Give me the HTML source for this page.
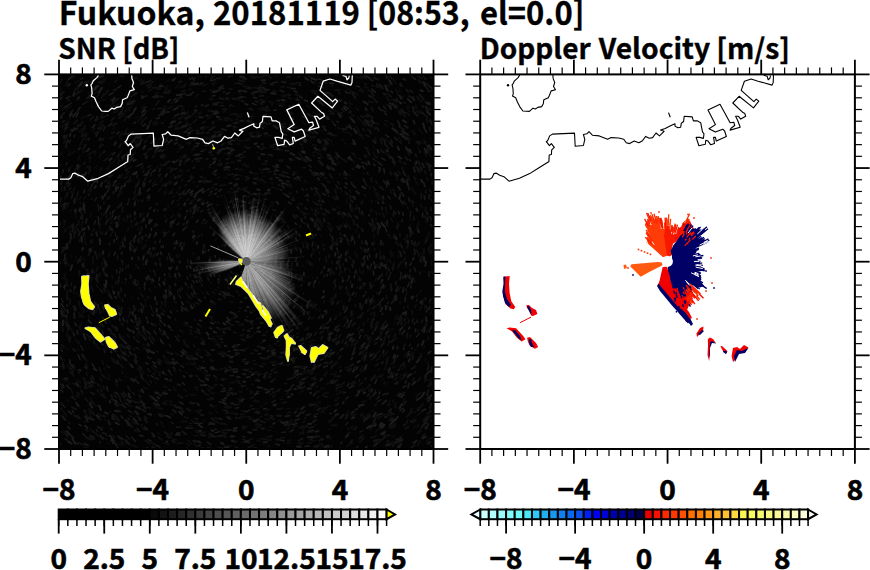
<!DOCTYPE html><html><head><meta charset="utf-8"><style>html,body{margin:0;padding:0;background:#fff;overflow:hidden}svg{display:block}.t{font-family:'Noto Sans CJK JP','Liberation Sans',sans-serif;font-weight:bold;font-size:28.5px;fill:#000;stroke:#000;stroke-width:0.35px}.d{font-family:'Noto Sans CJK JP','Liberation Sans',sans-serif;font-weight:bold;font-size:28px;fill:#000;stroke:#000;stroke-width:0.6px}.ti{font-family:'Noto Sans CJK JP','Liberation Sans',sans-serif;font-weight:bold;font-size:32.5px;fill:#000;stroke:#000;stroke-width:0.3px}</style></head><body>
<svg width="870" height="570" viewBox="0 0 870 570">
<rect width="870" height="570" fill="#fff"/>
<clipPath id="cl"><rect x="59.0" y="74.4" width="374.5" height="374.6"/></clipPath>
<clipPath id="cr"><rect x="480.2" y="74.4" width="374.7" height="374.6"/></clipPath>
<rect x="59.0" y="74.4" width="374.5" height="374.6" fill="#030303"/>
<g clip-path="url(#cl)">
<g fill="none" stroke-linecap="round">
<path stroke="#1c1c1c" stroke-width="1.5" d="M228.8 284.8l-0.9 -1.5M293.4 385.0l-2.2 2.0M63.0 249.8l0.1 -2.4M84.9 229.4l-0.0 -1.7M92.3 127.8l2.5 -3.1M224.9 388.3l-1.9 0.4M257.5 88.3l3.5 -0.6M67.7 313.3l0.1 -3.5M229.7 351.4l-1.3 -0.1M147.3 429.4l-2.8 -2.3M406.4 133.2l1.8 2.2M361.9 211.2l0.8 2.8M191.5 263.2l-0.9 -2.6M315.3 209.9l0.6 1.4M163.9 315.0l-2.4 -1.8M256.8 91.2l1.9 0.3M307.0 366.9l-3.0 1.6M202.6 367.2l-1.6 -0.2M116.2 298.3l-1.4 -1.8M255.1 421.9l-2.2 -0.9M118.7 449.0l-1.5 -2.0M210.7 338.8l-2.1 -0.5M98.2 128.5l0.8 -1.2M288.9 202.8l2.0 1.3M202.4 381.4l-3.5 -2.2M312.6 243.7l-0.3 2.2M434.5 318.5l-2.1 3.3M151.5 230.4l-0.1 -1.9M232.2 392.8l-2.3 0.6M117.2 382.0l-1.2 -2.0M205.6 106.7l2.8 -1.8M404.5 374.2l-0.7 1.7M414.5 322.5l-0.1 1.8M215.5 257.3l-0.4 -1.8M108.8 188.9l1.5 -4.1M385.4 431.1l-1.9 3.7M426.4 422.7l-4.1 3.3M221.0 294.8l-2.2 -1.1M279.3 175.0l2.8 0.1M177.2 407.8l-2.8 -2.3M213.0 221.1l1.5 -1.2M328.2 354.2l-3.1 2.9M426.5 212.1l1.2 2.7M144.5 142.4l1.2 -1.1M86.0 385.3l-1.0 -2.5M374.0 319.4l-1.5 1.3M160.2 286.2l-1.5 -2.7M402.8 212.8l0.4 2.5M315.4 393.5l-1.9 2.1M243.2 79.0l3.4 -0.3M160.0 363.3l-1.9 -1.9M217.9 90.8l2.7 -1.7M254.2 124.4l2.6 -0.3M310.8 80.8l3.2 2.6M191.3 202.3l0.8 -1.6M83.2 207.4l0.6 -4.3M383.8 350.4l-0.6 3.1M122.7 246.5l0.3 -4.2M392.6 418.6l-1.3 1.9M239.9 266.9l-0.5 -1.1M318.1 157.8l2.0 0.7M108.6 125.9l3.4 -2.9M181.3 248.3l0.9 -1.6M66.2 264.1l0.4 -1.5M390.9 442.9l-4.4 1.7M297.8 366.4l-3.5 0.5M367.1 256.1l0.9 3.4M202.5 357.6l-1.9 -0.8M73.4 332.2l-3.2 -4.1M226.5 94.2l3.0 -1.8M200.4 445.4l-2.4 -0.0M237.4 316.6l-2.4 0.6M94.3 367.2l-2.2 -3.3M283.2 293.1l-1.2 1.6M125.8 280.0l-0.0 -1.5M102.9 344.8l-2.6 -2.9M430.1 87.0l3.1 2.0M406.1 289.2l-0.3 1.0M81.3 425.6l-2.3 -1.3M109.4 95.0l3.4 -2.1M301.2 218.5l0.7 3.0M319.5 86.2l3.7 1.7M301.5 374.2l-2.3 0.1M248.1 116.6l2.0 0.5M63.6 306.9l-2.4 -3.2M109.4 338.8l-0.2 -0.9M184.1 132.7l3.0 -1.9M247.9 362.9l-1.9 0.0M221.0 86.5l2.1 -0.9M281.8 421.7l-1.3 0.7M352.4 184.7l3.1 2.9M71.8 414.1l-3.6 -3.0M360.1 360.9l-0.9 0.8M172.9 223.3l1.0 -1.9M221.0 448.8l-2.1 -1.1M310.4 282.5l-0.8 2.0M110.4 402.3l-0.4 -1.2M161.9 322.3l-2.0 -2.2M210.7 80.4l4.6 -0.7M389.3 340.3l-0.2 2.7M298.2 371.4l-2.3 0.2M414.3 249.3l1.1 4.8M198.4 423.6l-4.7 -0.9M117.2 406.1l-2.6 -2.7M179.0 123.2l1.9 -1.4M120.6 76.0l3.4 -1.0M326.2 327.1l-3.0 1.4M430.2 216.7l1.7 4.1M125.1 296.1l-0.1 -1.6M314.9 306.4l-1.5 0.9M114.2 242.2l0.1 -2.4M160.6 416.1l-2.1 -2.1M212.4 267.9l-0.8 -1.4M343.1 173.8l2.1 1.3M147.1 261.5l-0.3 -2.1M150.7 358.4l-3.2 -1.3M171.2 268.4l0.1 -1.5M138.3 138.0l2.5 -2.1M362.1 329.3l-2.2 1.5M66.4 379.9l-2.3 -1.7M148.0 364.0l-2.4 -1.2M330.3 337.4l-1.0 2.8M94.2 343.5l-0.2 -2.6M149.5 209.0l1.6 -1.5M299.4 85.1l1.2 0.1M224.9 246.5l0.5 -1.9M324.3 266.6l-0.3 2.1M374.0 77.7l1.7 1.1M382.4 413.5l-3.9 1.2M250.0 376.7l-3.6 0.9M156.1 264.8l-0.7 -1.9M397.5 373.5l-1.6 2.0M88.4 140.0l0.8 -1.7M133.9 123.1l2.0 -0.8M396.8 288.6l-1.0 2.8M130.6 102.2l4.2 -1.6M385.1 393.5l-2.0 1.3M240.0 219.8l1.8 -0.8M174.8 115.9l4.3 -2.0M135.4 441.5l-1.8 -2.7M156.4 367.2l-2.9 -1.8M281.8 310.5l-1.4 0.6M76.3 325.8l-1.4 -3.1M270.2 178.3l1.7 0.9M425.7 409.0l-4.0 2.2M409.3 159.5l1.3 1.3M172.5 162.0l1.5 -0.8M360.6 335.2l-1.2 3.0M253.8 97.5l2.9 0.5M411.2 262.9l-1.3 2.5M295.8 230.8l0.9 1.8M62.7 391.9l-1.8 -1.6M95.2 383.4l-2.9 -2.0M273.3 144.2l3.1 0.2M180.1 433.0l-3.5 -0.1M246.3 87.8l4.7 0.2M132.2 114.4l1.7 -3.0M334.2 424.5l-1.0 1.3M87.8 421.6l-2.2 -4.5M331.8 74.3l4.8 1.3M408.6 187.2l0.1 2.4M92.0 235.1l-0.3 -1.2M79.9 261.5l0.8 -4.4M171.4 312.7l-1.2 -1.6M312.9 368.4l-2.4 3.3M280.9 125.7l2.6 1.5M66.5 318.1l-1.9 -2.7M405.9 385.8l-3.0 1.6M397.1 441.4l-0.6 1.1M136.8 362.8l-2.4 -1.8M356.4 86.3l3.0 0.5M199.8 158.5l2.1 -0.2M307.1 194.3l1.2 1.6M74.5 314.8l-0.2 -2.6M98.4 219.8l-0.2 -2.8M376.0 392.6l-3.1 3.1M149.1 345.6l-1.4 -1.9M112.3 154.7l2.5 -2.1M83.9 192.8l0.7 -2.8M87.5 116.1l3.4 -1.6M246.7 320.4l-1.7 -0.7M359.0 207.9l0.5 1.8M156.1 334.1l-2.1 -3.3M326.0 310.4l-1.8 1.2M385.7 135.1l2.9 1.9M129.6 394.4l-1.3 -1.2M331.6 349.7l-1.3 1.7M431.2 403.6l-1.3 5.2M288.7 259.9l-0.9 2.5M69.9 429.0l-2.2 -2.5M161.2 395.5l-1.3 -0.4M382.7 195.7l1.1 2.8M95.2 337.5l-1.7 -1.4M144.1 175.3l1.8 -1.3M320.2 351.5l-0.9 1.9M345.1 106.2l3.3 2.7M117.0 134.0l2.0 -2.0M279.3 105.7l2.7 0.2M376.5 379.7l-1.5 3.9M183.0 404.0l-3.4 -1.9M365.9 353.2l-1.0 4.1M286.6 176.5l2.6 0.9M238.3 228.7l2.0 -0.8M147.0 319.0l-0.8 -2.0M187.3 200.4l1.3 -1.3M258.3 147.5l1.4 0.2M369.4 223.1l1.1 1.6M377.8 202.3l0.9 1.2M241.1 96.4l4.0 0.8M327.3 274.5l-0.5 1.4M184.5 384.7l-2.0 -1.9M246.3 310.8l-1.1 -0.3M317.6 177.9l1.9 1.9M297.0 423.5l-4.5 1.1M145.5 411.8l-3.1 -1.8M213.7 113.2l3.4 -1.9M227.9 370.7l-2.6 -0.8M371.4 124.5l1.0 1.6M405.4 297.5l-0.5 3.8M88.2 303.7l-1.8 -3.4M68.1 183.9l0.5 -4.2M348.0 320.4l-1.0 2.3M270.9 223.0l1.5 1.4M365.9 291.4l0.0 1.4M401.0 394.2l-0.7 1.1M92.6 127.8l1.8 -1.6M343.9 401.6l-1.2 1.9M88.8 97.7l1.5 -0.9M346.7 342.1l-1.8 1.6M327.7 189.7l1.2 2.9M116.6 239.5l0.8 -2.8M228.5 76.9l3.9 -1.6M165.2 325.9l-0.9 -2.2M113.1 106.6l3.5 -1.1M262.6 270.3l-1.6 1.0M410.8 286.0l0.3 1.9M276.5 242.0l0.9 0.7M310.3 218.4l2.0 2.5M115.0 419.4l-3.1 -1.1M353.8 339.3l-2.0 2.5M261.8 102.3l2.6 -0.2M69.2 326.4l-2.4 -3.1M145.8 278.7l0.5 -1.6M323.1 359.1l-2.6 1.0M416.2 166.9l1.0 1.3M423.7 182.4l1.2 4.2M383.1 298.6l-1.4 1.8M77.4 405.9l-1.5 -3.6M299.3 418.9l-4.1 1.3M410.1 232.3l0.8 3.1M422.6 212.9l0.2 4.0M354.4 349.7l-1.3 3.1M244.5 190.3l1.3 0.4M126.6 160.1l1.6 -1.7M384.0 341.2l-0.3 2.5M228.1 207.8l1.4 -1.1M322.5 126.5l2.4 0.5M345.4 91.1l1.6 2.3M357.7 367.0l-1.6 2.5M284.9 299.1l-0.7 1.7M170.1 317.9l-2.3 -1.9M152.5 324.8l-1.2 -1.6M409.3 351.6l-1.7 1.4M214.6 174.8l1.6 -0.3M150.9 441.2l-2.5 -1.6M84.1 357.4l-1.6 -3.1M385.7 229.0l1.3 3.0M158.4 446.6l-3.2 -1.7M412.1 347.8l-0.3 1.2M351.6 334.2l-1.3 0.8M200.0 333.6l-1.3 -0.5M74.4 335.8l-1.8 -4.4M336.8 248.1l0.6 1.9M187.5 129.5l3.3 -2.2M114.3 443.5l-1.5 -0.3M105.5 234.3l1.0 -2.1M84.9 291.4l-0.5 -2.9M73.6 412.5l-1.4 -2.0M362.0 162.2l1.5 0.8M137.9 424.2l-3.6 -1.8M230.0 355.8l-2.4 -0.4M142.2 239.5l-0.4 -2.9M351.4 320.3l-1.2 2.3M239.5 344.5l-2.8 0.8M212.4 96.1l2.5 -0.5M287.1 77.2l2.8 -0.4M290.7 117.7l2.5 1.6M230.5 140.3l3.6 0.3M381.7 158.1l3.4 2.0M412.2 77.0l3.2 2.3M428.1 102.0l2.1 1.4M229.2 293.6l-1.6 -0.8M349.0 275.8l-0.1 2.5M187.7 181.4l2.7 -1.0M247.9 411.5l-3.9 0.1M115.8 400.9l-4.1 -1.9M94.1 393.9l-2.8 -1.2M201.2 151.3l2.3 -0.3M160.3 331.1l-0.8 -2.5M322.8 193.3l2.4 1.9M97.2 182.7l0.2 -3.0M209.8 165.0l1.0 -0.1M409.6 282.3l-1.9 4.4M260.8 353.6l-2.7 0.3M184.9 117.9l3.1 -0.4M372.8 74.7l1.9 0.6M248.8 215.2l1.3 -0.0M337.5 212.6l1.4 1.9M296.6 300.1l-1.6 1.2M291.7 276.1l0.1 2.7M173.8 364.3l-1.9 -2.3M237.9 178.8l0.9 0.2M164.6 142.4l2.8 -2.1M386.5 182.7l0.5 4.3M279.1 160.6l2.5 0.6M302.6 116.7l2.9 0.8M249.6 331.3l-2.0 -0.6M321.3 173.6l2.1 1.7M303.5 160.0l3.5 1.7M100.6 208.9l-0.1 -2.5M274.7 349.5l-2.9 2.2M170.1 258.9l-0.5 -2.1M107.8 192.0l0.1 -2.0M246.3 280.0l-1.7 -0.1M378.6 107.2l2.7 3.4M91.3 186.5l1.5 -2.6M243.5 251.9l1.5 -0.3M75.3 129.8l1.9 -1.5M122.9 418.3l-1.7 -2.5M345.3 392.3l-2.0 0.6M193.1 79.3l1.6 -1.0M378.3 227.8l1.0 1.3M377.5 149.6l1.4 2.8M111.6 218.0l0.9 -2.5M266.3 408.4l-2.7 0.6M296.4 258.1l-0.6 2.8M394.4 235.9l1.2 3.0M389.1 415.0l-4.6 2.4M64.7 258.7l0.1 -4.3M326.3 210.7l2.5 2.1M319.8 316.3l-1.3 1.9M400.5 244.3l2.1 3.6M182.4 397.9l-2.6 -1.8M391.6 412.4l-1.0 0.7M383.8 168.6l0.7 4.4M403.2 408.4l-3.2 2.2M336.7 121.4l1.6 0.7M295.6 157.3l2.5 0.7M249.1 337.3l-2.1 -0.0M181.8 250.0l0.7 -1.7M276.1 148.5l2.8 0.1M309.0 311.8l-1.4 2.0M318.1 345.6l-1.4 1.8M230.8 430.1l-4.0 0.5M69.6 388.4l-2.9 -3.1M127.5 204.5l0.5 -1.5M104.5 95.0l2.7 -4.1M159.3 405.4l-1.9 -2.2M184.9 219.1l0.6 -2.9M404.4 410.0l-1.5 2.4M213.0 406.7l-2.7 -1.8M316.4 416.6l-2.4 0.3M192.4 357.1l-1.8 -1.5M345.4 183.0l1.9 1.1M278.2 121.5l1.7 0.0M125.5 407.3l-3.8 -2.4M427.1 145.6l1.6 3.5M252.8 327.8l-2.3 1.2M267.9 256.1l0.3 1.0M118.4 394.3l-3.0 -1.9M247.8 363.5l-2.4 0.5M318.2 79.0l3.3 0.9M107.9 390.7l-1.3 -4.1M258.5 413.4l-3.2 -1.1M318.3 200.7l1.5 0.8M264.9 90.6l3.8 -1.2M402.9 78.6l2.5 1.5M163.3 247.4l-0.3 -1.7M258.2 158.3l1.6 0.8M263.4 169.3l2.9 0.0M189.5 297.8l-0.7 -1.8M225.1 332.8l-2.3 -0.3M379.5 266.3l0.8 2.0M291.4 88.5l4.0 0.1M221.7 435.8l-3.4 0.1M238.1 275.5l-0.7 -0.9M261.1 124.3l2.0 -0.7M418.8 80.0l1.1 2.4M146.6 82.6l4.0 -2.2M63.9 137.6l0.4 -2.1M217.9 249.2l0.5 -1.7M248.0 230.4l1.1 -0.3M342.9 348.1l-2.6 2.3M201.6 320.8l-2.2 -0.5M312.6 115.6l3.7 2.5M362.3 121.8l3.7 2.1M112.5 213.2l1.7 -3.0M199.2 405.4l-2.2 -2.1M153.1 377.0l-2.0 -1.4M62.5 351.3l-2.2 -2.8M250.7 280.2l-2.0 1.4M293.8 335.7l-1.2 1.0M301.3 151.6l3.5 1.9M424.2 128.4l2.6 4.2M315.6 234.6l0.5 0.8M335.3 382.2l-4.2 1.0M163.8 232.9l0.3 -0.8M166.7 296.2l-1.0 -1.6M335.8 317.8l-1.0 1.3M284.2 440.9l-4.4 -1.1M224.1 225.2l2.1 -0.4M167.4 416.3l-2.6 -0.9M208.3 251.0l1.1 -1.5M118.8 114.4l2.7 -3.0M278.7 341.1l-1.2 0.3M286.6 185.0l3.3 0.2M80.1 359.8l-1.8 -5.0M354.8 275.2l-0.6 2.6M368.8 214.6l0.8 1.3M279.7 326.6l-1.4 1.6M373.3 270.9l0.5 4.1M331.4 413.4l-1.4 0.2M196.1 143.3l3.3 0.1M398.2 211.5l1.4 2.5M341.2 370.2l-1.2 1.7M284.8 331.6l-1.1 0.4M336.4 154.8l3.2 1.4M403.8 276.2l-1.3 2.3M158.9 280.6l0.7 -3.1M309.1 446.0l-3.9 0.5M67.1 142.4l1.1 -2.2M356.1 270.0l-1.2 2.5M397.8 355.4l-0.9 1.8M395.7 236.5l1.3 3.3M348.8 383.5l-1.3 2.6M76.2 117.2l2.1 -4.6M379.8 392.1l-0.6 1.7M377.4 150.6l1.3 2.5M365.5 163.0l1.6 1.6M179.0 165.4l1.7 -0.7M75.2 233.2l-0.6 -2.4M188.9 428.3l-3.2 -0.6M327.4 366.0l-3.9 1.0M398.8 197.3l1.6 3.2M186.5 211.5l1.0 -1.0M294.0 360.8l-1.3 0.4M301.7 349.2l-1.8 1.9M173.7 162.8l2.8 -1.5M165.8 334.8l-3.0 -1.4M120.0 321.0l-0.4 -2.8M99.4 140.5l1.3 -2.4M323.4 185.4l2.2 1.6M252.6 103.3l3.4 1.6M338.0 325.6l-0.3 1.2M123.0 340.2l-2.5 -2.7M346.0 310.6l-1.7 1.6M140.1 142.5l2.0 -3.2M107.4 276.1l-0.8 -2.0M140.5 334.7l-2.2 -2.6M371.8 89.0l3.6 3.4M175.5 363.8l-3.1 -1.1M97.9 308.4l0.5 -4.0M334.1 124.4l1.6 1.2M365.9 301.0l-0.8 1.7M189.7 95.0l3.8 -2.9M246.2 311.0l-1.5 -0.4M257.1 146.0l2.6 1.2M295.2 222.9l1.3 1.4M390.9 91.1l1.5 1.3M265.4 375.6l-1.7 1.2M247.3 191.7l1.7 0.5M433.0 240.9l1.0 2.1M323.3 149.6l2.1 0.7M196.4 146.7l1.6 -1.7M274.8 276.4l-0.6 1.6M221.2 402.4l-1.9 -0.6M399.7 447.4l-1.6 1.4M383.6 139.1l1.3 3.2M346.4 259.1l0.2 2.2M400.1 194.2l0.2 3.0M359.6 278.7l0.4 1.9M369.4 254.6l0.4 2.4M103.5 309.2l-0.7 -3.0M211.1 78.4l3.3 -2.4M335.4 415.6l-1.1 1.5M117.9 87.9l2.9 -2.1M309.7 262.1l0.6 2.7M245.4 385.8l-3.6 0.5M196.8 133.3l2.3 -0.1M380.6 291.3l-2.0 2.8M182.2 356.3l-1.5 -0.8M153.7 211.3l1.2 -1.9M147.3 191.1l2.6 -2.2M362.8 166.0l1.6 2.6M191.8 287.7l-0.2 -2.0M412.8 420.3l-2.1 1.3M133.1 315.4l-0.9 -3.6M67.2 316.4l-0.7 -0.9M264.6 312.6l-1.4 0.4M371.5 263.9l-0.7 2.3M208.3 268.4l-0.0 -1.6M72.4 227.5l0.8 -3.6M243.7 196.3l1.9 -0.3M428.4 423.8l-2.3 5.3M166.5 298.2l-1.0 -1.4M114.0 255.3l1.3 -3.2M275.4 365.0l-2.9 0.3M238.4 91.7l2.3 -0.9M274.9 423.0l-2.1 1.0M403.3 171.4l2.0 4.3M372.5 390.0l-2.0 2.0M219.6 431.6l-4.2 1.2M266.2 212.1l1.2 0.8M275.8 177.5l2.7 0.4M164.7 275.5l-0.1 -1.7M189.9 203.8l2.0 -1.3"/>
<path stroke="#131313" stroke-width="1.5" d="M128.1 267.2l0.2 -2.1M258.6 393.3l-2.6 -0.0M135.8 144.0l1.3 -0.7M162.2 303.9l-0.5 -2.0M62.5 172.5l0.0 -1.7M262.8 387.6l-2.8 0.2M243.3 414.3l-2.4 0.3M65.1 255.5l0.6 -1.8M357.9 341.1l-0.9 1.1M158.1 401.3l-3.9 -2.6M355.6 382.6l-2.7 1.9M252.3 122.6l2.5 1.1M185.2 433.4l-1.6 -1.1M114.6 82.0l2.6 -1.9M103.9 260.5l0.0 -2.8M79.4 261.2l0.2 -2.4M293.7 283.6l-1.7 1.8M190.9 179.2l1.4 -0.3M213.0 339.0l-2.2 -0.3M348.2 279.2l-1.1 1.9M250.9 230.9l1.0 0.2M190.7 276.0l-0.4 -1.7M83.6 164.5l1.6 -2.0M257.2 279.2l-0.9 0.7M227.8 411.3l-4.3 -1.5M340.1 112.3l1.9 0.8M264.0 199.2l3.0 -0.0M149.5 133.3l4.0 -0.8M100.6 371.5l-1.5 -4.1M151.3 82.5l2.0 -1.0M315.1 203.3l1.7 1.2M87.3 282.5l-0.2 -4.2M355.6 366.3l-1.7 2.4M333.0 418.6l-3.6 3.8M235.2 285.6l-1.5 -1.7M427.4 416.4l-3.8 3.1M100.5 443.2l-1.1 -1.7M129.5 439.3l-3.4 -3.9M323.2 244.7l0.4 1.6M192.4 358.9l-2.6 -0.4M124.6 120.4l2.1 -3.9M320.6 199.8l0.6 1.8M370.0 416.7l-2.0 1.1M318.7 194.4l1.5 1.6M302.8 443.1l-4.6 0.1M402.6 326.2l-0.0 1.8M204.5 253.0l-0.4 -1.8M281.7 327.3l-3.0 1.3M130.1 243.2l1.3 -2.4M79.0 125.6l4.0 -3.9M138.7 242.7l0.7 -2.6M222.3 246.2l0.8 -1.3M177.9 363.2l-1.5 -1.6M281.5 124.4l3.8 -0.7M417.4 299.1l-0.9 2.1M168.8 90.3l1.6 -0.1M97.7 105.2l1.7 -3.7M234.0 127.3l2.8 -0.2M252.5 201.4l1.5 -0.3M391.1 139.6l1.3 2.5M145.2 334.2l-2.1 -3.5M140.8 124.4l2.4 -4.5M410.5 343.9l-1.3 2.3M64.3 347.4l-3.2 -2.9M293.0 214.9l1.9 1.2M110.9 120.6l3.5 -3.0M164.4 106.7l1.4 -0.5M293.6 216.8l2.3 1.2M114.6 437.1l-1.7 -1.6M260.2 426.7l-2.5 0.6M280.5 409.3l-3.5 -0.6M373.5 187.4l2.3 2.7M143.6 154.1l2.1 -0.7M304.7 421.2l-1.7 0.9M64.6 289.4l-0.6 -2.8M330.1 233.4l0.1 2.5M225.5 400.6l-3.4 -1.2M355.7 343.4l-1.4 1.6M397.0 94.4l2.8 1.5M220.0 185.4l1.7 -0.2M288.4 105.9l2.6 0.5M417.1 96.6l2.3 2.9M337.1 242.2l0.8 2.6M410.1 235.3l-0.3 1.7M337.6 379.8l-3.3 2.4M425.8 426.7l-1.6 1.1M156.1 184.8l1.3 -0.7M253.3 397.2l-2.6 0.8M235.4 179.1l2.1 0.4M75.7 213.0l0.7 -3.6M122.6 352.3l-1.8 -1.9M129.8 314.2l-0.5 -2.9M170.3 223.4l0.1 -2.1M74.9 384.5l-1.9 -1.1M121.4 206.2l0.2 -3.7M202.1 285.9l-0.6 -1.9M295.8 83.3l4.8 -0.5M303.0 167.5l2.1 0.3M185.3 119.4l3.4 -1.3M110.9 100.5l0.6 -0.8M304.6 77.1l3.8 3.3M350.5 281.2l-0.1 1.5M109.6 220.3l0.3 -1.7M298.3 297.4l-1.2 1.7M316.5 99.1l1.8 0.4M246.4 310.0l-2.1 0.8M260.0 99.6l4.1 1.4M176.3 302.8l-1.7 -1.3M317.3 276.6l-0.5 2.1M192.9 296.7l-1.0 -2.0M173.5 363.4l-0.9 -0.5M60.5 264.1l-0.4 -3.1M109.5 425.2l-1.7 -3.5M176.8 338.3l-1.4 -2.0M194.5 346.5l-0.9 -1.2M386.8 223.2l0.4 3.3M370.3 384.5l-2.6 2.8M211.5 74.9l2.6 -0.3M234.8 114.8l1.9 -1.0M422.7 319.8l-1.5 2.6M403.5 201.3l2.7 3.2M57.6 99.5l5.0 -2.7M114.4 293.5l-1.3 -1.9M88.5 173.1l1.9 -2.9M340.3 233.3l0.4 1.4M193.4 147.5l1.7 -1.4M294.6 361.8l-1.5 1.5M284.4 229.2l0.5 1.4M362.9 123.6l3.4 2.7M138.7 349.2l-2.8 -1.8M91.6 407.3l-1.4 -2.8M204.7 361.7l-1.7 -0.2M90.7 191.1l0.6 -2.4M336.4 326.8l-1.3 2.2M246.0 166.4l2.8 0.1M324.6 342.8l-0.8 1.2M262.6 317.1l-1.8 1.4M333.9 352.8l-1.0 1.7M283.5 183.1l1.9 0.7M245.0 235.2l1.0 -0.5M186.1 434.8l-3.0 -2.6M253.9 193.1l2.3 1.1M141.5 229.9l-0.2 -1.8M383.7 255.6l0.0 2.6M227.8 279.6l-1.1 -1.6M127.5 218.0l-0.2 -2.3M88.0 401.5l-3.2 -3.5M285.3 172.5l2.5 0.8M395.9 138.8l2.2 1.2M270.2 147.3l3.9 -0.4M201.7 410.3l-2.7 0.2M70.3 241.2l1.6 -3.2M120.1 364.3l-4.1 -2.5M149.7 371.5l-2.1 -2.8M197.4 211.3l1.0 -2.1M411.8 408.6l-1.7 2.8M146.8 418.3l-2.5 -1.2M270.4 312.1l-1.8 0.1M71.7 198.6l-0.1 -2.3M219.2 131.6l1.6 -0.5M326.6 138.6l3.7 1.8M68.8 155.6l0.4 -2.3M279.7 229.2l1.4 1.7M112.0 429.9l-1.9 -1.6M66.2 207.3l0.2 -2.4M60.8 444.2l-1.4 -1.5M139.7 370.7l-1.9 -2.4M79.4 394.4l-1.9 -2.2M152.6 397.3l-2.5 -1.5M302.2 352.2l-2.7 2.2M316.4 304.2l-0.9 1.2M267.7 190.3l1.5 1.4M316.3 332.1l-1.5 3.1M302.4 306.0l-1.0 2.6M174.7 244.4l-0.3 -2.1M416.7 226.7l2.4 4.3M367.6 120.5l3.1 1.9M257.6 157.1l2.3 -0.0M110.6 424.1l-2.3 -4.3M257.8 307.0l-1.2 0.6M328.5 268.8l-0.7 2.6M433.4 387.2l-0.8 3.7M273.7 275.3l-0.7 1.7M371.7 313.0l-0.6 1.3M126.5 348.2l-4.1 -2.3M226.0 164.0l2.4 -1.1M77.0 195.8l1.0 -3.8M362.9 414.9l-2.0 1.0M182.3 331.4l-2.6 -0.9M336.6 186.9l1.8 2.0M434.2 399.0l-1.6 1.5M303.5 245.9l0.2 1.5M366.1 377.8l-1.1 1.4M233.6 215.2l1.7 -0.2M77.6 263.1l1.3 -3.2M144.9 155.8l1.9 -3.6M368.6 298.4l-1.8 3.0M145.0 247.0l0.7 -2.4M340.4 225.1l1.1 1.4M81.3 214.1l-0.0 -2.1M391.6 417.5l-2.8 3.2M282.6 255.4l0.8 1.5M420.6 356.1l-1.8 1.7M434.5 300.3l-2.2 3.3M366.4 368.3l-1.9 1.9M415.6 371.5l-1.5 1.6M144.8 180.7l0.7 -3.1M291.5 344.1l-2.2 1.4M327.8 396.4l-3.1 0.8M337.1 226.4l1.3 2.4M335.8 294.0l0.1 2.8M262.1 289.1l-1.9 0.8M414.7 177.4l0.2 2.0M124.1 178.4l2.8 -1.6M260.4 247.5l0.6 1.3M134.6 338.5l-0.7 -2.0M201.4 235.6l0.6 -1.3M249.5 362.0l-2.4 -0.2M112.2 103.0l3.4 -3.1M104.9 182.1l1.5 -2.5M404.9 392.1l-4.2 2.2M281.1 87.0l3.0 -0.5M317.6 413.6l-3.5 1.7M144.0 331.5l-1.0 -3.5M290.1 83.8l4.8 0.3M252.2 216.1l0.9 0.3M380.7 255.9l0.9 2.2M377.7 229.8l0.9 2.1M427.1 177.8l0.4 2.1M79.3 373.2l-1.5 -3.0M312.7 241.9l0.7 1.8M209.8 391.1l-2.2 -1.7M347.6 318.6l-1.0 1.1M169.2 353.0l-2.1 -1.0M202.7 85.7l1.4 0.1M327.6 133.7l3.9 0.8M142.9 296.9l-0.2 -1.6M59.3 128.6l0.9 -2.7M431.1 381.9l-3.5 4.7M202.8 380.8l-2.6 0.1M89.7 171.3l0.5 -1.3M151.4 382.7l-1.4 -1.9M408.2 240.7l0.5 2.8M345.2 324.0l-1.2 2.8M289.5 125.3l2.5 -0.2M359.6 379.6l-0.7 1.7M102.5 334.6l-0.3 -2.3M200.7 370.2l-2.2 -1.5M426.4 118.1l1.1 4.1M142.9 172.4l1.0 -2.0M218.3 119.9l3.1 -0.8M121.0 271.0l-0.9 -3.0M413.5 411.7l-4.4 2.2M312.4 303.8l-0.8 2.0M271.2 374.3l-2.2 0.6M62.3 389.0l-0.7 -1.6M359.4 234.6l-0.3 3.2M380.9 440.1l-2.2 2.6M326.2 191.5l1.1 2.6M422.1 427.0l-1.8 2.0M331.5 101.6l3.2 2.7M212.5 173.9l2.0 -1.7M316.6 114.1l3.6 0.6M61.8 310.6l0.2 -2.7M172.6 330.5l-2.0 -1.5M357.9 165.3l1.0 3.2M64.1 138.5l3.3 -3.2M151.9 309.3l-1.1 -3.5M273.4 369.3l-2.1 1.5M118.1 284.2l-0.8 -3.3M104.8 377.8l-3.2 -3.3M124.1 247.5l0.9 -2.0M419.3 242.1l-0.6 2.1M368.0 90.0l4.3 1.5M268.1 110.1l1.8 0.2M221.6 384.7l-1.6 0.2M344.4 382.3l-2.7 2.8M76.5 226.3l1.0 -2.1M430.8 199.2l1.4 2.5M340.9 114.5l1.1 1.2M303.2 222.5l2.2 1.4M322.3 438.1l-3.1 2.8M130.1 217.6l0.1 -3.2M261.1 424.8l-3.2 -0.4M229.7 417.1l-1.3 -0.8M252.8 322.3l-2.0 0.8M245.6 211.1l2.1 -0.8M406.7 234.7l0.6 2.6M135.4 402.3l-2.3 -1.6M87.5 367.3l-1.6 -3.7M359.1 276.5l-0.4 1.8M212.0 188.0l1.6 -0.7M422.1 105.3l1.8 2.4M170.6 227.4l1.8 -1.6M115.7 236.2l-0.4 -3.4M332.8 303.0l-1.0 1.8M275.7 330.8l-1.5 0.3M239.3 381.4l-2.9 -1.3M415.1 365.8l-4.0 3.5M231.6 368.5l-2.3 -1.5M122.6 271.0l0.2 -2.9M145.4 263.4l0.3 -2.2M138.7 402.8l-3.3 -1.2M317.2 435.7l-2.9 1.1M372.2 229.6l1.3 2.1M232.6 240.4l1.0 -1.2M176.7 440.1l-3.7 -1.0M98.3 211.0l0.5 -3.7M93.7 394.4l-3.0 -2.1M240.0 158.4l3.0 -1.3M102.1 234.2l0.1 -2.2M315.0 420.8l-2.0 1.8M90.9 387.3l-2.5 -1.6M122.7 134.6l3.5 -1.6M299.0 248.0l-0.0 1.5M341.5 108.2l2.5 3.0M332.9 208.2l0.3 2.6M171.7 405.2l-1.5 -1.2M363.3 388.7l-1.0 2.4M100.7 197.6l1.6 -2.1M364.1 179.4l1.5 3.8M136.0 166.5l2.5 -1.2M267.0 260.4l-0.7 1.5M158.0 425.4l-1.4 -1.9M351.9 153.0l2.8 1.7M122.7 77.6l1.9 -2.7M310.1 262.7l-0.2 1.5M103.9 160.7l4.2 -2.6M98.2 436.1l-2.3 -2.8M160.3 189.6l0.6 -0.9M331.4 176.7l1.1 1.3M180.8 371.1l-1.3 -1.4M230.6 188.7l1.5 -0.2M250.6 417.1l-3.1 -0.0M394.6 361.9l-3.4 2.3M323.6 439.5l-2.6 0.4M121.8 345.5l-1.7 -1.3M264.5 439.2l-2.7 -0.4M316.0 203.1l2.8 2.0M378.1 363.7l-2.5 2.2M160.2 373.4l-0.7 -0.8M299.9 385.9l-3.4 0.6M260.2 412.1l-3.6 -1.0M169.3 275.1l0.1 -1.5M377.7 398.4l-1.5 1.0M300.8 248.8l0.6 1.7M165.2 333.6l-0.6 -1.6M99.2 147.7l4.0 -3.1M229.6 143.3l1.1 -0.2M165.6 140.1l1.8 -2.1M319.6 258.6l-0.2 1.8M292.2 319.8l-1.2 2.2M247.8 271.7l-1.8 0.1M193.5 122.3l3.1 -2.8M202.7 221.2l0.9 -1.5M256.2 420.5l-3.2 -0.7M343.8 83.2l1.8 2.2M335.8 185.0l1.8 1.7M214.1 132.1l4.1 0.3M201.5 203.4l2.1 -2.1M380.3 139.9l2.0 4.0M349.8 367.8l-2.9 2.6M286.7 247.1l0.8 1.6M417.6 76.0l4.5 2.7M378.3 321.6l-2.8 3.3M216.8 385.1l-2.1 -0.0M148.4 332.5l-3.0 -2.0M408.8 320.0l-0.6 2.9M389.7 435.1l-4.2 1.0M86.5 383.7l-0.7 -1.3M103.1 334.0l-1.2 -4.0M330.2 271.6l0.1 3.3M233.6 296.7l-2.2 -1.1M211.3 128.2l2.4 -0.9M223.7 449.0l-4.1 -1.5M106.0 222.1l2.1 -2.5M73.5 397.2l-0.4 -1.4M177.8 292.7l-0.2 -2.8M404.6 238.4l1.6 2.8M125.4 155.4l0.7 -2.1M394.4 373.0l-3.6 3.1M384.5 256.7l-0.2 2.8M90.6 413.8l-1.6 -4.4M363.6 330.1l-0.9 2.0M117.2 208.1l0.7 -2.0M281.7 95.0l2.5 1.8M298.9 323.4l-1.0 1.0M101.0 170.6l0.7 -2.7M258.6 391.4l-1.9 0.1M150.5 335.2l-1.7 -3.5M286.7 166.3l2.9 1.0M362.9 430.8l-3.0 1.2M73.4 190.1l1.1 -2.1M399.8 160.2l0.7 2.1M202.3 91.3l2.9 0.3M136.6 177.7l1.0 -2.7M326.4 260.1l0.1 1.9M276.8 328.5l-1.1 0.5M267.3 439.8l-3.9 -1.0M230.6 284.2l-1.0 -0.2M66.2 311.2l-2.2 -3.2M326.1 362.2l-2.2 1.0M358.9 374.5l-3.2 2.2M352.7 238.1l1.4 2.0M371.1 223.8l-0.5 2.9M100.3 386.5l-3.1 -2.7M140.8 83.6l3.1 -2.6M389.6 75.0l2.8 4.5M407.7 332.9l-0.9 5.0M376.2 415.9l-2.2 4.1M210.7 204.6l2.1 -1.3M362.9 313.0l-2.0 3.1M382.5 242.9l0.8 2.0M214.1 136.8l3.6 -0.3M278.3 184.3l1.7 1.6M376.9 342.5l-2.4 2.0M181.6 91.6l3.3 -1.2M340.6 334.8l-2.0 3.0M279.6 218.1l0.7 0.8M365.5 183.7l1.4 1.9M112.7 232.5l0.4 -1.4M66.4 260.4l-1.2 -2.7M183.2 86.1l2.1 -1.6M394.2 297.0l-0.1 2.3M79.9 443.3l-1.2 -0.6M231.8 262.3l-0.1 -1.5M286.5 329.3l-1.8 1.2M172.1 374.8l-1.3 -0.3M173.4 423.3l-2.4 -0.8M264.0 109.6l3.0 1.7M272.4 362.0l-1.3 0.3M247.6 196.7l1.7 0.2M352.3 168.2l1.3 1.6M149.4 443.5l-3.9 -3.1M240.8 402.0l-1.8 -0.6M414.9 426.3l-0.6 1.4M269.2 77.0l2.4 0.9M75.7 399.7l-4.8 -2.8M281.4 241.1l1.1 0.9M344.9 177.9l1.6 0.7M404.7 375.1l-1.8 3.6M431.1 410.6l-3.7 3.5M376.4 404.0l-1.3 1.5M212.4 83.6l1.1 -0.4M399.4 141.8l1.5 1.5M273.2 349.5l-1.5 0.8M292.8 285.5l-1.2 1.0M81.0 316.7l-2.1 -3.8M217.6 418.8l-2.8 -1.3M364.5 115.3l3.1 1.7M72.3 197.2l0.3 -3.6M216.1 322.8l-1.3 -0.9M223.7 432.4l-1.8 0.0M242.8 164.8l2.0 0.3M311.9 132.4l1.6 1.0M305.1 158.3l2.9 1.2M112.5 100.0l2.8 -2.7M184.9 342.7l-1.3 -2.5M371.3 107.6l1.8 3.6M251.8 372.2l-2.8 -0.6M185.2 124.9l2.2 -2.4M290.4 299.9l-1.9 1.2M299.7 278.9l-0.8 1.7M179.8 263.5l0.6 -2.0M373.7 127.8l1.6 1.3M202.5 123.2l2.6 -1.6M280.6 211.6l2.3 1.4M360.4 246.9l0.9 2.0M232.9 207.7l2.1 -0.5M69.3 189.7l1.7 -2.2M387.9 234.8l0.7 1.0M231.8 174.0l2.4 0.6M102.0 391.7l-1.0 -2.6M187.4 262.1l0.5 -2.4M245.5 180.1l2.3 -0.7M242.2 401.5l-2.4 -0.6M423.8 114.1l3.8 3.1M275.1 395.2l-2.5 1.8M396.4 337.9l-1.5 1.6M78.6 168.7l1.4 -3.1M245.0 140.7l3.1 -0.8M421.2 193.6l0.1 5.1M79.9 329.3l-0.0 -3.2M107.5 340.0l-3.3 -2.4M187.4 325.1l-0.8 -1.9M386.5 333.8l-0.5 2.5M426.0 190.1l-0.1 3.2M337.6 181.5l1.9 2.6M417.2 295.4l-0.8 1.0M161.5 123.6l1.7 -1.1M393.7 355.1l-0.4 2.2M127.4 322.6l-0.4 -2.5M224.2 353.8l-2.1 -0.8M67.8 101.0l1.6 -1.3M239.4 403.9l-2.8 1.0M228.9 288.8l-0.9 -1.2M192.8 375.9l-2.1 -1.1M322.1 326.1l-1.8 2.6M101.2 419.8l-3.9 -2.0M256.1 447.3l-4.3 1.5M217.3 196.7l1.1 -0.6M353.3 412.3l-2.5 1.4M187.6 125.2l3.0 -0.9M121.2 380.6l-2.6 -1.7M148.2 200.6l0.4 -2.0M381.3 287.6l0.2 1.2M178.8 262.0l0.4 -0.9M429.1 189.4l2.6 3.4M193.1 81.5l1.5 -1.4M245.8 87.2l3.9 1.8M342.4 276.9l0.4 3.1M253.2 353.3l-2.2 0.1M71.1 285.8l0.5 -2.8M371.3 96.6l3.8 2.9M98.3 222.1l0.8 -1.9M108.9 219.4l2.3 -2.5M372.6 158.4l3.3 2.1M252.8 209.9l2.2 0.7M220.5 105.7l3.4 -0.0M152.4 88.0l4.0 -1.1M194.0 360.0l-2.0 -2.0"/>
<path stroke="#171717" stroke-width="1.5" d="M93.9 379.6l-1.9 -3.8M176.2 161.4l1.8 -1.8M207.5 372.0l-2.2 -1.9M390.6 123.4l2.6 1.2M237.3 83.1l4.5 0.9M177.8 106.4l4.8 -0.5M257.8 219.6l1.7 1.5M62.6 172.8l0.8 -3.2M328.0 168.0l0.6 0.9M426.6 379.0l-2.1 2.6M141.4 96.5l0.8 -1.0M65.4 147.0l1.4 -4.6M98.1 224.2l1.0 -4.3M108.6 311.0l-0.7 -0.9M101.5 117.9l2.9 -1.2M340.3 188.1l0.6 1.0M380.9 332.0l-0.4 3.6M301.7 188.0l1.5 2.1M150.2 408.1l-2.2 -0.6M272.8 416.3l-2.5 -0.5M237.7 224.5l2.2 -0.3M199.0 304.1l-2.5 -1.5M135.3 308.7l-2.1 -3.2M224.7 400.7l-2.8 -0.9M105.0 352.4l-1.0 -2.7M98.8 240.4l0.8 -2.1M419.2 333.4l-2.6 3.4M70.8 131.4l0.8 -2.2M351.7 238.3l-0.0 2.2M255.2 199.8l1.6 0.5M260.4 103.5l1.7 0.6M170.6 347.0l-1.3 -2.8M121.6 309.9l-0.0 -2.4M283.2 193.1l2.5 1.9M347.1 192.9l0.4 1.5M180.6 297.8l-0.6 -2.1M426.8 323.6l-1.7 3.4M133.5 79.5l3.8 -1.6M367.6 129.5l0.9 0.4M216.5 102.8l3.1 -0.4M370.0 414.7l-1.5 2.1M362.4 352.5l-3.3 2.0M271.9 275.4l-1.1 1.9M238.7 321.9l-2.7 -0.3M116.7 273.1l-0.1 -3.4M258.1 135.2l3.3 0.1M395.3 357.0l-1.0 4.2M83.2 350.4l-2.6 -4.7M60.4 224.3l-0.1 -1.9M400.8 110.8l4.7 2.2M317.1 386.2l-1.5 0.5M367.0 172.9l1.1 1.6M229.7 240.6l1.1 -1.9M117.5 157.4l1.8 -3.0M382.9 343.3l-0.6 1.8M66.2 137.4l0.4 -2.1M281.3 415.4l-2.2 0.1M145.1 96.6l1.8 -0.9M345.1 259.0l0.7 2.3M226.4 242.2l1.3 -1.0M267.7 268.6l-0.2 0.9M285.4 432.2l-3.8 0.2M314.8 356.8l-3.6 0.8M178.9 165.2l1.8 -1.8M276.9 372.2l-2.8 0.4M164.6 92.8l4.3 -0.4M348.1 396.9l-2.3 2.1M373.3 425.0l-4.6 1.0M275.7 354.9l-2.7 0.6M222.9 260.9l0.8 -1.8M314.4 283.5l-0.8 2.3M140.5 397.2l-1.3 -1.8M85.5 436.4l-2.8 -3.0M287.4 166.2l2.2 2.3M330.8 338.1l-2.3 2.6M379.4 439.4l-2.0 0.9M396.2 281.7l-0.4 2.8M180.3 291.1l-0.8 -2.7M69.2 176.3l1.3 -2.2M144.9 289.6l-0.6 -2.4M253.2 234.2l1.5 0.6M246.7 148.3l3.1 -0.5M237.9 354.4l-3.1 1.0M150.5 176.1l1.0 -3.2M375.7 390.4l-1.7 3.1M388.0 392.8l-1.5 1.9M116.1 337.5l-2.2 -3.7M164.2 324.1l-0.9 -0.6M245.7 359.3l-1.7 -0.1M433.3 444.5l-2.4 1.9M159.4 171.4l0.7 -1.7M190.7 131.6l2.3 -1.3M129.5 389.0l-1.8 -2.4M414.3 419.7l-2.0 2.7M379.8 186.8l3.7 2.7M153.1 443.8l-2.9 -3.2M376.6 84.0l2.3 0.9M311.1 254.4l0.2 2.3M261.5 170.4l2.2 -0.6M288.0 94.2l2.0 1.4M263.9 241.2l2.0 1.4M93.3 314.6l-1.4 -1.5M94.1 224.2l1.5 -3.5M338.1 387.4l-1.9 1.4M80.1 418.7l-2.5 -2.8M370.2 337.0l-2.0 2.9M177.4 243.8l0.3 -1.1M258.9 90.6l4.4 0.9M178.9 340.9l-2.0 -1.7M106.1 434.0l-3.6 -1.3M154.9 151.6l1.8 -2.8M61.0 184.8l0.4 -3.0M388.6 441.0l-1.6 0.5M388.0 196.1l2.5 2.9M356.5 224.4l2.0 2.8M265.0 422.6l-4.4 -1.5M426.2 211.6l1.4 1.9M318.4 160.9l1.8 1.0M143.1 109.2l3.2 -2.4M224.3 169.5l2.6 -0.6M231.8 388.8l-2.2 -0.8M63.9 386.0l-1.3 -1.8M272.9 209.7l2.1 0.6M229.7 148.7l2.0 -1.0M275.4 406.1l-1.7 -0.3M291.5 422.3l-3.9 0.1M222.9 91.9l2.1 0.1M427.9 90.3l1.7 1.4M149.3 123.1l1.9 -2.7M178.4 118.7l2.3 -0.2M78.1 444.4l-2.1 -1.7M432.9 314.4l0.6 3.8M138.0 183.0l1.0 -0.6M96.1 136.3l2.2 -4.5M397.8 286.0l-0.9 2.8M315.7 445.6l-1.8 1.3M174.1 249.1l1.2 -2.0M287.0 180.6l2.3 1.3M130.7 96.6l2.0 -1.1M140.4 216.6l0.1 -3.4M298.1 296.1l-1.2 1.4M177.6 363.3l-1.8 -1.4M338.5 256.2l-0.4 2.1M346.4 286.4l-0.5 2.5M392.8 421.7l-3.5 3.9M233.7 375.5l-3.7 0.2M382.9 313.1l-1.0 1.4M315.1 377.4l-1.0 1.5M424.6 434.3l-3.0 3.7M336.4 267.0l-0.2 2.1M182.1 289.2l-0.5 -1.9M137.0 186.2l1.0 -2.2M425.6 297.7l-0.1 1.8M199.2 330.9l-2.0 -2.0M320.4 102.8l1.5 1.1M389.1 335.6l-0.4 2.1M69.7 114.2l3.1 -4.1M390.8 284.0l0.4 4.2M375.0 440.0l-1.7 1.3M134.8 138.3l2.7 -1.0M184.4 114.6l3.2 -1.7M426.6 110.2l1.1 1.7M82.8 104.4l4.2 -2.9M124.0 143.4l2.0 -1.5M141.8 83.9l2.1 -0.7M97.1 431.3l-0.8 -1.7M194.5 282.8l-1.6 -2.1M409.3 149.2l2.0 1.3M138.2 268.5l0.2 -1.2M99.7 329.7l-2.2 -2.1M254.1 91.5l2.3 0.8M154.8 272.6l-1.3 -2.3M209.3 213.1l2.4 -1.0M142.7 185.0l0.9 -3.1M64.2 224.7l0.5 -4.0M187.0 352.4l-2.6 -0.6M171.6 203.8l1.5 -3.0M382.6 110.3l3.1 1.1M105.7 224.5l1.5 -3.2M429.6 306.1l-0.1 3.3M352.1 385.0l-1.3 2.5M208.4 210.1l1.1 -1.4M215.1 189.5l2.3 -0.2M348.1 422.2l-2.4 2.6M328.3 226.5l1.1 2.5M98.2 206.7l-0.1 -2.2M235.6 169.4l2.2 -0.9M301.3 411.9l-3.0 2.6M339.6 384.2l-3.5 1.7M395.4 441.8l-2.8 4.3M295.2 376.4l-2.6 1.5M418.0 170.8l1.8 1.7M132.2 426.8l-4.2 -1.9M401.8 321.9l-0.5 2.5M200.8 211.6l1.9 -1.3M288.2 390.5l-3.1 0.6M359.2 134.5l3.0 1.3M156.8 225.7l0.5 -1.5M361.5 240.9l0.9 2.9M153.5 397.5l-3.6 -1.2M193.7 140.1l2.3 -0.8M339.9 237.7l1.9 2.4M59.3 180.1l1.6 -3.7M179.3 336.6l-1.1 -0.7M154.3 226.6l1.3 -2.7M357.7 130.3l1.2 1.8M322.4 80.5l3.9 2.6M139.4 431.5l-2.2 -3.0M404.1 319.2l-0.0 1.5M194.1 364.7l-3.1 -1.3M204.4 382.6l-2.0 -1.4M161.7 151.5l2.2 -1.8M390.9 272.5l-1.0 2.5M313.7 426.7l-4.5 1.3M427.8 217.0l0.1 4.3M258.5 379.3l-2.9 1.2M297.9 336.6l-1.2 1.2M333.4 301.4l-1.4 2.2M352.3 440.2l-2.7 3.5M319.1 219.4l0.3 1.9M173.5 169.6l3.3 -1.3M134.4 394.8l-1.3 -2.1M274.0 171.5l1.6 -0.2M60.6 366.7l-0.7 -1.1M233.3 126.4l0.9 0.1M305.0 386.4l-2.2 1.5M351.9 264.5l1.2 3.0M286.6 416.2l-1.4 0.3M186.5 222.2l1.6 -1.6M209.2 130.2l3.2 -1.5M101.6 82.1l1.3 -1.5M267.0 124.4l3.6 -1.0M322.2 336.2l-1.0 2.9M288.3 141.8l2.0 0.3M419.0 149.9l1.5 2.7M393.1 339.7l-2.3 2.5M393.8 413.7l-3.5 1.2M188.0 116.6l1.6 -1.1M319.0 219.7l0.9 1.6M303.2 338.0l-2.4 1.5M67.8 186.4l2.6 -3.2M233.4 402.9l-2.8 0.7M287.5 423.5l-3.0 2.3M384.0 323.5l-1.5 2.1M131.2 222.3l0.4 -1.6M381.2 282.0l-0.1 1.0M428.6 365.6l-1.2 4.4M427.9 308.3l-2.3 3.5M172.4 81.0l3.2 -3.1M237.9 233.3l1.1 -0.5M120.9 401.3l-1.2 -2.7M151.0 255.1l-0.0 -2.3M264.4 271.3l-0.4 1.5M194.0 289.7l-1.7 -1.6M379.2 396.2l-1.2 1.7M268.5 192.7l1.6 1.3M272.4 83.0l4.8 -0.9M194.4 403.5l-1.4 -0.9M396.2 98.3l2.0 3.1M286.9 281.7l-0.4 2.1M409.2 73.8l1.4 1.3M360.6 315.5l-2.6 2.5M202.3 423.1l-2.7 0.5M297.8 76.8l1.3 -0.1M124.1 134.4l2.2 -2.6M104.8 319.6l-2.5 -2.4M414.8 445.2l-3.4 2.4M369.7 130.8l1.3 2.5M186.3 223.5l1.6 -1.1M315.6 404.0l-1.3 0.5M266.6 308.4l-1.2 1.3M205.2 298.2l-0.5 -1.1M324.1 248.4l-0.0 1.6M103.4 130.7l2.0 -4.4M331.6 160.2l2.0 3.4M372.5 321.4l-1.0 1.8M314.3 223.1l1.7 2.5M408.7 141.7l0.5 1.7M152.7 186.3l2.4 -2.1M126.2 395.6l-2.6 -3.4M369.2 116.3l3.7 1.2M263.9 264.9l0.2 1.9M387.9 359.8l-1.5 2.5M331.5 157.3l2.3 4.0M131.4 134.3l1.4 -2.6M354.6 241.1l0.2 2.9M161.3 158.0l2.0 -2.7M129.0 419.8l-1.0 -1.8M406.2 89.3l2.3 2.6M304.7 207.7l2.4 1.7M232.6 249.7l1.4 -1.5M88.2 277.8l-0.2 -3.7M303.9 433.5l-3.5 -0.4M192.0 327.6l-2.1 -1.3M313.5 404.9l-3.3 0.8M300.8 203.5l0.8 1.0M205.7 435.6l-4.6 0.0M349.6 214.3l1.9 2.6M155.2 152.6l1.3 -1.6M169.7 192.8l1.6 -1.6M424.4 85.6l3.4 3.5M213.2 399.0l-2.3 -1.3M122.6 301.4l-0.2 -1.5M358.1 446.2l-3.0 2.9M422.4 256.1l-0.5 1.7M158.4 378.9l-3.4 -0.8M217.7 142.7l2.5 -1.0M187.8 323.3l-2.7 -1.0M296.2 215.3l1.3 1.3M100.5 313.6l-0.4 -1.5M218.3 328.1l-1.9 -0.3M168.6 92.9l1.3 -1.3M417.3 320.2l-0.4 2.1M87.2 98.8l2.3 -3.8M210.7 448.2l-3.1 -0.5M393.4 213.0l0.3 2.9M197.8 418.8l-2.8 -0.3M94.8 200.8l1.8 -3.1M275.3 400.3l-3.2 1.9M400.6 272.5l0.6 2.2M324.5 275.4l-0.6 1.3M205.5 76.7l1.0 -0.5M280.2 189.6l1.8 0.9M103.6 334.0l-1.0 -1.2M317.4 149.2l3.0 1.2M110.3 214.2l0.1 -1.5M337.6 251.2l1.2 2.0M288.7 185.6l2.4 1.5M69.2 142.9l1.1 -2.5M414.1 133.0l0.6 1.6M388.4 94.3l2.7 2.3M315.0 364.6l-1.4 0.6M425.6 106.4l1.5 2.3M212.0 111.6l4.5 0.4M419.5 407.6l-1.2 3.1M329.2 321.3l-2.2 2.0M292.5 105.6l3.9 0.5M112.9 442.3l-2.0 -1.8M119.6 273.4l-0.2 -2.0M268.1 154.6l2.1 0.1M358.0 374.8l-2.1 2.8M244.8 437.1l-1.9 -0.9M340.2 376.0l-2.9 0.7M420.6 259.0l-0.3 2.5M129.8 104.4l2.9 -1.8M192.8 428.2l-2.4 -0.3M235.1 175.5l2.4 -0.8M304.7 411.0l-2.7 2.8M226.4 371.8l-1.7 0.1M102.0 140.6l1.8 -2.1M122.0 109.8l1.2 -2.4M194.7 277.2l-0.7 -2.0M241.6 349.4l-2.0 0.5M159.9 96.8l2.9 -0.4M198.2 354.9l-2.1 -2.2M228.9 143.9l3.1 0.3M64.2 321.9l-1.1 -2.0M205.2 145.2l1.7 0.2M291.5 378.4l-3.9 0.9M327.5 165.5l3.2 2.7M149.3 333.4l-2.4 -2.0M97.6 305.6l-3.0 -3.6M382.7 343.8l-1.8 3.1M101.1 416.2l-1.6 -1.1M383.5 180.2l1.9 3.8M410.3 214.3l-0.3 2.2M397.3 225.2l-0.1 3.6M320.7 207.8l1.2 1.7M84.0 82.9l4.7 -1.7M163.1 165.5l2.9 -1.5M399.8 369.1l-2.0 1.4M406.2 424.3l-2.6 1.0M257.1 202.5l1.8 0.7M151.0 149.2l0.8 -1.2M236.5 404.4l-3.0 0.0M62.2 360.2l-3.0 -4.6M246.5 370.5l-3.5 -1.1M182.2 410.3l-2.7 -1.4M148.0 167.3l2.2 -1.4M401.1 275.4l-1.1 4.4M430.9 327.9l-1.9 4.4M79.6 406.6l-3.1 -3.8M377.7 231.9l0.3 2.2M237.8 369.1l-1.8 0.2M216.4 78.4l3.6 -0.2M263.0 83.0l2.7 0.3M109.5 244.5l-0.1 -1.4M67.5 306.4l-0.7 -1.9M376.1 86.3l2.3 0.8M335.6 89.7l4.4 0.4M310.2 414.5l-3.9 0.8M210.0 140.2l2.2 0.2M331.0 355.2l-1.1 1.7M287.0 425.0l-2.3 -0.2M246.4 271.2l-0.9 0.3M187.6 278.9l-0.5 -2.0M342.4 128.5l4.6 0.9M68.4 104.8l3.0 -1.7M316.3 419.6l-3.4 1.7M325.5 187.9l1.4 2.4M138.8 299.1l-0.9 -1.4M388.4 268.1l0.8 2.6M408.4 227.1l1.8 3.5M63.2 302.4l-1.7 -3.6M331.0 229.4l-0.0 1.8M209.6 386.6l-0.8 -0.6M394.8 137.1l1.7 2.9M310.0 317.1l-1.1 1.9M216.7 436.5l-3.5 0.2M263.2 123.1l3.1 -0.2M127.8 216.9l-0.0 -1.5M113.6 327.1l-1.5 -1.6M335.0 295.9l-0.4 1.7M160.9 247.5l1.0 -1.9M267.4 372.7l-3.3 1.7M379.0 265.7l-0.9 1.8M409.9 90.0l2.7 2.5M79.1 304.4l-0.3 -3.0M335.7 279.7l-1.9 3.1M149.0 449.4l-2.2 -2.0M86.0 411.6l-2.1 -1.3M260.2 374.0l-2.5 0.1M182.4 311.3l-1.3 -1.6M105.1 340.5l-1.5 -3.9M315.8 221.1l0.5 1.6M204.0 220.5l0.6 -1.2M309.4 169.3l1.7 1.5M306.8 246.4l1.0 2.1M83.4 236.5l0.8 -3.8M96.1 278.1l0.8 -3.2M404.0 162.8l1.5 1.2M235.7 226.3l2.0 -0.9M102.6 292.6l-2.2 -3.3M277.4 271.2l-0.5 1.6M313.9 92.5l3.0 2.2M430.9 299.2l-1.7 3.5M90.9 403.9l-0.9 -2.1M324.8 115.6l3.8 1.1M296.6 191.1l0.9 1.4M208.3 380.2l-2.8 -2.8M261.7 121.8l2.7 0.3M376.9 442.4l-1.7 1.7M71.0 369.3l-1.7 -2.0M325.1 209.2l1.6 2.0M307.2 337.1l-1.5 2.1M413.2 318.4l-0.8 3.5M153.4 315.7l-1.6 -1.2M268.2 279.8l-0.9 0.8M139.5 321.5l-0.6 -3.5M237.0 418.2l-1.8 -0.6M243.5 152.4l1.7 -0.8M248.3 369.4l-2.7 0.6M249.7 220.1l1.9 1.1M62.1 122.2l2.4 -1.5M142.5 305.6l-1.9 -2.2M426.4 305.7l-0.3 1.6M307.5 243.7l0.3 1.6M302.7 438.5l-4.0 2.1M291.8 199.8l2.4 0.5M230.2 329.6l-2.1 -1.3M192.4 213.8l1.9 -1.0M263.8 335.4l-1.4 -0.1M137.0 381.6l-2.2 -2.9M420.0 430.7l-1.8 1.7M354.4 381.3l-2.9 2.4M260.9 149.4l2.4 -0.7M248.4 335.0l-1.7 0.8M84.3 266.9l-1.1 -3.7M87.8 272.0l-1.3 -2.8M189.0 143.9l1.2 -0.6M360.7 389.9l-3.0 1.4M390.2 205.7l1.2 3.0M207.4 190.0l2.1 -1.2M149.4 181.9l1.4 -1.4M386.2 264.1l-0.5 2.3M311.3 171.6l1.9 2.2M140.1 139.0l0.8 -1.4M231.5 273.3l-0.7 -1.9M67.8 436.9l-3.6 -5.2M381.1 399.7l-3.3 2.0"/>
<path stroke="#131313" stroke-width="2.0" d="M350.0 195.9l0.7 1.4M236.5 441.6l-2.9 0.1M393.8 211.0l1.9 2.5M180.6 385.3l-3.2 -1.0M149.7 222.1l0.1 -3.1M370.1 283.0l0.4 3.6M134.3 310.7l-0.3 -2.2M362.6 307.2l-1.2 1.7M140.0 323.3l-2.2 -1.8M388.2 154.5l2.0 3.7M273.8 418.9l-3.2 -0.8M177.0 224.8l1.9 -1.5M68.6 330.1l-1.2 -4.3M280.0 298.5l-1.4 1.3M352.5 94.0l3.0 4.2M72.5 231.7l0.9 -5.1M395.3 129.4l2.7 4.0M266.3 107.1l1.6 -0.2M94.4 87.1l4.4 -1.2M307.2 426.6l-4.5 -0.0M112.7 334.6l-1.7 -1.8M323.8 147.6l2.6 0.9M61.8 409.4l-3.7 -2.0M78.5 235.7l1.4 -4.0M424.0 327.3l-2.3 3.6M104.1 395.4l-1.3 -1.2M381.0 150.0l2.2 2.2M66.1 197.0l1.0 -3.8M203.2 415.0l-2.4 0.3M119.2 308.4l-0.9 -2.3M178.7 82.1l3.0 -0.9M143.7 221.5l0.9 -3.2M164.4 92.8l2.0 -2.3M252.6 445.8l-4.0 1.8M334.2 208.8l1.1 1.3M225.7 98.7l2.5 -0.5M213.2 104.5l3.3 -1.5M213.6 435.8l-4.6 1.1M208.5 181.8l2.4 -0.7M119.4 147.1l1.4 -3.0M399.2 126.6l4.6 3.1M320.8 161.7l2.0 2.9M64.7 190.1l-0.1 -3.3M208.9 261.6l0.5 -1.5M218.8 283.2l-0.4 -1.7M180.8 96.0l2.4 -2.4M336.2 399.8l-0.7 0.8M302.4 157.8l2.6 2.5M372.2 219.2l0.8 3.5M200.7 177.4l1.3 -0.9M193.4 168.0l0.9 -0.8M253.6 211.5l1.7 1.0M290.5 423.9l-2.2 1.7M325.6 143.0l2.3 1.6M109.4 367.5l-2.2 -1.3M212.1 317.7l-1.6 -0.8M234.2 284.8l-1.8 -0.6M222.7 262.3l0.3 -1.3M323.1 147.3l1.8 2.7M350.4 298.4l-1.2 2.4M367.2 114.2l2.2 1.6M237.1 414.2l-2.3 -0.6M389.6 142.7l2.9 3.6M134.3 242.0l0.2 -1.7M348.4 435.0l-2.9 2.5M273.2 166.1l3.1 1.3M280.3 439.4l-4.1 0.3M186.8 268.4l-0.0 -2.3M243.3 240.6l1.2 -0.5M89.5 158.3l0.8 -0.9M252.9 212.2l1.9 0.7M218.2 164.8l3.1 -1.5M137.0 361.4l-2.0 -2.8M258.6 401.6l-3.6 -0.4M122.6 325.0l-0.9 -1.6M147.1 422.3l-2.6 -3.3M203.7 248.2l0.1 -2.0M171.1 193.1l1.0 -0.7M213.3 435.1l-3.9 -1.3M193.1 295.0l-1.6 -1.5M427.0 110.3l1.2 3.6M342.0 442.5l-1.4 0.9M220.0 329.7l-1.3 -0.9M335.6 243.1l1.0 2.1M147.3 198.1l1.5 -2.7M239.3 80.3l4.3 1.4M312.9 372.5l-1.9 1.4M330.8 354.6l-1.8 1.8M267.8 358.6l-3.1 -0.2M398.6 111.1l1.8 3.0M391.1 141.4l0.8 1.4M67.7 379.0l-1.3 -1.3M338.0 403.8l-2.5 1.5M349.8 117.1l2.1 2.1M383.2 362.0l-1.9 1.5M113.8 90.5l2.7 -1.4M217.6 249.5l0.5 -0.7M429.3 247.3l-0.3 2.2M420.9 430.7l-2.5 2.0M85.4 388.4l-0.8 -1.7M418.4 161.4l1.3 2.9M394.4 161.5l0.7 1.4M397.7 346.9l-0.9 1.4M365.2 147.5l2.3 1.4M402.0 219.9l0.2 1.5M342.2 238.3l-0.2 2.1M181.8 94.4l3.1 -1.1M275.6 262.9l-0.4 2.4M94.0 152.2l1.1 -1.0M242.7 417.1l-3.6 0.9M163.7 343.5l-1.1 -0.7M130.2 347.1l-1.4 -1.7M343.8 306.1l-0.1 3.5M410.1 275.3l-0.4 3.3M91.5 385.3l-1.0 -0.8M423.5 76.6l2.3 2.7M69.9 341.5l-1.4 -4.5M117.4 177.9l2.5 -2.1M118.8 420.8l-2.9 -4.5M283.3 172.4l1.9 0.1M416.6 141.7l2.8 2.3M159.4 169.4l1.1 -0.9M385.0 143.9l1.4 1.9M213.9 419.9l-2.3 -1.7M339.4 211.5l0.1 2.4M101.8 83.2l2.2 -1.9M112.9 103.8l1.2 -2.1M412.5 352.7l-2.7 2.0M302.2 322.5l-2.4 1.3M308.9 165.0l2.2 2.0M249.5 108.6l3.1 1.2M303.5 310.1l-1.1 1.4M374.7 99.9l2.3 2.1M59.0 202.0l2.1 -3.4M351.9 310.8l-0.8 3.4M98.0 282.1l-2.1 -3.9M405.7 157.3l1.4 2.4M375.1 423.6l-3.6 3.4M363.5 346.8l-3.3 2.0M312.1 404.3l-2.7 0.9M401.1 316.1l-1.9 2.9M160.5 156.4l3.5 -1.8M281.3 175.5l3.7 0.8M141.1 409.1l-1.7 -0.5M255.0 291.6l-1.4 0.9M418.7 344.3l-1.1 1.8M89.3 169.2l0.7 -2.3M164.2 236.2l0.2 -2.5M315.8 382.6l-3.1 1.5M403.8 251.2l0.9 2.2M360.0 405.7l-0.9 1.7M344.7 186.6l1.9 1.4M64.1 314.7l-2.0 -3.1M183.0 157.5l3.4 -0.9M353.2 261.1l0.4 2.7M410.4 269.8l-0.2 1.9M328.4 158.3l2.5 1.1M113.0 125.7l3.3 -2.4M114.2 100.9l4.1 -2.1M329.6 174.0l1.7 2.6M75.3 350.9l-2.4 -1.9M376.1 264.8l-0.4 2.9M283.9 130.8l2.8 -0.2M431.2 208.0l-0.3 2.5M273.2 285.9l-1.2 1.8M116.4 351.6l-2.2 -1.6M161.0 147.2l2.2 -1.6M100.2 129.6l1.1 -1.8M413.5 296.7l-1.3 1.9M369.2 394.3l-1.8 1.6M166.1 163.1l3.4 -1.9M350.0 111.1l0.7 0.5M260.8 179.4l1.6 0.8M256.9 293.3l-1.7 0.7M362.8 230.1l0.2 1.3M379.6 85.0l2.4 1.1M228.4 153.7l3.3 -0.3M363.4 283.1l-0.1 2.0M178.7 194.7l2.5 -0.9M160.1 364.2l-1.6 -1.1M124.9 347.7l-2.1 -1.8M280.8 262.6l0.5 2.3M412.1 201.0l1.3 1.7M221.6 354.1l-1.7 -0.0M120.5 338.0l-1.1 -3.5M346.6 92.4l3.5 0.5M411.2 231.0l1.5 2.1M194.3 208.1l1.1 -1.7M254.5 408.7l-2.1 0.2M249.4 225.4l2.1 -0.0M154.7 448.1l-2.5 -1.6M311.4 304.0l-0.7 2.2M257.0 350.8l-2.1 -0.6M279.2 390.3l-2.3 0.6M330.7 107.0l2.2 2.0M389.7 404.5l-1.9 0.9M165.3 235.0l0.4 -2.2M69.4 337.1l-1.2 -1.1M224.7 332.7l-1.7 -1.6M279.1 160.2l3.4 0.1M304.4 366.7l-2.3 1.5M241.9 130.5l2.2 -1.1M221.7 145.1l2.2 -1.6M136.6 224.7l0.7 -1.7M195.6 106.7l1.0 -0.3M425.5 83.0l3.4 3.1M372.5 300.6l-2.1 3.5M197.2 269.8l-0.5 -2.8M256.3 429.9l-3.3 -0.1M322.1 271.4l-0.9 1.7M375.0 420.1l-1.6 2.3M106.1 276.4l-1.8 -3.4M235.6 191.7l2.2 -0.7M205.8 159.6l1.9 -1.1M238.4 407.5l-2.8 1.0M354.7 339.9l-1.0 1.1M120.2 411.3l-2.0 -0.8M363.9 295.5l-0.3 0.9M305.5 195.7l1.3 0.8M141.2 368.6l-1.7 -2.2M199.1 325.0l-1.1 -1.1M415.4 154.4l1.0 1.8M388.4 302.3l-0.8 1.0M202.6 142.0l1.5 -1.1M371.2 209.9l0.2 1.5M351.3 182.4l0.7 1.6M85.6 329.5l-0.2 -2.3M73.7 438.0l-3.9 -3.5M340.5 356.0l-1.5 2.9M67.2 299.6l0.0 -4.0M375.0 375.5l-1.3 2.2M127.8 404.1l-2.4 -0.8M126.1 170.9l0.6 -1.5M393.3 99.5l2.7 1.9M62.7 316.5l-0.1 -2.7M69.1 171.5l0.3 -3.6M222.9 224.6l1.3 -1.9M169.3 255.5l-0.4 -1.8M84.1 311.8l-1.2 -3.4M303.6 343.1l-2.0 1.1M316.1 191.2l1.6 2.1M85.8 358.8l-3.6 -2.5M226.3 328.9l-2.5 -0.1M381.9 207.2l0.1 2.6M131.0 278.2l-0.7 -3.3M363.3 178.9l0.6 1.8M223.3 109.3l3.0 -0.0M363.0 435.3l-3.7 3.2M270.6 436.5l-1.6 0.9M81.9 136.4l1.6 -2.1M350.8 91.3l4.7 2.3M290.6 422.5l-2.0 -0.3M76.2 409.3l-4.2 -1.9M165.0 297.9l-1.0 -2.5M376.3 78.7l2.0 1.0M66.2 183.9l1.5 -1.9M64.8 407.2l-3.5 -4.1M395.4 425.3l-4.6 2.4M385.2 436.3l-2.9 3.4M236.1 393.5l-3.6 1.0M77.1 94.1l1.6 -2.7M257.0 271.2l-1.0 1.0M209.9 375.4l-3.8 0.1M212.2 122.9l1.5 -1.1M408.3 427.1l-2.8 1.3M410.0 229.6l1.4 4.4M90.4 82.0l3.4 -1.5M426.0 418.5l-2.3 3.7M118.3 362.7l-0.8 -2.3M213.6 103.5l3.7 0.6M210.5 142.3l2.1 -0.5M154.8 242.7l0.5 -1.1M118.5 195.3l1.6 -2.0M185.9 434.1l-3.7 -2.8M371.9 321.8l-0.2 2.4M288.3 236.1l0.5 1.7M212.4 127.4l2.4 -0.1M293.8 358.3l-3.6 1.1M113.4 193.4l0.2 -1.7M275.9 268.7l-0.9 1.2M373.0 318.6l-0.3 1.9M367.2 348.7l-2.9 1.6M346.6 238.2l1.5 2.4M343.9 235.0l0.5 0.8M394.3 235.2l-0.6 2.7M148.9 87.8l2.0 -1.5M159.8 242.2l0.4 -2.2M366.5 249.5l1.4 2.5M293.5 336.8l-2.0 0.9M282.7 145.3l2.1 1.0M282.2 327.3l-2.0 1.3M345.0 268.3l-0.1 2.4M85.7 85.4l1.2 -1.8M374.6 306.4l-1.7 2.3M225.2 353.4l-1.6 -0.2M282.2 327.2l-2.3 0.8M335.2 284.2l0.3 2.7M360.0 75.4l2.9 0.8M280.3 416.1l-3.5 -0.5M365.3 283.6l-0.5 1.3M224.9 297.7l-1.2 -1.8M105.2 416.5l-2.9 -0.9M127.6 181.9l2.7 -2.1M337.1 155.4l2.4 1.4M216.4 377.6l-2.4 -2.1M189.2 116.7l1.3 -0.3M227.5 413.0l-1.4 -0.5M257.6 250.5l1.1 0.9M301.0 447.5l-2.7 1.2M347.7 415.4l-2.3 3.2M108.3 183.6l0.5 -2.2M178.3 98.1l3.2 -0.8M154.1 236.5l1.7 -2.4M431.6 250.8l1.6 3.5M382.1 285.6l-1.0 3.5M66.2 248.8l0.9 -3.2M231.2 230.7l1.2 -0.0M162.1 450.2l-3.7 -4.2M401.6 109.2l1.2 1.8M237.4 188.2l1.9 0.2M396.0 105.4l1.2 2.5M272.7 381.2l-1.9 0.5M292.4 141.7l1.4 -0.1M314.4 225.5l0.7 1.1M106.2 115.9l1.9 -1.1M399.6 321.0l-1.9 3.2M175.3 128.8l1.8 -0.5M372.4 378.2l-1.2 1.9M413.9 217.2l-0.2 2.7M375.5 226.7l-0.3 2.4M270.5 322.9l-2.2 0.1M183.4 367.1l-2.6 -1.6M339.6 265.4l0.7 3.3M321.4 172.6l2.9 0.8M240.2 74.9l2.7 1.0M246.4 298.1l-1.6 -0.3M327.6 362.5l-1.8 0.7M311.1 188.1l0.9 1.6M70.9 291.3l-0.6 -1.5M406.9 137.4l1.3 2.3M189.9 410.4l-2.8 -1.8M193.4 113.8l3.2 -2.4M221.3 222.1l2.1 -2.1M219.4 344.6l-3.2 -0.0M170.5 287.9l-1.0 -1.8M229.3 262.4l-0.5 -1.2M149.7 338.4l-0.3 -1.1M253.8 178.6l3.3 0.5M77.5 126.8l0.4 -1.6M65.3 263.7l-1.3 -3.6M301.8 284.9l-0.6 0.9M209.8 354.9l-2.3 -2.5M429.2 250.4l0.9 3.2M313.7 130.2l1.4 1.8M371.5 92.0l2.0 3.7M65.9 164.6l1.0 -1.7M288.4 201.8l2.2 1.5M308.5 305.9l-1.2 2.1M158.7 175.7l1.8 -1.7M428.6 390.0l-1.7 5.1M274.5 352.1l-2.4 1.0M168.4 338.4l-1.8 -2.2M213.4 135.8l1.8 -1.2M309.4 236.6l1.4 1.4M407.6 275.0l0.8 2.3M351.3 200.2l1.5 1.5M60.1 202.5l0.7 -3.6M237.2 447.6l-1.8 -0.6M259.2 90.3l2.4 -0.6M391.7 288.6l-0.4 2.1M80.4 297.1l-0.6 -2.1M260.9 217.0l1.9 0.2M404.9 344.5l-1.1 2.1M174.5 442.5l-1.9 -2.0M63.3 250.7l1.8 -3.5M260.2 346.9l-2.4 -0.6M319.1 436.5l-4.7 0.5M183.7 194.5l3.3 -1.5M195.2 210.1l1.3 -2.1M409.1 96.0l3.8 2.8M214.2 184.6l2.6 -0.7M67.5 440.4l-2.4 -1.6M97.8 277.7l-0.6 -3.5M301.6 277.1l0.2 1.8M219.8 98.3l3.5 0.7M178.2 177.2l2.4 -1.6M196.5 271.0l-0.1 -1.2M261.7 144.3l1.2 -0.3M96.1 255.0l-1.2 -3.3M336.5 195.9l1.4 3.2M265.3 161.1l2.0 0.4M143.4 308.6l0.0 -2.8M91.5 439.5l-5.0 -1.7M208.6 280.1l-0.8 -2.2M378.9 170.4l0.3 1.7M276.8 299.4l-0.8 0.7M414.4 367.5l-0.8 0.5M245.8 176.8l3.0 1.4M294.5 178.1l1.8 1.4M318.4 227.1l1.9 2.3M132.4 174.1l1.0 -0.8M92.2 385.4l-2.3 -2.5M63.4 386.4l-3.4 -2.5M319.7 162.0l2.7 3.1M118.1 296.2l0.3 -1.9M82.8 391.8l-1.6 -0.9M391.7 372.2l-1.7 4.9M325.3 143.2l1.8 0.5M207.0 133.0l1.8 -0.3M273.8 174.2l2.2 0.1M170.3 295.2l-1.5 -2.2M183.0 192.6l1.4 -1.8M255.8 101.3l2.3 0.7M323.6 331.4l-3.4 1.7M113.6 417.2l-1.5 -1.3M432.1 96.0l2.3 4.4M404.1 363.2l-0.8 1.6M376.5 440.1l-0.8 1.1M262.8 366.7l-2.9 -0.7M200.0 282.2l-0.7 -1.9M204.4 246.5l-0.0 -1.8M169.5 437.6l-2.6 -1.2M295.9 248.3l0.6 2.0M334.6 197.8l1.1 1.8M270.6 355.9l-2.5 1.1M170.4 390.1l-1.8 -0.2M415.1 241.8l-0.4 3.6M124.5 397.4l-3.0 -3.8M426.4 238.9l-1.0 3.7M152.8 343.2l-2.0 -1.9M383.7 93.4l2.1 1.4M215.5 113.1l2.0 -0.1M308.9 414.0l-1.6 1.1M372.5 285.7l-2.2 2.8M245.4 426.7l-2.5 -0.1M393.6 266.3l-1.0 3.5M389.5 276.4l-1.5 3.2M103.5 326.5l-2.4 -2.7M69.8 177.1l0.1 -2.3M271.6 436.3l-1.7 -0.1M278.1 236.3l1.0 1.9M170.8 381.1l-1.3 -0.9M429.4 127.5l0.7 2.5M61.6 115.7l2.6 -3.0M373.2 332.1l-0.9 2.1M80.6 79.1l2.1 -0.8M121.5 313.7l-0.6 -2.9M179.9 427.1l-3.2 0.1M146.1 236.0l-0.2 -1.0M287.8 352.7l-2.6 1.0M333.1 365.4l-1.6 2.6M168.2 434.7l-3.6 -2.8M308.9 370.4l-1.1 0.4M263.4 358.5l-3.2 -0.9M244.6 340.2l-2.0 -0.8M217.5 153.1l2.5 -1.3M170.6 171.7l1.8 -3.3M361.2 351.8l-1.3 1.5M368.0 151.4l1.6 3.2M239.0 353.6l-3.2 -0.7M242.8 324.5l-1.4 -0.1M252.0 206.9l1.4 0.5M413.0 356.1l-0.5 3.2M112.5 397.9l-1.3 -2.9M353.3 364.1l-2.7 2.0M78.0 417.4l-3.5 -1.9M414.3 267.9l1.2 3.4M386.5 145.8l1.8 3.1M165.9 222.0l0.8 -2.6M427.0 149.0l1.2 1.3M391.1 375.5l-3.0 1.9M117.5 218.5l1.8 -2.4M302.1 373.7l-4.1 0.4M338.4 301.7l-1.3 2.0M318.7 345.3l-1.8 1.2M339.4 260.9l-1.2 3.1M284.3 139.0l2.0 0.9M119.3 206.7l1.4 -2.6M260.0 96.0l3.0 -0.3M157.0 304.3l-0.5 -2.8M261.4 283.5l-1.4 1.1M192.3 403.9l-2.1 -1.8M188.4 135.1l1.8 -1.6M115.3 416.3l-2.9 -1.3M137.8 407.9l-2.0 -0.5M364.6 294.8l-1.4 1.6M302.3 139.6l3.3 0.2M139.0 259.4l-0.9 -2.4M356.4 427.1l-2.2 2.7M63.6 366.3l-0.8 -3.4M383.5 106.3l1.7 2.1M400.4 83.4l0.9 1.0M189.5 359.6l-2.8 -2.1M318.6 446.0l-3.4 0.2M420.1 272.2l-0.4 2.1M134.1 440.5l-2.5 -3.3M300.7 144.0l1.2 1.0M72.8 436.9l-2.5 -2.3M371.8 324.1l-0.8 1.7M372.2 388.9l-3.4 1.4M364.6 155.6l1.6 1.5M59.8 94.1l4.1 -2.2M355.8 271.1l0.6 2.2M307.1 199.6l1.2 1.0M229.9 201.9l1.8 -0.7M429.1 272.0l-0.2 4.1M170.7 363.7l-2.5 -1.9M183.5 224.6l0.5 -0.8M312.0 438.9l-1.6 1.0M294.7 317.4l-2.0 1.3M332.0 361.4l-2.1 2.0M169.7 225.9l2.1 -2.1M348.0 242.7l0.9 1.3M346.7 126.8l3.8 1.0M90.0 340.1l-0.3 -1.5M406.1 401.6l-3.0 3.3M274.7 327.9l-1.4 1.2M376.2 127.5l2.3 2.3M419.7 95.0l3.6 3.5M130.9 91.6l2.1 -3.2M322.4 99.7l1.9 2.1M402.3 134.4l2.5 1.8M249.7 410.1l-1.6 0.5M379.0 85.7l3.8 2.7M139.3 342.1l-2.7 -1.6M232.3 98.5l4.0 0.6M92.1 381.8l-1.3 -3.7M284.2 236.1l1.6 1.2M144.8 410.8l-1.6 -0.9M428.0 148.1l1.5 1.5M419.8 111.7l3.4 1.8M417.2 250.9l0.3 1.3M99.1 82.8l1.3 -1.4M338.8 228.4l0.7 1.2M410.6 211.6l-0.1 1.4M289.0 111.9l1.6 1.4M321.7 183.5l2.7 1.5M355.0 322.9l-2.2 2.5M300.7 366.6l-3.1 0.7M84.6 212.8l0.3 -3.3M234.2 205.0l2.2 0.3M429.5 416.1l-3.0 4.9M223.4 380.0l-2.2 -0.9M73.9 136.7l0.9 -1.3M394.1 300.0l-2.7 3.3M146.0 227.6l0.0 -2.6M411.5 240.9l1.1 3.2M229.8 105.6l1.5 -0.5"/>
<path stroke="#0c0c0c" stroke-width="2.0" d="M59.3 107.5l2.8 -2.5M191.4 332.2l-1.4 -2.3M175.8 371.1l-2.0 -0.3M418.1 329.8l-0.2 2.0M299.1 376.4l-2.4 2.4M348.9 292.6l-1.1 2.4M190.8 201.9l1.7 -1.5M218.5 213.5l1.4 -1.6M270.3 255.2l0.1 1.6M276.2 188.5l1.5 0.7M380.8 375.0l-4.3 2.7M314.4 194.0l1.5 1.3M173.4 117.8l2.3 -0.8M239.5 224.9l2.2 0.6M191.6 305.9l-1.7 -2.4M319.7 196.7l0.7 2.0M122.3 354.6l-0.5 -1.6M414.3 418.7l-1.7 3.0M258.5 242.5l1.6 0.5M310.2 432.2l-3.2 0.1M211.6 413.9l-2.1 -1.3M381.2 427.5l-2.2 1.7M363.9 370.2l-3.0 2.1M94.8 90.2l3.6 -4.1M199.7 304.3l-0.9 -0.7M430.6 379.2l-1.9 1.4M210.2 260.2l0.9 -1.9M137.3 447.8l-4.0 -2.7M176.9 256.9l-0.4 -2.4M373.3 152.4l0.6 1.3M92.7 259.0l0.3 -2.4M407.7 105.9l1.5 1.7M238.3 380.5l-2.2 0.8M344.8 271.1l-0.6 1.1M266.2 225.0l1.3 1.1M236.8 116.1l3.6 0.6M340.1 324.1l-1.1 1.9M176.5 177.9l1.7 -2.5M77.2 341.4l-1.7 -1.8M137.2 323.3l-1.3 -1.3M94.5 93.6l2.4 -2.3M100.4 276.0l-0.7 -2.8M81.1 259.6l-0.1 -1.7M143.3 238.5l0.2 -1.7M204.1 340.3l-3.0 -1.3M402.6 318.9l-1.9 2.0M212.5 143.1l3.1 -0.2M132.5 104.2l1.6 -1.9M281.8 312.2l-2.5 1.1M289.2 186.2l1.6 0.6M367.2 352.5l-3.5 2.4M110.1 139.0l2.7 -2.5M358.1 73.6l3.7 2.4M300.1 210.6l1.6 1.5M280.7 388.5l-1.2 0.5M232.1 412.6l-2.4 0.7M148.7 376.2l-1.3 -1.4M183.8 410.0l-3.8 -1.2M325.3 346.9l-1.4 2.9M237.2 201.8l2.7 -1.4M269.2 101.4l4.1 1.6M349.8 444.7l-3.1 1.8M402.1 96.5l1.0 1.1M338.2 352.1l-1.0 2.1M71.2 338.2l-3.5 -3.2M198.6 430.9l-3.6 -0.4M197.2 446.7l-1.9 -1.0M67.5 205.6l-0.1 -2.3M138.5 230.1l-0.2 -2.8M169.3 291.0l-1.2 -2.0M302.6 242.8l0.5 2.0M388.7 413.6l-5.1 1.7M414.3 252.7l-0.5 2.9M200.2 200.3l1.1 -1.1M356.5 205.2l0.9 3.4M194.6 197.8l1.6 -1.0M377.5 197.8l1.6 2.3M197.1 84.7l4.1 0.1M303.3 431.4l-3.1 2.9M219.5 189.7l2.2 -0.7M250.1 275.6l-1.5 0.8M373.5 241.3l1.1 2.4M312.9 249.0l1.5 2.6M71.3 153.6l3.8 -2.6M178.1 355.0l-2.3 -1.7M136.7 266.3l-0.7 -1.4M336.1 425.0l-4.7 0.6M236.1 231.5l2.4 0.1M140.9 322.6l-0.9 -3.6M372.2 427.0l-2.1 3.2M83.2 86.7l1.6 -2.9M392.2 252.6l0.5 3.5M83.1 152.6l2.8 -1.8M157.5 407.7l-2.4 -1.6M303.2 390.5l-2.5 1.8M224.5 120.1l2.8 0.6M79.8 316.7l-0.1 -3.6M391.6 414.0l-4.3 1.5M193.3 254.7l0.6 -1.4M131.2 445.3l-3.2 -2.3M322.1 81.9l3.4 -0.1M340.2 447.7l-2.4 2.0M73.0 331.9l-1.8 -2.7M108.4 291.6l-0.9 -1.5M237.3 99.0l3.3 1.4M270.7 232.6l0.9 0.8M232.5 302.0l-2.6 -0.4M412.2 352.8l-2.1 4.8M74.7 369.0l-1.1 -3.8M390.2 171.6l1.7 2.4M317.6 352.0l-1.4 1.0M150.7 290.8l-1.7 -1.9M214.6 292.8l-2.4 -0.9M195.4 395.3l-2.7 -0.7M427.2 320.4l-0.7 1.9M383.5 354.1l-0.8 2.6M336.8 239.0l-0.4 1.8M245.4 188.0l1.7 -0.6M111.3 223.4l0.7 -2.0M217.2 342.4l-1.7 -1.2M68.8 265.5l0.5 -1.9M362.5 200.7l0.7 2.3M108.6 256.4l0.9 -3.1M225.0 118.4l1.8 -0.8M255.1 210.7l1.0 0.4M190.8 425.8l-2.5 0.2M287.1 383.4l-2.7 0.1M272.6 393.5l-2.7 1.3M318.3 153.4l2.4 1.3M327.6 142.8l1.1 1.7M134.5 220.0l1.3 -2.7M324.5 412.2l-4.1 0.4M251.1 116.1l2.9 0.2M186.8 421.3l-4.4 0.1M418.5 140.7l3.1 2.0M99.6 255.9l-0.1 -3.0M145.8 253.9l1.3 -2.2M180.5 87.3l4.6 -1.1M121.0 348.8l-1.5 -2.7M386.9 271.8l-0.4 3.4M167.1 387.3l-3.1 -0.7M364.1 124.9l1.7 1.1M284.0 320.5l-2.7 0.5M263.5 182.0l2.2 0.5M185.2 422.1l-3.8 -0.9M367.6 416.3l-3.0 1.1M107.3 339.5l-1.5 -1.8M78.6 199.7l2.2 -2.6M232.3 105.8l1.2 0.3M96.9 119.8l2.4 -1.0M356.0 93.0l1.7 1.9M386.7 104.7l4.8 1.6M430.1 438.0l-3.3 3.8M350.8 369.8l-1.3 1.5M400.3 243.0l0.0 2.1M347.6 89.0l3.8 2.2M94.8 383.1l-3.8 -2.2M117.4 386.5l-1.8 -4.2M243.3 230.4l1.6 0.5M143.8 372.8l-3.1 -2.8M198.3 369.7l-2.7 -2.3M195.8 320.2l-0.9 -0.8M158.6 139.2l2.5 -1.1M313.9 82.1l1.9 0.4M167.4 144.5l2.1 -1.7M274.0 93.2l2.1 0.9M369.8 308.2l-2.1 2.9M133.2 84.3l1.6 -1.8M228.0 191.7l1.5 -0.0M112.8 288.0l-0.6 -1.9M151.7 283.8l-0.3 -2.8M388.6 356.8l-1.8 2.8M255.1 295.1l-2.4 0.4M298.3 333.0l-1.2 0.9M416.5 243.4l0.2 2.7M294.3 127.1l2.7 -0.1M399.8 439.6l-2.2 3.9M99.5 157.0l2.1 -4.0M113.9 112.5l3.8 -1.9M325.2 323.7l-1.9 1.5M349.7 226.3l0.3 3.0M192.1 356.1l-1.4 -0.7M396.7 178.0l0.7 1.9M370.4 388.3l-1.4 2.9M427.5 321.5l-2.3 2.8M81.5 133.4l3.2 -4.7M250.9 252.8l1.9 1.0M90.4 242.3l1.2 -2.7M271.9 205.6l1.4 0.4M307.7 376.4l-1.9 2.1M198.8 114.1l2.0 -1.9M217.6 261.4l0.5 -1.4M119.6 136.0l2.4 -3.9M385.2 286.1l-1.2 1.9M320.9 155.7l1.0 1.8M258.4 109.0l3.9 1.2M264.5 443.6l-2.0 0.5M104.7 369.5l-0.5 -1.2M352.2 427.6l-4.6 1.4M304.6 348.6l-3.7 0.9M61.6 324.4l-2.5 -2.7M222.7 352.1l-3.2 0.4M301.3 147.4l2.0 0.3M177.7 105.9l2.0 -0.6M255.2 174.1l1.9 -0.1M208.4 356.4l-2.3 -1.7M181.6 110.3l2.0 -2.0M311.9 263.7l0.6 2.1M248.9 273.9l-1.3 -0.1M114.7 223.1l1.1 -1.2M330.4 140.2l1.0 1.3M165.5 90.1l1.7 -1.9M177.6 215.3l1.1 -2.1M179.6 158.0l2.0 -1.1M163.2 335.6l-1.7 -1.9M298.6 102.4l2.2 0.4M274.5 220.2l2.2 0.9M288.2 393.1l-1.5 1.2M282.8 261.0l-0.1 1.1M102.2 81.4l3.6 -2.2M333.4 241.5l0.2 2.0M416.3 305.0l-1.8 2.4M78.2 159.9l1.7 -4.3M348.7 243.0l0.4 1.8M332.7 197.4l1.9 1.4M397.4 315.4l0.2 4.1M262.0 406.9l-1.3 -0.3M254.6 310.8l-1.2 -0.1M172.5 109.9l3.4 -0.7M103.0 95.5l3.8 -2.7M193.5 240.6l0.8 -1.1M392.8 328.9l-1.2 1.0M424.3 298.6l-1.4 4.5M278.3 139.8l2.8 0.9M322.7 139.2l2.0 2.2M256.6 259.3l-0.0 1.2M252.7 368.5l-1.7 0.2M156.8 371.6l-1.5 -1.8M400.6 394.4l-1.1 1.4M251.5 76.7l4.9 -0.1M282.2 305.0l-0.8 1.7M360.8 121.0l3.3 2.4M193.5 289.8l-0.9 -1.1M381.2 326.7l-0.3 2.6M163.3 107.6l2.7 -1.2M347.3 214.0l1.0 3.1M61.5 349.1l-0.5 -1.7M150.9 222.6l0.4 -2.6M291.8 158.2l1.9 1.7M365.3 400.9l-3.0 1.6M219.2 422.9l-2.8 -0.9M404.1 258.6l-1.0 3.9M326.9 372.0l-1.0 1.3M175.8 390.8l-2.2 -2.9M411.5 310.2l0.3 3.5M219.5 448.3l-4.3 1.0M204.9 127.1l3.6 0.1M164.3 284.6l-1.7 -2.4M341.0 313.0l-1.4 2.3M187.8 396.5l-2.1 -0.6M93.2 289.5l-1.1 -2.1M81.5 225.0l1.6 -3.0M343.4 263.6l-0.8 2.0M405.0 366.1l-2.4 2.8M213.6 232.6l1.1 -0.9M313.5 370.3l-2.2 0.9M221.2 292.4l-1.3 -1.3M66.9 335.7l-0.2 -3.3M62.1 409.6l-0.8 -1.6M91.0 410.9l-1.9 -1.9M209.9 258.9l-0.3 -1.8M400.3 302.0l-0.2 2.0M119.7 153.6l1.9 -2.0M96.5 311.7l-0.5 -2.6M314.7 440.5l-2.8 0.9M290.8 440.2l-3.5 0.6M209.7 228.2l1.4 -1.6M221.1 227.1l1.9 -0.8M391.3 444.7l-1.4 1.3M356.5 130.6l1.2 1.7M206.7 139.3l3.5 -1.6M93.3 412.1l-2.4 -2.2M165.7 392.2l-1.5 -1.5M259.2 86.2l2.8 -0.6M241.8 391.7l-2.6 0.0M235.7 119.2l2.2 0.1M378.3 324.2l-1.2 2.4M114.1 344.0l-2.1 -2.6M368.3 318.7l-0.9 2.7M114.9 360.6l-3.4 -2.7M129.5 162.0l0.7 -1.7M103.9 340.9l-1.1 -3.3M243.6 442.1l-1.4 0.4M352.6 208.4l0.9 2.8M124.7 132.2l2.8 -4.0M409.8 218.4l0.4 1.9M424.4 305.1l0.5 3.3M129.4 337.3l-2.0 -2.5M299.7 225.4l0.8 1.8M329.4 102.3l3.4 1.9M168.0 168.8l2.0 -1.3M189.4 210.0l1.8 -2.0M384.9 152.2l0.6 1.8M417.4 166.9l1.8 4.2M110.1 219.5l0.9 -3.2M202.2 130.2l2.9 -2.0M385.2 139.0l0.9 1.0M62.5 207.2l0.3 -3.1M74.8 230.8l1.0 -3.8M128.3 110.5l1.7 -2.1M195.7 293.8l-1.7 -1.2M368.9 340.6l-0.4 2.5M181.4 396.6l-2.8 -0.1M249.5 200.3l2.4 1.0M189.4 445.5l-2.6 -1.9M60.2 154.9l2.0 -1.8M317.2 152.8l2.1 1.5M135.9 328.1l-1.0 -1.9M204.7 385.6l-2.0 -0.8M132.6 79.5l3.5 -2.5M103.0 397.1l-2.5 -2.3M324.4 212.7l1.4 3.1M214.3 392.9l-3.8 0.4M170.4 102.7l3.1 0.0M135.1 424.1l-3.1 -2.7M228.8 233.2l1.9 -0.8M126.4 155.6l1.3 -3.2M390.6 251.0l0.9 3.7M408.0 305.7l-0.1 2.2M400.0 233.7l0.1 2.8M215.6 305.1l-1.8 -1.5M83.7 313.0l-0.8 -3.6M267.2 403.1l-3.0 0.8M119.5 192.2l0.3 -1.7M101.2 311.9l-0.7 -0.9M142.1 112.7l1.3 -1.2M178.2 145.3l2.1 -0.7M348.8 102.5l3.3 1.8M260.9 374.3l-2.7 1.1M271.2 104.3l1.5 0.7M114.3 161.6l1.2 -2.2M76.8 294.4l0.2 -1.4M95.5 107.7l2.4 -2.4M148.5 171.1l2.9 -2.4M64.3 433.2l-3.6 -1.5M177.5 205.3l1.8 -1.5M155.3 204.8l2.1 -1.5M417.8 395.2l-1.7 3.1M352.5 342.7l-1.5 3.3M289.8 442.9l-2.6 0.4M346.5 222.6l1.2 3.5M78.8 224.6l0.0 -3.5M108.3 187.2l1.7 -3.5M91.3 77.5l1.9 -1.1M116.9 105.1l1.8 -1.0M181.0 116.7l2.5 0.0M231.2 445.5l-2.8 1.0M282.7 334.4l-2.2 2.4M239.6 93.4l1.2 0.2M353.0 426.2l-2.2 2.0M238.2 292.4l-1.9 -1.2M70.5 301.7l-1.1 -3.0M80.2 307.8l-0.9 -4.8M173.3 414.6l-2.8 -0.9M422.8 99.7l2.3 1.1M135.9 318.1l-0.6 -2.7M313.8 136.1l1.5 0.8M215.6 214.4l1.9 -0.7M146.5 388.9l-2.7 -1.5M269.8 119.4l2.2 0.6M331.1 300.3l-1.4 1.6M180.7 148.2l1.4 -1.6M137.8 327.7l-0.9 -3.4M285.3 130.0l3.1 0.8M430.8 244.4l0.1 1.6M198.1 298.6l-0.6 -0.9M428.8 232.3l-0.7 4.3M280.7 148.7l1.8 1.5M393.2 79.4l2.5 3.9M305.2 382.6l-3.5 -0.0M140.4 334.9l-1.0 -3.3M394.9 174.9l2.2 3.3M268.7 419.8l-3.2 -0.8M302.5 212.8l0.5 0.8M250.8 329.7l-1.8 -0.4M99.8 127.0l1.2 -3.7M373.9 410.5l-1.7 0.8M279.1 139.8l3.9 -0.2M141.7 391.9l-3.0 -1.6M194.8 422.1l-3.5 -2.0M178.8 337.5l-1.2 -2.4M190.2 449.4l-2.5 -1.1M194.1 232.6l0.2 -1.8M272.8 267.0l-1.0 2.0M205.1 432.3l-3.1 0.2M253.5 87.6l3.5 -0.2M80.3 382.4l-3.5 -2.2M93.5 305.9l-2.2 -3.1M107.1 198.8l1.3 -1.7M261.2 107.9l2.5 -0.2M412.0 130.8l3.1 2.0M227.3 429.6l-4.0 0.5M110.0 165.4l0.6 -2.8M384.8 124.2l1.5 1.6M178.5 296.5l-0.2 -2.6M138.8 284.6l-0.9 -2.5M212.8 320.0l-1.3 -0.7M158.7 191.0l1.9 -2.4M408.3 185.5l2.4 3.6M256.5 152.6l1.2 -0.3M405.1 264.8l0.7 2.4M122.6 78.3l2.7 -3.9M396.7 402.5l-2.6 2.2M364.7 259.8l0.4 1.8M103.8 312.4l-0.8 -2.2M397.8 222.8l1.3 3.0M78.8 131.8l3.0 -2.8M158.0 87.9l3.1 -3.7M237.6 347.6l-2.5 0.4M262.6 146.4l3.2 1.6M92.9 231.5l1.6 -2.9M86.8 167.4l2.3 -1.8M198.8 113.2l2.3 -0.0M59.7 206.8l1.0 -2.0M386.0 367.2l-1.5 2.1M109.3 107.4l3.3 -2.5M220.1 165.4l2.1 -0.8M346.0 173.5l3.6 1.8M193.4 182.5l1.5 -1.1M114.0 319.1l-0.1 -1.9M230.2 120.3l1.7 -0.1M217.5 151.2l1.8 0.1M167.4 109.1l1.6 -1.1M194.4 199.5l1.4 -0.7M252.2 419.2l-3.1 -0.8M120.4 439.2l-1.0 -0.9M139.6 289.2l-0.6 -1.3M245.6 416.6l-4.9 0.4M179.1 256.8l0.1 -1.6M369.5 186.2l0.6 2.5M165.3 280.5l0.2 -1.5M312.8 145.1l3.7 0.4M271.7 201.9l1.7 1.3M327.6 193.8l1.4 2.6M220.1 276.5l-1.1 -1.1M418.6 222.1l-0.2 3.3M365.0 349.8l-2.1 1.9M212.0 388.8l-3.0 0.5M269.2 409.4l-3.2 1.2M338.1 127.4l2.5 2.0M166.5 375.0l-3.9 -1.7M359.5 326.5l-2.3 3.0M247.9 121.6l3.6 -0.5M169.7 296.8l-1.1 -2.1M201.6 223.0l1.7 -1.2M257.5 216.6l2.7 0.0M298.5 153.3l2.6 2.0M374.3 248.4l0.5 1.8M259.2 224.1l1.8 0.3M199.1 76.7l1.9 -0.2M185.7 353.0l-1.8 -0.4M419.8 430.7l-3.1 2.7M228.1 155.3l1.6 -0.1M116.9 169.5l0.7 -2.8M263.1 205.0l2.2 1.4M313.8 235.3l-0.1 2.7M292.1 419.4l-2.7 2.4M289.2 184.3l2.3 0.4M338.5 397.3l-1.9 3.2M253.1 95.5l1.3 0.4M124.2 358.4l-2.6 -2.3M67.0 322.6l0.1 -5.1M388.0 351.5l-3.0 3.2M134.0 322.3l-3.3 -2.6M239.5 311.4l-1.2 0.3M187.6 302.9l-0.6 -1.6M306.8 372.5l-3.1 0.5M271.5 182.8l1.4 0.9M422.5 259.1l-0.8 3.1M385.8 207.6l0.4 4.0M434.5 418.2l-3.3 2.5M258.9 425.5l-3.0 -0.1M157.4 204.7l0.7 -1.5M348.1 344.4l-1.6 2.2M371.5 201.0l0.7 1.4M396.7 406.8l-1.4 0.9M388.3 305.7l0.2 2.3M186.1 391.0l-1.6 -0.9M140.2 418.4l-3.0 -2.5M186.9 171.1l2.3 -1.5M337.4 341.0l-2.2 1.8M198.1 266.7l-0.4 -2.2M93.2 272.6l-0.0 -4.1M404.3 135.7l1.5 3.2M71.4 179.2l1.8 -3.5M239.8 295.1l-1.0 -0.1M302.3 108.7l2.9 2.1M160.4 181.4l1.4 -3.0M212.3 123.4l2.2 0.0M405.6 322.7l-1.3 2.9M334.6 287.2l-0.5 1.6M170.0 277.1l-0.2 -2.3M431.2 260.9l0.7 4.3M95.3 79.8l3.5 -2.0M184.3 163.5l2.0 -2.0M71.1 192.6l0.0 -1.0M414.3 278.1l-0.9 2.8M308.7 312.9l-0.9 1.6M331.1 225.9l0.9 3.0M90.1 332.1l-0.1 -3.2M88.1 155.2l2.6 -1.5M317.5 385.6l-1.5 1.7M91.3 281.2l0.7 -4.3M401.2 442.4l-1.9 3.5M410.9 335.0l-1.2 1.9M245.9 140.1l3.5 -1.3M413.3 190.8l2.4 3.4M419.9 440.6l-2.2 5.0M64.9 197.9l3.3 -3.3M285.9 181.8l1.6 1.0M298.6 327.2l-1.7 1.0M158.8 393.2l-1.9 -1.2M94.6 153.8l1.0 -1.7M347.9 366.6l-2.6 1.4M404.6 399.2l-1.1 3.2M427.2 236.9l0.2 3.1M312.3 372.4l-3.5 0.9M262.0 194.8l2.0 0.8M173.8 262.8l0.0 -1.5M329.7 382.7l-3.2 1.7M237.7 229.3l1.7 -0.9M204.3 137.5l2.8 -0.3M200.9 368.0l-2.2 -2.1M334.4 242.9l-0.6 2.5M260.2 441.4l-3.1 -1.2M298.3 408.8l-2.0 0.8M66.3 148.0l1.1 -2.3M369.3 413.6l-2.7 1.9M121.0 194.0l0.6 -2.5M62.8 208.7l1.5 -1.8M285.3 364.6l-2.4 0.7M248.1 348.1l-2.3 0.7M289.1 312.0l-1.2 1.7M129.5 178.7l0.7 -1.7M346.1 316.7l-2.4 2.2M192.1 115.7l2.9 -3.0M175.7 125.4l1.6 -1.1M429.4 250.0l-0.0 3.1M356.2 126.8l2.5 3.0M259.7 168.8l2.5 1.5M116.3 185.5l2.5 -2.3M425.2 392.0l-1.2 2.1M339.4 173.9l0.7 1.2"/>
<path stroke="#0f0f0f" stroke-width="1.5" d="M376.1 218.2l-0.2 2.0M90.8 199.8l1.6 -1.5M428.6 361.4l-1.2 2.6M161.7 439.6l-3.3 -2.9M369.6 124.4l2.2 1.6M144.4 285.0l0.2 -2.2M244.5 165.0l2.2 -0.2M251.4 224.1l1.7 0.8M101.9 265.4l0.7 -3.2M91.8 313.5l-2.2 -3.0M117.4 364.0l-4.0 -2.0M270.7 345.1l-1.9 0.9M404.6 306.6l-1.2 2.3M124.0 405.4l-1.3 -3.0M359.5 269.1l0.9 3.4M87.7 416.1l-3.0 -3.6M96.7 96.5l2.1 -1.2M118.1 226.4l0.7 -2.5M202.1 202.5l1.7 -0.5M194.9 440.3l-1.8 0.1M390.5 190.0l0.9 3.6M339.4 273.6l0.2 1.7M154.3 313.0l-1.2 -1.7M270.8 231.1l1.4 1.8M158.7 177.1l1.4 -2.2M229.2 275.9l-0.4 -1.1M122.9 264.8l-0.1 -1.8M322.0 222.3l0.5 1.8M270.0 440.3l-2.9 -0.7M97.9 287.5l-1.5 -2.6M223.9 328.9l-2.6 0.1M133.0 155.0l2.4 -2.8M110.3 125.8l1.2 -0.7M163.3 93.6l1.4 -0.6M303.0 129.5l4.3 1.1M226.3 379.2l-3.7 -0.9M93.3 263.8l-0.8 -3.3M330.2 420.3l-2.0 0.8M423.7 142.4l2.1 1.8M218.1 370.3l-1.5 -1.0M379.1 213.1l1.1 1.4M420.0 430.7l-1.3 1.5M80.4 232.5l2.5 -3.9M371.5 85.2l2.3 1.1M418.9 424.4l-1.4 2.7M356.0 108.0l2.5 2.3M83.0 317.3l-1.4 -2.7M382.7 331.2l-0.6 1.9M288.3 97.5l3.4 1.5M131.8 406.4l-4.0 -0.9M376.2 277.9l-0.5 2.9M421.8 253.3l0.9 2.5M89.6 448.6l-5.0 -1.7M412.0 202.8l0.7 3.4M147.9 91.4l3.6 -1.8M304.8 180.4l1.5 2.4M264.3 194.7l2.8 -0.3M355.2 208.0l1.2 1.5M207.8 118.7l2.1 -1.5M364.3 323.6l-1.6 1.7M146.5 382.1l-1.2 -2.2M290.3 355.7l-2.4 1.7M116.1 416.7l-3.3 -2.9M253.1 335.8l-2.8 1.0M415.6 443.0l-1.8 0.7M117.9 222.1l1.9 -3.3M363.1 304.2l-1.3 3.0M149.9 352.2l-1.7 -2.9M165.9 87.1l2.1 -1.0M253.7 320.7l-1.3 0.4M341.8 128.9l2.5 3.3M239.1 140.5l3.4 0.6M327.6 407.8l-4.6 0.3M191.0 217.9l2.1 -1.0M428.4 336.5l-0.9 3.7M380.4 197.2l2.4 2.9M193.8 206.5l2.0 -2.8M153.1 183.7l2.0 -2.5M308.4 76.0l4.1 1.3M125.8 268.4l0.8 -2.6M189.6 212.1l1.6 -1.5M338.7 375.8l-2.6 0.7M309.7 228.6l1.4 2.1M250.6 132.7l2.4 0.2M261.3 438.4l-2.1 0.7M138.6 181.0l0.9 -2.0M366.1 388.2l-2.3 4.0M406.6 372.8l-0.9 3.1M219.2 346.3l-2.2 -1.8M276.5 255.7l-0.1 1.3M376.6 292.7l-0.1 1.1M225.9 252.3l1.0 -1.7M106.4 439.2l-3.0 -1.1M318.4 405.4l-2.1 0.3M109.2 380.1l-2.1 -2.2M92.6 383.9l-2.1 -3.9M183.1 243.9l1.3 -1.7M289.4 113.6l4.0 -0.4M135.8 195.9l0.7 -1.6M313.1 201.2l1.3 1.7M342.2 287.0l-1.8 2.2M324.8 395.3l-2.5 0.6M315.0 369.1l-1.8 0.5M147.9 150.0l3.2 -1.7M70.4 211.5l0.6 -2.1M361.3 227.8l0.2 2.8M387.9 259.8l-0.7 1.9M253.0 384.2l-1.4 0.0M131.0 365.7l-2.2 -3.0M250.0 206.8l2.4 1.3M279.1 314.4l-1.8 0.6M158.4 393.5l-1.4 -1.7M228.9 236.5l1.1 -0.5M122.9 374.0l-0.9 -2.6M349.7 126.4l2.0 2.8M392.4 102.8l2.1 2.1M247.8 306.3l-1.4 0.6M428.6 309.6l-2.2 2.7M203.7 183.3l1.4 -0.8M242.6 156.5l2.5 1.0M143.6 264.9l-0.3 -1.2M164.7 216.7l0.8 -1.1M80.3 203.9l0.1 -1.1M80.0 125.9l1.5 -0.9M64.7 276.4l0.8 -3.1M380.8 375.6l-1.8 2.0M275.4 215.4l1.7 1.7M364.4 194.6l1.0 1.2M390.0 261.1l0.6 1.6M85.7 244.3l-0.1 -2.0M354.9 156.6l0.6 1.1M320.3 401.8l-2.5 1.3M364.0 323.1l-1.0 0.9M348.8 411.6l-3.1 3.6M394.3 262.2l-0.7 3.1M160.7 376.2l-1.8 -1.6M86.2 140.0l1.8 -1.4M252.2 392.7l-2.3 1.1M335.0 416.7l-2.6 0.9M119.5 137.3l2.2 -2.8M132.1 416.8l-2.9 -1.2M65.9 413.9l-2.3 -2.5M135.1 201.9l1.1 -2.5M282.2 255.3l0.3 2.1M304.2 217.6l1.2 0.8M226.8 425.1l-1.8 -1.1M221.8 103.2l1.3 -0.8M77.6 174.2l0.1 -1.0M67.0 281.3l-2.1 -4.1M307.9 159.0l3.8 1.1M79.5 145.7l2.9 -4.3M128.8 201.8l1.2 -3.1M152.3 109.8l2.8 -1.6M141.8 295.6l-1.7 -2.7M234.5 214.8l1.7 -0.6M351.7 115.0l2.9 0.9M210.3 151.1l2.7 -1.6M72.5 393.6l-1.5 -5.0M154.4 436.8l-2.1 -0.4M256.9 177.6l1.0 0.0M89.3 253.4l-0.5 -4.4M394.4 435.8l-1.4 1.3M331.1 268.0l0.0 2.2M409.7 374.2l-2.1 3.6M74.1 293.7l-0.4 -3.4M375.9 210.9l0.7 4.1M213.5 90.8l1.9 0.2M188.2 288.2l0.0 -1.9M149.6 385.4l-2.2 -2.1M120.4 298.1l-1.4 -2.3M375.0 436.3l-4.0 1.4M320.7 224.9l1.3 1.7M329.9 406.1l-2.9 0.2M362.9 382.5l-3.5 2.0M89.0 154.1l3.7 -2.4M278.6 104.1l2.4 0.0M304.1 292.8l-1.3 1.4M120.1 308.9l-0.6 -1.3M157.9 352.1l-2.0 -1.6M317.8 348.7l-2.4 2.2M230.0 227.6l1.1 -0.1M131.5 136.7l1.1 -1.8M216.8 204.8l1.7 -0.3M360.5 88.1l2.5 3.0M358.9 158.3l2.1 1.2M373.3 295.6l-1.1 4.4M217.8 177.8l1.8 -0.9M133.2 413.5l-2.5 -1.5M192.2 334.4l-2.5 -0.8M406.8 276.2l-1.0 2.4M374.1 352.9l-1.8 1.4M140.5 117.4l3.8 -2.0M101.9 381.2l-1.9 -3.5M241.1 400.2l-3.0 -1.6M73.5 200.2l3.7 -3.6M401.7 317.9l-1.0 3.6M298.4 140.1l1.6 1.1M327.1 181.2l2.5 1.4M393.6 340.7l-1.7 1.5M300.8 156.3l1.3 1.4M204.9 105.8l1.1 -0.9M97.4 346.1l-2.5 -2.7M131.0 160.2l2.7 -2.9M265.7 243.5l0.8 0.5M210.0 91.0l2.0 -1.2M395.2 89.2l3.4 3.6M128.7 101.7l2.0 -1.9M374.3 300.1l-0.0 2.5M96.5 271.0l1.2 -4.0M401.2 436.4l-2.6 3.8M96.4 405.9l-4.5 -3.1M88.3 190.7l2.5 -3.4M169.2 444.6l-5.5 -1.5M336.3 315.6l-0.8 3.5M249.5 132.9l2.4 0.7M374.9 122.6l3.8 1.6M122.0 290.2l-1.5 -2.5M176.4 279.0l-0.8 -2.6M194.8 296.8l-2.0 -1.6M175.6 87.9l3.7 -2.9M121.2 99.3l3.3 -0.8M62.3 127.1l3.4 -3.2M383.2 374.9l-2.2 2.4M191.7 443.8l-4.1 -3.8M333.0 297.6l-1.8 1.8M380.7 251.1l-1.0 2.8M201.3 133.0l1.5 -0.1M370.5 353.1l-0.8 0.7M271.6 187.5l2.7 0.0M120.7 359.1l-1.2 -2.9M201.6 433.4l-4.8 -1.1M331.6 261.6l0.7 2.3M196.5 186.7l1.8 -1.2M102.6 304.1l-1.4 -1.7M420.2 204.2l2.4 3.9M324.1 409.1l-2.6 2.0M113.6 362.0l-1.6 -3.6M284.1 126.3l2.2 0.8M151.1 340.8l-0.6 -1.4M110.3 236.6l0.9 -2.8M296.3 369.6l-2.8 0.5M323.9 144.8l2.4 0.9M162.6 423.9l-2.1 -2.0M127.1 174.1l1.6 -2.4M342.1 215.2l1.2 1.9M410.7 232.3l0.5 1.7M179.3 171.2l2.5 -1.7M168.9 135.7l2.1 -1.5M288.1 329.7l-1.3 1.3M318.6 82.7l2.4 0.8M181.2 181.2l1.9 -1.9M112.6 278.1l-0.6 -2.1M303.8 215.6l2.3 1.5M302.5 139.4l2.0 1.9M431.8 251.9l0.8 3.2M222.2 369.5l-2.3 -1.3M343.9 339.7l-2.1 3.5M93.2 131.0l1.0 -2.2M88.8 319.5l-0.3 -3.9M78.1 93.3l4.6 -3.6M250.1 117.1l2.1 0.9M82.4 149.4l2.4 -2.8M137.0 142.8l1.1 -2.4M331.3 84.3l1.5 1.9M407.2 333.3l-0.8 2.2M61.6 190.9l0.2 -3.8M82.4 445.0l-3.9 -2.5M87.2 375.8l-0.9 -3.6M269.2 446.1l-1.8 -0.3M312.2 252.8l0.5 2.0M255.2 360.3l-2.2 0.4M169.6 184.2l2.1 -2.7M208.8 336.9l-1.4 -1.6M242.8 336.1l-1.3 -0.7M235.3 278.4l-1.4 -1.5M82.4 394.8l-1.4 -5.5M257.1 364.1l-3.4 0.5M220.2 196.1l1.7 -0.3M395.8 405.6l-1.4 1.0M430.8 398.5l-3.1 1.8M178.8 189.0l2.1 -2.5M319.6 252.0l0.1 2.1M423.5 139.9l2.6 2.5M75.0 83.2l4.0 -2.6M215.1 240.5l1.2 -1.6M93.3 402.6l-3.1 -4.3M355.4 76.7l5.4 1.6M382.1 423.0l-2.9 1.5M138.7 311.6l-0.2 -2.0M257.5 179.7l2.3 1.2M298.8 179.6l2.2 1.3M397.4 382.1l-0.8 2.1M336.0 373.0l-2.1 3.4M145.2 112.7l1.9 -1.4M275.9 329.9l-2.0 0.8M201.2 327.2l-1.1 -1.9M243.9 271.6l-2.0 0.1M87.7 184.9l0.4 -2.4M216.5 215.2l1.9 -0.8M218.8 336.8l-1.7 -1.0M265.5 364.0l-3.0 -0.5M393.6 400.0l-0.8 2.3M348.2 112.5l3.4 0.7M315.2 304.3l-1.8 1.6M317.8 391.7l-2.6 0.7M61.7 316.6l0.5 -3.4M258.8 91.8l3.3 0.9M423.9 151.7l2.4 4.7M121.7 292.7l-1.3 -3.3M296.0 314.7l-2.4 1.3M379.6 358.0l-3.3 2.4M127.9 105.0l4.9 -1.5M306.8 105.6l3.3 1.9M123.5 220.7l0.7 -2.6M203.3 85.5l3.5 -1.7M296.5 233.7l0.1 2.0M281.5 247.7l0.3 1.8M94.7 433.1l-1.8 -2.8M337.0 334.6l-0.9 1.7M374.9 137.7l1.3 3.5M161.9 439.8l-3.3 -1.5M110.5 412.1l-1.1 -0.4M104.0 290.6l-0.2 -1.8M186.5 142.9l3.6 -0.9M410.0 282.2l-0.8 3.4M261.3 76.7l3.2 -0.7M193.0 236.9l0.1 -1.8M297.6 240.4l0.7 1.8M69.6 118.8l0.9 -2.2M192.0 264.9l0.2 -1.7M74.3 173.7l1.3 -4.6M377.9 304.1l-2.1 2.6M379.8 257.3l0.6 2.3M128.9 317.5l0.0 -2.5M115.5 284.2l0.2 -2.7M220.7 347.4l-2.0 -0.7M82.4 219.7l0.5 -3.3M311.8 174.4l2.4 1.2M211.7 369.9l-1.9 -1.8M258.8 423.1l-3.0 1.4M179.3 198.1l2.5 -1.0M64.5 131.1l3.6 -3.9M87.0 416.4l-2.0 -3.9M174.3 221.1l1.6 -2.8M183.5 246.0l0.9 -1.3M313.2 112.1l1.4 0.6M384.0 222.4l0.9 1.5M293.1 89.6l3.0 2.6M129.6 356.1l-2.0 -1.5M398.4 255.3l0.0 2.2M248.5 388.5l-1.6 0.2M350.0 208.9l1.8 2.5M227.1 432.5l-4.1 0.4M362.8 356.2l-0.8 3.2M416.2 110.8l3.6 3.3M333.2 299.1l-1.4 1.5M75.3 368.4l-1.4 -3.5M350.3 240.3l1.1 1.6M322.4 213.5l1.8 1.2M385.1 75.6l4.1 1.8M200.8 154.0l1.0 0.0M86.0 422.3l-2.0 -0.9M100.0 122.6l3.6 -1.8M223.2 112.0l2.2 -0.4M328.2 392.6l-3.6 0.8M341.2 212.7l1.4 3.1M430.2 77.0l3.4 2.2M234.5 83.5l2.2 -0.1M157.2 211.9l1.1 -2.3M293.1 347.0l-0.5 0.7M357.7 117.5l2.3 2.2M197.9 435.6l-3.9 0.3M295.8 341.6l-1.8 1.9M155.1 276.1l-0.4 -3.5M424.3 346.3l-0.8 1.2M94.6 272.5l-0.4 -1.1M191.6 423.4l-2.1 0.2M407.6 207.1l0.5 2.1M138.4 201.7l0.5 -1.4M271.2 440.0l-2.9 0.1M328.1 330.8l-0.4 1.1M284.8 438.0l-4.3 -0.7M242.2 81.5l3.1 -0.2M166.7 404.5l-2.3 -2.6M389.1 79.4l1.1 2.2M405.8 257.2l-0.9 2.1M230.6 114.8l3.4 -1.5M306.0 417.3l-1.8 1.6M374.5 234.4l-0.8 3.4M426.4 163.5l2.6 4.8M321.1 314.0l-1.2 2.8M404.5 131.0l0.7 1.2M417.7 98.4l4.3 3.6M347.1 325.8l-0.5 2.8M174.7 126.0l2.1 -0.1M226.8 170.2l3.3 -0.4M236.5 344.7l-2.5 0.4M196.1 130.3l2.3 0.0M261.6 91.3l4.0 1.2M432.1 179.1l1.1 1.4M91.4 250.6l0.8 -3.0M128.6 202.0l0.2 -2.9M317.7 360.7l-2.8 1.2M390.6 218.6l2.2 3.3M96.5 434.0l-3.7 -2.3M327.0 156.1l2.2 1.8M393.4 441.7l-4.7 2.8M165.7 306.4l-0.9 -2.3M140.2 223.1l2.1 -2.2M144.4 142.2l0.7 -0.9M218.3 353.8l-1.1 -0.0M431.5 311.7l-1.6 2.1M231.0 162.2l3.2 0.2M376.0 192.5l0.5 3.6M311.7 343.3l-1.4 2.4M349.9 295.1l0.0 2.0M214.0 91.8l1.5 -0.9M197.5 389.9l-1.3 -0.6M177.9 407.1l-3.6 -2.7M294.4 347.4l-1.5 1.2M218.9 161.2l1.7 -1.3M103.4 364.4l-1.6 -4.3M219.3 323.2l-1.3 -1.4M196.1 131.6l2.9 -0.7M245.7 88.1l2.6 -1.2M356.9 254.5l0.1 3.3M415.7 105.3l1.0 3.3M428.2 329.5l-2.2 2.7M384.1 341.6l-1.4 1.6M93.0 291.5l-0.3 -2.9M306.0 189.0l1.1 1.2M113.9 309.4l-0.8 -0.8M188.4 364.0l-1.9 -0.1M373.9 225.7l0.3 3.2M191.6 150.4l2.8 -1.4M145.3 404.3l-1.9 -0.7M69.0 234.1l1.7 -3.3M167.5 232.9l1.9 -1.9M401.2 261.1l-1.8 3.9M164.0 416.5l-2.3 -3.1M333.2 373.9l-2.1 0.9M326.4 256.5l-0.5 2.9M401.7 393.5l-1.5 3.5M421.1 306.5l-1.3 3.7M408.1 175.4l1.6 3.1M400.7 330.0l-1.1 3.7M243.4 147.1l3.3 -0.9M241.8 272.7l-1.4 -0.5M91.8 107.3l0.7 -1.6M324.3 300.3l-0.5 2.6M320.9 235.6l0.5 1.3M314.4 340.2l-2.7 0.8M268.1 331.2l-2.8 1.5M124.9 184.5l1.0 -3.6M147.4 86.6l1.5 -1.7M313.4 307.0l-0.6 1.2M261.8 208.8l1.7 1.2M380.8 305.3l-1.2 2.4M155.8 93.9l2.2 -1.3M289.7 427.6l-2.5 1.4M345.0 191.7l0.9 2.4M251.2 419.1l-2.0 -0.2M354.9 251.5l0.7 2.3M310.8 384.2l-1.3 0.8M253.3 183.8l3.2 0.1M68.9 228.2l-0.1 -1.3M217.4 421.8l-2.6 -0.3M364.6 85.8l3.3 2.1M87.1 361.3l-3.5 -3.2M167.7 183.4l2.2 -2.6M401.3 364.9l-1.3 2.6M130.9 391.2l-2.8 -3.3M362.4 316.5l-1.9 1.7M370.4 116.3l2.2 2.7M365.0 121.7l1.4 2.8M75.3 169.1l2.1 -1.8M362.4 366.6l-2.4 4.2M314.4 317.4l-2.7 1.5M165.3 403.7l-2.8 -0.4M114.7 328.7l-0.8 -2.9M203.7 433.7l-3.0 0.6M313.1 152.6l1.0 0.4M195.6 243.3l1.4 -1.6M367.8 335.8l-0.4 3.4M361.2 201.6l0.2 3.1M261.0 304.2l-1.4 0.8M350.5 207.1l0.8 3.1M287.2 131.5l2.3 -0.2M175.0 140.4l2.1 -2.5M125.6 95.6l3.5 -2.6M352.2 219.4l1.6 1.6M270.3 145.2l3.3 0.0M192.1 161.6l2.0 -2.2M290.9 412.0l-3.7 1.3M309.1 127.2l2.9 1.6M339.1 226.5l1.6 2.0M377.7 130.5l1.4 1.1M283.9 296.2l-1.7 2.3M119.3 310.2l-0.4 -3.7M311.6 442.7l-3.9 0.5M383.1 213.2l1.2 4.0M68.3 401.0l-0.9 -0.9M313.7 377.3l-2.4 1.2M261.6 416.6l-1.5 0.1M65.2 85.8l2.5 -5.0M246.6 285.0l-1.2 0.0M168.1 207.0l0.2 -1.5M161.8 186.1l2.0 -2.0M196.4 96.3l2.2 -2.0M349.7 367.9l-1.5 3.3M311.0 207.8l1.4 2.9M324.4 95.2l4.5 0.2M64.9 124.2l4.0 -3.0M150.9 256.6l0.1 -1.8M138.1 121.3l3.2 -3.5M81.1 118.7l4.0 -2.0M324.1 101.3l3.3 2.7M91.4 243.4l1.3 -2.3M406.2 353.7l-1.3 2.0M356.5 292.8l-1.1 3.7M243.9 129.5l2.5 0.9M145.4 301.0l0.2 -2.0M179.4 149.2l0.7 -1.0M296.7 357.2l-1.7 1.9M331.6 240.3l1.2 2.7M256.7 77.2l3.4 0.0M274.3 336.2l-2.6 1.3M316.7 447.3l-0.8 0.1M384.9 120.4l2.9 1.2M398.9 250.4l0.1 2.2M406.3 112.8l3.3 2.8M331.4 438.1l-2.5 0.4M307.6 260.1l-0.9 2.9"/>
<path stroke="#0f0f0f" stroke-width="2.0" d="M208.2 395.1l-3.1 -1.4M284.3 231.8l1.4 0.9M227.7 213.1l2.0 -1.9M414.0 177.2l1.6 1.7M311.7 432.0l-2.7 0.1M408.0 244.8l-0.9 3.0M99.2 348.9l-1.7 -1.5M221.3 299.7l-2.5 -0.4M249.8 443.1l-4.0 -1.1M108.3 199.1l1.1 -2.2M101.1 116.3l1.7 -2.8M338.6 92.2l1.4 1.9M285.1 313.5l-2.0 1.0M325.6 374.4l-1.4 1.1M155.7 146.2l1.9 -2.1M227.8 225.8l2.8 -0.5M134.0 250.9l-0.5 -2.4M246.2 223.4l2.0 -0.8M178.4 128.5l4.1 -0.9M155.9 150.5l2.0 -0.5M291.9 267.9l-0.7 1.8M253.3 279.4l-1.4 0.7M363.8 438.1l-3.8 3.6M67.1 205.4l1.5 -2.0M426.3 218.1l0.2 4.2M392.4 189.4l1.8 1.7M335.7 152.3l2.0 2.6M209.0 195.4l2.2 -1.1M84.1 296.4l-0.4 -2.6M334.7 190.3l1.3 2.7M428.0 149.6l2.0 4.4M317.8 141.8l2.9 0.6M317.0 218.8l0.6 2.0M155.9 104.8l3.0 -4.0M119.8 397.9l-1.6 -3.1M196.6 208.4l2.5 -1.0M142.4 374.8l-2.2 -2.0M247.2 441.0l-2.0 0.5M382.1 273.8l-0.2 2.4M64.6 231.7l1.3 -2.9M154.3 340.1l-2.2 -3.0M243.6 334.3l-2.9 1.1M253.6 444.9l-2.0 0.9M275.4 138.9l3.5 0.8M188.8 347.5l-2.2 -2.2M164.2 185.0l2.8 -1.8M137.4 241.2l1.6 -2.9M350.1 432.4l-2.2 1.5M386.6 295.8l-0.1 2.9M311.9 90.5l4.6 1.3M349.7 256.8l0.9 2.0M188.0 310.9l-2.0 -1.3M345.0 160.0l1.2 1.8M189.3 356.8l-3.0 -1.9M69.9 304.2l0.3 -3.1M79.3 241.5l1.4 -3.4M277.6 242.7l1.1 1.6M292.5 291.6l-0.8 1.7M252.2 244.4l1.9 0.2M197.9 237.1l1.3 -1.5M374.6 155.5l2.0 1.9M340.6 157.8l2.9 2.0M205.8 314.9l-2.2 -1.6M381.1 138.1l2.6 1.7M231.0 242.0l1.9 -1.0M133.0 246.9l-0.5 -1.6M141.9 229.9l-0.3 -3.3M146.3 85.6l4.7 -1.6M239.6 169.9l2.4 -0.6M88.3 195.5l1.2 -1.9M137.2 147.6l2.2 -2.4M259.2 199.9l1.8 1.3M89.0 273.8l-1.2 -3.0M240.9 307.9l-1.4 -0.0M90.1 120.1l3.5 -3.8M332.1 445.9l-3.3 2.0M317.0 223.8l1.3 2.6M199.0 356.0l-2.5 -1.5M264.4 236.2l1.2 1.4M316.1 379.2l-2.7 0.7M83.6 129.6l1.3 -3.7M282.8 408.1l-4.1 1.4M100.0 406.3l-1.9 -0.7M146.7 349.5l-2.5 -1.3M120.2 249.0l0.3 -3.0M292.8 197.3l1.2 1.5M384.8 382.0l-0.9 1.4M167.3 259.8l-0.1 -2.6M253.0 239.3l2.2 0.3M364.4 417.3l-1.5 0.4M318.4 391.3l-1.9 1.2M189.3 449.7l-2.6 -1.5M227.9 174.5l2.4 0.5M245.7 361.7l-3.3 -0.7M227.5 369.2l-2.7 -1.5M134.4 193.5l1.3 -3.8M276.2 343.8l-1.3 -0.1M347.5 250.9l1.0 1.8M350.3 203.2l0.3 2.1M66.9 326.8l-1.4 -4.6M104.2 395.8l-2.5 -1.6M421.4 353.7l-0.6 4.1M287.2 87.3l2.9 0.4M101.9 128.7l1.4 -3.8M211.3 155.4l1.5 -0.7M162.4 158.4l3.0 -2.1M295.7 94.5l2.9 0.6M295.9 425.6l-2.2 1.3M433.0 435.8l-1.0 2.7M386.1 321.3l-1.2 1.3M170.8 217.6l2.6 -1.9M159.7 260.5l-0.1 -2.3M122.4 160.3l1.7 -2.5M171.4 437.5l-2.8 -1.9M313.9 305.8l-1.3 1.7M301.8 379.6l-2.6 3.1M262.4 163.7l3.8 0.3M122.9 367.6l-2.2 -2.9M375.3 357.0l-3.9 2.4M320.1 204.1l1.4 1.6M255.7 400.5l-1.5 -0.3M226.3 118.6l3.5 0.1M282.7 95.9l3.8 -0.5M164.8 194.1l1.1 -2.7M231.9 389.6l-3.5 0.9M151.4 414.3l-0.7 -0.9M60.5 305.9l-1.0 -1.4M252.5 78.1l2.8 -0.2M384.8 337.2l-0.2 2.5M268.2 171.8l2.5 -0.0M254.8 289.1l-1.7 -0.2M205.3 252.6l0.3 -2.2M228.1 408.3l-3.0 -1.5M175.9 320.1l-0.7 -1.0M188.1 418.0l-3.7 -0.9M399.5 264.0l-1.3 3.4M430.7 90.3l4.3 1.9M266.8 307.9l-2.2 0.4M361.0 76.6l1.9 0.9M286.1 402.1l-3.5 0.9M67.3 285.9l-0.8 -3.0M324.4 177.5l2.1 1.1M227.7 293.5l-1.5 -1.1M247.3 316.9l-1.1 -0.3M268.0 292.8l-1.0 1.0M226.9 355.0l-3.3 -1.7M287.6 391.2l-1.4 -0.0M80.2 386.8l-2.1 -2.3M105.2 268.1l0.0 -4.0M304.5 426.9l-5.0 0.8M118.1 163.4l1.1 -3.8M232.7 325.0l-2.1 -0.3M203.2 180.9l3.5 -0.3M74.0 123.4l3.4 -3.4M334.7 296.5l-0.5 2.0M433.5 200.4l-0.2 1.7M286.3 324.3l-1.8 1.0M275.6 392.0l-2.7 0.3M190.9 298.5l-1.0 -1.2M230.0 393.2l-3.0 -0.4M58.8 90.4l2.2 -1.1M423.9 249.2l0.1 4.1M318.0 174.5l2.7 1.9M269.7 436.8l-3.1 0.2M353.8 220.6l0.1 3.8M308.3 328.4l-2.0 1.2M190.8 178.1l2.5 -1.1M352.7 314.3l-1.5 1.7M336.9 362.0l-2.3 2.5M135.9 249.7l0.9 -1.9M119.3 278.5l-0.3 -1.9M231.6 240.7l2.0 -0.3M142.5 402.2l-2.3 -2.1M280.2 232.2l1.3 1.8M192.6 231.9l0.3 -1.1M362.8 128.7l1.6 2.1M119.0 118.2l3.9 -2.7M208.6 110.8l2.9 -0.1M386.8 97.0l2.3 3.9M282.8 220.9l2.2 1.5M197.4 332.1l-1.9 -0.4M289.0 346.4l-2.0 1.9M197.7 376.9l-1.6 -1.7M105.5 397.9l-3.1 -2.0M351.4 368.9l-3.0 1.5M153.3 123.4l3.2 -1.9M99.7 76.9l3.5 -2.1M99.8 226.8l0.3 -3.1M418.6 253.6l1.1 3.0M103.6 215.2l1.4 -1.9M75.3 176.2l2.9 -3.4M282.3 356.9l-3.3 0.5M355.6 414.0l-2.7 2.1M231.2 407.4l-4.4 -1.5M252.7 392.3l-2.2 -0.8M422.9 403.9l-2.3 3.4M145.1 118.9l1.0 -1.5M189.7 129.1l1.3 -0.9M419.4 81.5l3.2 1.5M202.2 280.7l-1.2 -1.4M208.3 294.3l-1.2 -2.1M371.0 396.4l-1.4 2.4M292.5 142.5l3.0 -0.1M83.2 139.4l3.5 -4.0M209.6 98.9l3.2 0.6M144.1 83.1l1.8 -1.2M332.2 271.2l0.3 2.1M310.5 347.4l-1.4 2.3M263.9 90.8l1.4 0.5M287.8 226.0l0.8 1.4M284.2 351.9l-2.7 0.9M146.9 418.6l-1.9 -2.1M398.8 393.3l-1.6 2.3M195.3 363.7l-1.6 -0.4M296.0 274.8l-0.8 1.4M282.3 99.6l3.1 1.4M70.1 227.6l1.7 -2.4M282.6 260.5l0.2 2.4M359.3 212.0l1.3 1.6M348.5 212.8l0.8 3.2M61.8 252.9l1.2 -3.8M420.2 272.5l-0.1 1.3M340.8 271.3l0.2 1.8M287.9 113.7l3.9 0.7M281.1 257.2l0.2 1.2M119.3 281.2l-0.4 -2.0M373.3 224.2l0.7 1.8M186.2 228.1l0.5 -2.7M78.6 343.4l-0.4 -1.9M303.5 212.5l2.1 1.6M360.3 278.8l0.4 1.6M154.9 444.7l-3.8 -2.3M63.9 314.4l-0.4 -3.7M211.3 138.7l2.2 -0.4M326.5 352.5l-2.8 2.4M59.2 167.5l1.4 -2.9M265.5 335.3l-2.2 -0.0M229.2 88.8l2.8 0.4M177.5 311.4l-0.8 -0.9M268.0 193.0l2.3 -0.1M158.1 89.0l2.2 -0.6M377.9 193.3l1.0 2.6M209.2 167.7l1.2 -0.5M334.9 90.0l3.9 0.2M73.0 372.6l-0.9 -3.7M272.9 91.6l2.7 -0.3M136.3 431.1l-1.9 -1.2M133.3 199.3l1.5 -2.1M420.7 392.7l-3.6 2.6M161.3 361.4l-3.0 -2.2M420.4 377.7l-2.9 3.6M318.8 391.5l-1.7 0.6M118.4 115.3l4.7 -2.0M273.8 270.0l-1.1 2.1M341.4 386.2l-1.7 1.1M366.0 134.8l3.0 1.7M375.8 181.3l1.2 1.9M78.6 396.7l-2.2 -1.2M210.2 399.7l-2.3 -0.3M340.1 285.9l-0.6 2.6M94.9 133.9l2.3 -2.1M135.5 187.3l0.9 -2.9M171.9 434.0l-1.4 -0.0M281.8 218.7l2.0 0.6M332.0 121.3l1.4 2.0M83.6 148.8l1.5 -2.3M76.1 89.3l2.2 -1.4M124.4 167.4l0.8 -1.9M352.0 159.7l1.8 2.2M355.4 304.4l-0.0 2.1M103.5 438.6l-2.8 -1.3M388.2 85.3l1.4 1.2M327.9 222.5l1.5 1.5M223.9 168.1l2.9 -1.3M111.8 333.1l-1.5 -3.2M249.4 194.0l3.0 0.6M403.8 102.3l1.5 0.7M243.0 272.7l-1.3 -1.1M91.9 419.9l-1.4 -3.7M335.3 156.9l1.9 2.1M142.0 425.7l-1.2 -1.1M107.8 169.4l0.3 -2.2M381.5 416.0l-3.6 2.3M78.4 231.5l-0.5 -2.8M59.4 83.7l2.5 -4.3M80.2 211.4l2.0 -3.1M164.8 357.9l-1.4 -2.7M402.2 167.5l0.3 1.8M311.6 91.4l1.6 0.6M117.0 109.7l1.2 -2.5M245.5 229.7l2.4 0.9M243.6 188.2l2.7 0.1M127.9 145.6l3.2 -2.0M106.4 309.5l-1.3 -2.2M148.8 136.9l1.8 -1.1M396.7 377.8l-1.9 2.0M141.7 201.5l1.4 -1.2M214.6 303.3l-0.9 -1.0M104.1 388.6l-0.9 -2.7M164.9 311.7l-1.4 -1.5M73.9 93.4l1.9 -5.1M364.2 77.2l1.6 1.2M83.6 297.5l-1.7 -3.0M224.5 423.5l-3.4 0.2M315.7 211.9l1.7 1.1M390.3 173.0l0.9 1.5M106.6 217.8l0.1 -2.3M85.2 135.3l0.8 -2.6M133.4 142.5l2.1 -1.1M160.6 165.2l0.8 -0.8M244.5 329.7l-1.7 -0.1M137.2 281.5l0.1 -1.3M219.4 136.0l1.2 -0.0M187.0 345.3l-1.7 -0.5M261.9 318.5l-2.2 -0.4M213.6 387.8l-2.6 -0.5M119.9 177.9l1.8 -2.5M190.2 176.9l1.4 -1.6M148.7 298.0l-1.4 -1.5M372.2 225.7l1.9 3.5M282.3 171.4l2.0 0.7M105.3 292.0l-0.6 -3.9M292.0 263.4l0.1 1.4M252.9 324.8l-1.1 -0.2M407.7 137.5l2.3 1.9M182.4 443.0l-4.8 0.2M111.5 346.0l-2.8 -2.6M314.0 213.9l2.4 1.8M69.6 423.6l-0.7 -1.3M199.7 413.5l-3.6 -2.5M88.9 255.4l0.3 -4.7M414.7 162.9l0.7 3.9M425.0 216.3l1.0 2.5M408.2 152.4l0.8 2.4M116.4 397.2l-1.9 -2.8M222.6 342.5l-1.4 -0.3M262.1 240.1l1.1 0.7M400.2 287.5l-2.9 4.0M140.6 81.0l0.7 -0.9M269.0 120.7l2.8 -0.1M246.7 427.0l-4.2 1.7M185.0 186.0l1.7 -1.2M134.5 349.6l-1.3 -0.9M429.3 108.8l1.4 1.0M265.7 378.2l-1.6 -0.3M165.9 302.3l-1.1 -2.5M409.1 414.4l-2.5 2.4M398.3 171.5l1.7 2.3M117.6 259.0l-0.1 -3.4M101.7 97.5l1.9 -3.5M313.5 284.9l0.2 2.9M73.9 316.9l0.5 -3.3M259.5 318.2l-2.5 0.2M226.3 159.5l3.0 -1.2M329.2 254.6l-0.0 2.9M256.9 372.0l-2.3 0.8M395.9 241.8l2.3 3.7M74.2 237.1l-0.1 -3.0M240.9 247.6l2.0 -0.2M66.9 294.1l1.0 -3.5M154.2 374.4l-0.7 -0.9M332.4 134.6l3.9 1.3M213.3 360.9l-3.5 -0.9M252.1 438.6l-2.7 1.3M271.2 264.9l-1.0 2.0M226.1 434.3l-2.1 0.3M235.7 139.2l1.5 -0.2M149.0 149.8l1.6 -1.0M94.4 414.6l-2.9 -1.9M89.6 337.9l-2.6 -3.5M222.7 385.9l-1.9 -0.8M330.1 110.8l3.2 2.3M192.7 286.1l-1.6 -1.7M99.9 313.0l-0.4 -4.7M293.6 171.9l2.3 1.3M231.7 369.7l-2.2 0.5M371.1 177.9l0.7 3.3M389.7 367.3l-2.1 2.7M201.4 140.2l2.7 -1.5M155.4 325.9l-1.4 -2.1M233.4 123.4l3.0 -0.6M190.4 85.3l2.5 -0.9M116.9 316.6l-2.8 -2.6M249.7 134.5l2.9 1.5M359.7 90.6l3.8 1.3M319.8 219.9l0.1 3.0M134.7 284.7l-1.7 -2.8M124.9 111.6l1.0 -1.5M165.6 210.8l0.8 -1.7M142.7 248.9l0.1 -2.0M87.7 388.2l-1.7 -1.5M109.7 296.7l-1.1 -2.9M200.7 266.9l-0.8 -1.6M79.3 275.5l0.1 -4.4M194.5 306.2l-0.7 -2.4M143.6 310.2l-1.3 -3.1M179.7 395.6l-1.3 -0.6M320.4 98.4l2.9 0.4M73.4 375.5l-3.3 -3.8M153.3 256.6l1.2 -2.2M226.5 280.5l-0.7 -1.8M394.9 423.4l-1.8 4.1M243.8 96.9l1.2 -0.0M318.5 396.9l-0.8 1.1M290.9 285.4l-1.4 1.0M359.8 331.4l-0.6 2.4M431.8 384.0l-2.6 2.1M197.3 387.6l-2.0 -0.5M183.6 155.8l2.0 -0.9M329.6 436.4l-2.3 1.4M63.0 331.2l-0.4 -3.4M305.8 369.7l-1.8 1.0M428.6 396.1l-2.2 3.4M297.4 373.0l-3.4 1.7M333.0 103.4l2.0 0.6M111.8 133.0l2.6 -1.0M169.0 193.7l2.1 -1.3M225.9 437.2l-3.0 -1.2M250.9 221.7l1.0 0.1M145.1 430.0l-2.1 -1.7M414.1 378.1l-1.3 3.0M372.8 326.8l-1.4 1.2M360.8 115.9l3.0 1.6M398.9 111.2l4.4 2.8M161.9 408.8l-2.8 -0.7M108.9 435.9l-3.0 -0.8M152.5 157.5l1.7 -2.3M235.7 333.1l-2.0 -0.9M407.8 419.8l-1.9 4.6M275.5 361.5l-2.6 1.3M190.8 410.6l-2.8 -0.2M310.7 137.2l3.0 0.2M425.7 207.2l-0.1 3.8M370.6 266.5l-0.5 3.0M335.4 97.6l3.1 2.8M241.3 189.5l2.2 0.1M97.2 258.6l-0.4 -2.9M407.5 177.0l1.9 3.7M64.0 142.8l2.2 -4.1M278.9 363.2l-1.3 0.8M215.4 112.3l1.9 -0.3M200.5 133.2l3.4 -0.7M404.0 114.9l1.3 1.1M374.7 99.1l1.9 3.3M293.7 286.9l-1.0 2.0M393.5 424.9l-3.9 3.0M119.8 405.5l-1.4 -1.7M76.6 308.7l-1.7 -2.3M354.6 382.7l-3.1 1.7M250.4 75.7l3.6 -0.2M205.5 223.4l1.3 -2.4M145.4 141.6l1.2 -1.7M368.7 101.4l4.0 1.0M135.2 225.5l1.3 -2.5M275.0 379.3l-2.8 0.9M415.6 420.0l-2.5 2.5M98.8 392.8l-1.2 -2.8M306.6 134.2l1.4 1.7M233.7 382.2l-2.6 0.5M155.3 88.5l2.1 -0.8M325.3 446.0l-3.4 0.2M211.6 76.9l1.7 0.4M395.5 334.0l-1.9 3.5M88.4 430.8l-2.7 -0.9M289.6 193.2l1.8 0.4M92.6 338.4l-2.8 -2.2M76.7 100.0l2.2 -1.9M263.6 108.7l2.9 0.4M222.7 185.6l2.0 -0.5M229.3 327.5l-2.7 0.5M340.1 82.9l3.1 2.1M122.3 211.7l0.5 -3.9M424.8 170.7l0.9 2.9M322.4 443.6l-3.2 0.9M90.3 96.5l0.9 -2.0M203.6 150.1l2.1 -0.4M84.0 145.8l2.1 -1.1M137.1 323.1l-1.1 -1.7M270.7 377.1l-2.5 0.1M289.4 364.2l-2.0 1.3M241.6 218.2l1.8 0.5M85.6 381.8l-2.3 -3.7M187.7 310.3l-1.2 -2.4M374.5 312.6l-0.2 3.4M364.7 83.6l1.7 0.7M366.5 334.7l-2.0 1.8M268.0 414.0l-3.1 1.1M330.5 113.4l3.3 1.0M169.8 108.1l2.2 -1.9M196.4 161.2l2.8 -0.0M345.6 74.4l3.2 1.4M317.0 447.7l-2.7 0.7M399.6 448.4l-4.1 1.1M91.6 386.5l-0.3 -1.1M328.7 353.0l-1.1 0.6M158.0 108.7l3.7 -0.4M245.7 440.1l-3.1 -1.0M143.7 337.2l-2.0 -2.3M287.0 281.3l-0.2 3.0M141.6 168.2l1.3 -1.7M243.6 86.0l1.6 0.4M387.0 363.2l-0.9 1.8M252.3 405.8l-1.8 0.4M347.1 337.5l-0.9 0.8M363.3 271.1l-0.8 1.9M109.3 295.5l-0.0 -2.0M241.0 384.1l-2.7 -1.3M161.2 112.5l2.0 -2.6M291.1 353.1l-1.7 1.3M389.6 341.4l-1.7 3.2"/>
<path stroke="#0c0c0c" stroke-width="1.5" d="M156.3 364.2l-1.2 -0.8M155.9 383.5l-1.3 -1.1M281.0 420.1l-2.2 0.5M282.3 102.6l1.6 -0.3M274.4 307.9l-1.8 1.3M203.5 293.3l-1.0 -1.0M234.0 318.3l-2.7 0.1M346.2 256.1l0.9 1.8M272.3 149.3l2.7 0.7M100.0 233.0l-0.7 -3.0M176.0 193.0l2.6 -1.1M129.4 118.3l1.1 -1.6M238.6 175.0l2.7 0.9M128.1 168.6l4.0 -2.0M210.9 283.7l-0.2 -1.8M382.8 340.4l-0.7 1.3M343.9 391.4l-3.4 0.9M252.5 173.0l2.3 0.3M269.4 135.6l1.6 0.5M122.5 445.3l-3.8 -1.3M81.7 230.2l0.3 -4.0M243.1 360.0l-1.6 -0.8M347.3 268.1l0.6 1.7M123.2 114.9l2.7 -0.8M144.3 255.7l-0.1 -1.3M164.1 427.4l-2.6 -2.6M349.7 269.7l1.0 2.9M99.6 145.0l2.1 -1.2M125.9 221.5l2.2 -3.0M103.2 427.7l-1.4 -1.5M203.2 179.9l2.2 -2.4M430.9 220.4l-0.4 4.1M246.6 385.5l-2.7 -0.1M219.7 133.3l3.1 -1.0M211.9 304.8l-1.3 -2.2M192.9 236.5l0.7 -1.6M274.4 75.8l3.4 1.3M313.7 302.0l-1.5 1.9M174.3 99.5l2.3 -1.0M261.2 180.2l2.5 -0.6M297.1 97.5l2.5 -0.0M236.4 316.1l-2.2 -0.8M412.7 312.6l-0.7 2.3M348.0 198.3l1.7 1.9M278.1 231.4l1.0 0.4M307.2 327.2l-2.6 2.3M172.5 433.4l-2.5 -1.8M379.1 352.2l-3.4 2.9M356.1 229.4l-0.3 2.8M305.1 378.7l-3.5 0.0M88.9 93.0l4.9 -2.3M260.7 172.8l2.8 0.2M317.3 308.5l-1.5 1.7M224.4 185.4l2.2 -0.9M390.1 253.8l1.2 3.1M153.8 125.2l3.5 -1.8M232.4 274.9l-1.1 -1.4M301.9 121.2l3.4 3.3M230.7 151.5l2.8 -0.5M80.9 240.2l0.8 -1.7M404.2 275.2l1.2 3.7M425.3 161.8l2.7 2.2M104.8 106.5l3.1 -1.5M314.3 343.2l-1.5 2.3M122.7 283.7l-1.1 -1.7M270.9 430.4l-3.9 -0.3M432.1 244.3l0.1 1.3M323.7 387.9l-3.1 0.9M375.6 416.1l-3.4 1.0M197.0 337.8l-2.1 -1.1M375.7 338.9l-1.5 3.1M342.6 173.8l3.8 1.9M415.5 180.1l0.8 2.8M216.7 290.4l-1.3 -0.7M153.1 184.3l1.2 -2.0M147.4 174.8l1.5 -3.2M71.5 77.8l1.6 -1.4M242.3 398.2l-2.2 -1.2M412.2 98.9l1.8 2.1M394.6 366.0l-2.0 1.9M241.3 113.5l1.9 0.6M116.2 402.5l-4.0 -2.3M104.0 204.4l0.5 -1.2M299.9 316.1l-1.7 1.0M171.6 176.6l0.8 -0.7M274.8 165.6l1.7 1.4M257.0 195.5l2.0 1.3M134.1 79.5l2.2 -0.5M398.9 137.3l2.5 4.4M214.8 340.3l-2.1 -0.9M278.5 217.3l0.6 1.1M375.9 200.4l0.2 1.8M64.5 225.0l-1.2 -4.9M285.7 274.7l-0.1 1.1M325.9 409.5l-2.2 0.5M255.2 333.0l-1.5 0.3M145.8 306.3l-0.7 -3.0M65.5 209.6l1.6 -3.6M132.2 227.5l-0.3 -2.3M377.2 434.5l-2.4 3.0M215.2 239.6l1.0 -1.5M370.3 341.1l-1.5 3.1M398.7 348.5l-1.8 1.6M255.9 134.5l1.2 0.4M161.7 255.3l0.0 -1.1M172.0 379.3l-1.2 -0.8M337.4 424.9l-1.9 1.8M107.7 92.2l1.0 -2.2M305.8 352.3l-2.3 0.4M358.2 277.6l-0.3 2.9M238.0 115.1l3.4 0.3M262.9 176.3l2.4 0.0M318.9 281.6l0.2 2.7M161.5 308.8l-1.0 -2.5M401.3 375.0l-1.9 1.7M402.7 247.5l0.0 3.5M341.9 139.2l2.0 1.4M325.4 445.5l-3.8 1.1M185.8 326.3l-1.6 -2.7M160.7 325.9l-1.4 -2.5M109.9 322.4l-0.9 -2.4M130.6 310.0l-1.9 -2.4M214.8 160.5l1.6 -0.9M81.0 326.0l0.3 -3.8M270.7 177.3l1.8 1.3M305.1 241.5l0.8 2.2M340.4 390.7l-2.0 3.0M59.2 317.6l0.5 -5.0M142.2 215.6l1.7 -2.5M388.0 83.6l1.1 2.0M386.5 140.0l2.5 1.4M316.6 207.9l2.1 1.5M380.5 354.8l-1.2 4.5M73.4 192.4l-0.0 -2.9M386.1 92.6l2.7 1.4M71.8 96.5l1.1 -1.8M216.4 114.9l2.2 -1.2M176.4 201.1l2.7 -1.2M86.1 295.4l-0.0 -2.9M302.7 264.5l0.5 1.4M76.1 217.9l-0.7 -3.8M387.2 330.3l-0.4 4.6M241.6 339.0l-1.8 0.4M389.5 234.2l1.3 4.0M377.8 84.8l2.2 3.5M105.9 173.5l0.6 -2.1M159.3 96.8l1.6 -1.2M412.3 188.0l1.6 3.1M109.9 109.3l3.6 -2.3M114.4 348.4l-1.6 -2.1M419.0 129.0l3.3 3.9M421.2 412.5l-4.1 2.7M267.1 436.4l-1.6 -0.5M262.8 126.0l3.3 0.6M325.1 392.5l-2.4 2.0M379.6 368.7l-1.4 1.2M236.3 250.7l2.1 -0.6M186.1 308.3l-1.0 -1.8M215.8 406.0l-3.3 0.1M224.5 430.9l-2.7 0.1M150.0 359.1l-1.0 -1.3M314.3 151.2l1.2 0.1M224.7 177.5l2.1 0.1M137.7 365.0l-3.1 -1.8M391.7 124.0l1.8 4.1M126.0 352.6l-0.8 -2.8M330.2 166.3l3.2 2.2M284.3 111.1l2.6 -0.0M212.1 312.1l-1.3 -1.9M246.1 86.6l2.4 -0.3M117.9 197.3l0.2 -2.3M261.9 342.6l-1.7 0.9M187.4 200.7l1.4 -1.8M201.5 224.3l2.2 -1.0M99.6 173.1l0.4 -3.9M329.1 209.8l0.8 3.1M346.3 200.6l0.8 2.8M387.9 179.5l0.9 2.5M288.4 305.5l-1.6 0.9M248.4 120.2l3.6 0.1M171.8 176.4l2.1 -1.7M134.7 118.1l3.2 -0.9M371.1 208.3l-0.1 2.6M348.9 105.4l1.4 1.9M341.0 366.8l-1.2 0.4M128.4 107.7l3.8 -1.3M418.2 407.4l-2.8 5.0M428.6 439.9l-2.4 1.8M186.6 214.6l1.0 -1.3M102.9 80.5l1.9 -2.8M91.3 102.3l3.2 -3.4M257.4 401.4l-4.1 -0.4M413.2 310.9l-0.8 1.6M293.0 422.2l-2.7 0.9M416.4 280.0l-1.2 1.9M307.3 213.1l1.4 1.5M280.3 345.5l-2.2 -0.2M171.8 190.7l1.2 -2.0M65.0 266.6l0.6 -1.5M312.4 154.8l2.8 1.6M186.1 344.3l-2.1 -1.5M429.8 152.6l0.4 3.7M125.6 284.3l-0.3 -3.1M257.9 157.7l2.3 -0.1M333.1 196.6l1.3 0.7M399.2 89.3l1.2 2.5M389.5 340.8l-1.4 3.0M63.1 211.2l-0.3 -2.7M148.4 347.1l-2.6 -2.6M316.5 248.0l0.9 2.4M153.1 398.7l-2.1 -0.3M362.7 434.9l-2.5 1.3M127.6 231.1l1.0 -3.3M201.2 413.3l-2.9 -1.4M298.2 176.5l3.7 0.5M280.1 221.6l2.5 1.3M337.5 162.4l1.5 0.5M260.0 427.5l-4.1 0.6M79.5 329.7l-1.0 -4.4M120.4 141.2l1.3 -2.4M258.9 409.0l-2.2 -0.7M216.6 215.4l1.6 -1.4M333.7 110.6l4.7 1.7M196.1 259.9l0.4 -2.1M316.9 149.8l3.2 1.2M391.4 99.2l0.8 1.4M364.4 86.4l1.2 0.9M298.9 373.5l-1.7 2.0M205.5 373.4l-1.6 -0.8M235.2 413.5l-3.8 -0.1M406.8 317.5l-1.1 2.6M144.2 345.8l-1.0 -1.7M65.3 381.7l-2.8 -2.3M225.8 368.6l-2.9 0.5M267.0 135.9l4.1 -0.6M346.3 132.4l2.6 0.6M389.7 328.4l-0.8 1.6M231.9 149.9l3.0 0.5M407.1 291.6l-1.4 4.3M275.6 209.9l1.3 1.0M275.6 367.7l-2.0 1.1M407.6 415.1l-1.4 2.3M373.6 190.7l0.8 0.7M168.2 401.5l-2.6 -0.5M327.7 226.0l1.1 2.1M386.9 212.7l0.0 1.0M108.9 156.0l3.4 -3.7M363.3 285.9l-0.3 3.3M103.7 113.0l2.3 -0.9M429.8 154.7l1.9 3.1M334.4 272.1l-0.6 3.0M300.5 345.6l-3.1 1.1M394.5 164.4l1.0 2.3M383.4 378.7l-1.7 1.3M233.5 274.6l-1.0 -1.5M103.1 204.6l1.1 -3.3M288.9 269.4l-0.6 1.3M92.1 431.9l-2.1 -3.9M364.1 256.2l-0.2 3.1M317.2 85.2l1.6 1.7M354.2 259.8l0.4 2.3M67.0 416.8l-2.4 -2.8M413.9 352.5l-2.3 4.0M223.5 117.9l1.9 -0.5M353.5 414.3l-2.1 1.2M109.1 443.6l-1.1 -0.8M203.2 178.3l1.7 -0.6M82.7 301.4l0.6 -4.8M195.5 117.3l3.4 -1.8M344.6 143.0l2.6 1.4M83.3 199.6l2.5 -3.3M126.2 377.3l-0.8 -1.3M188.0 373.1l-3.1 -0.9M357.9 286.2l-0.9 2.2M218.6 287.7l-0.7 -1.3M132.3 298.3l-0.7 -1.9M210.0 436.0l-0.8 -0.5M206.0 351.2l-1.4 -1.5M76.9 260.6l-1.1 -4.4M430.9 150.7l0.2 1.8M282.6 230.4l1.7 1.8M315.9 243.4l-0.3 2.4M278.7 148.9l2.8 1.8M64.4 279.7l-1.1 -2.0M231.8 192.6l2.0 -0.2M65.9 109.1l5.0 -2.6M349.2 189.2l1.7 3.4M110.0 377.7l-1.1 -3.5M341.1 190.0l0.7 1.3M166.4 362.2l-1.5 -1.7M150.3 271.5l-1.0 -1.9M109.3 138.4l1.8 -0.8M348.4 288.5l-1.7 3.2M357.4 128.4l1.4 3.0M326.8 77.0l3.4 3.0M155.5 249.9l0.4 -2.4M124.3 338.2l-2.2 -1.5M335.0 188.7l1.1 2.2M416.3 425.7l-2.2 1.5M331.3 351.9l-1.2 2.6M176.6 152.1l2.1 -0.3M90.0 217.3l1.2 -3.7M233.1 128.9l3.5 0.7M71.2 166.9l1.3 -1.7M274.5 168.4l1.8 0.5M222.2 335.7l-2.8 0.2M65.0 139.5l2.1 -2.2M341.9 300.0l-1.6 2.2M282.2 104.0l2.6 1.0M232.1 221.6l2.0 -0.3M215.1 82.7l1.1 -0.6M379.8 350.6l-3.5 2.8M200.0 350.6l-2.3 -1.7M319.2 198.3l1.1 3.3M319.2 139.2l2.4 1.7M168.9 361.5l-2.4 -2.8M303.6 367.0l-3.3 1.0M191.6 395.2l-2.2 -1.0M154.9 369.0l-3.3 -1.6M171.3 217.4l1.1 -0.8M194.3 365.5l-1.9 -1.9M311.6 341.4l-2.5 0.6M374.9 262.9l-0.6 2.7M139.5 192.0l0.4 -0.8M272.4 427.1l-2.3 -0.2M105.7 420.7l-1.4 -1.7M418.5 110.1l1.3 3.4M226.8 446.3l-2.6 -0.9M281.3 332.2l-2.0 2.3M101.6 215.1l-0.1 -2.2M430.2 193.8l3.0 3.9M110.3 219.5l0.4 -2.2M347.4 290.6l-0.8 2.6M122.8 444.4l-2.1 -2.6M316.3 406.5l-1.8 1.8M147.1 126.4l3.5 -2.3M401.6 378.0l-1.5 1.7M297.9 203.0l1.4 2.8M64.8 360.6l-1.6 -1.9M217.5 412.3l-1.8 -1.0M217.5 380.0l-2.5 0.4M343.6 223.6l0.5 2.5M94.7 437.2l-2.4 -1.9M84.7 240.7l0.6 -3.7M168.8 364.5l-3.5 -2.2M215.1 110.9l2.2 -1.0M259.2 243.0l1.5 0.7M68.9 151.7l1.7 -1.7M95.5 328.4l-2.0 -2.0M320.0 309.0l-0.7 2.0M321.9 213.7l1.4 2.1M181.4 172.1l1.5 -0.7M90.7 288.5l0.2 -4.0M317.4 390.7l-1.9 1.7M330.8 155.3l1.3 2.0M141.2 92.4l2.2 -0.4M353.9 318.0l-1.1 2.5M212.9 85.4l1.3 -0.9M72.9 77.7l2.8 -1.8M307.8 224.2l0.3 2.0M181.6 175.7l1.0 -1.9M375.4 224.0l-0.2 2.9M422.8 253.5l0.5 4.0M316.8 424.0l-2.8 2.1M218.9 260.0l0.7 -1.4M291.9 236.8l1.1 2.3M129.0 157.9l2.0 -1.4M154.3 352.7l-2.0 -1.0M392.9 264.3l-0.6 3.7M114.6 293.5l0.5 -2.1M138.2 337.0l-1.7 -2.7M84.7 261.3l-0.5 -3.4M105.8 308.2l-0.1 -1.0M317.2 349.8l-2.2 2.4M337.4 206.3l0.8 2.1M227.8 138.7l1.9 -0.4M124.6 163.1l1.4 -4.4M317.6 179.3l1.0 1.5M198.3 352.5l-3.0 -0.4M301.8 445.4l-1.7 0.4M380.2 263.1l-0.9 2.4M237.7 143.7l2.0 0.7M174.5 184.9l2.0 -1.5M303.4 158.2l3.8 0.9M373.0 145.7l1.9 3.8M125.7 401.5l-1.0 -2.2M190.1 277.0l-0.7 -1.9M118.0 194.8l1.2 -1.6M107.5 230.7l0.3 -1.8M369.0 124.8l2.5 3.3M128.9 356.8l-0.9 -1.2M338.2 390.4l-2.3 0.6M380.8 390.0l-2.5 2.0M148.3 194.6l0.9 -0.6M187.6 111.2l1.1 -0.6M330.4 428.6l-1.9 0.8M75.3 95.8l2.0 -3.7M188.5 90.0l3.1 -1.2M290.8 408.0l-3.8 0.9M356.7 448.3l-2.5 0.2M296.2 421.6l-2.2 1.6M388.5 382.3l-2.2 2.1M307.3 223.6l1.1 1.0M425.3 378.0l-0.7 3.9M237.9 116.7l2.5 -1.1M146.9 338.4l-0.7 -3.5M363.6 247.8l-0.3 2.9M406.4 107.7l3.0 4.5M100.0 219.4l1.5 -2.0M125.0 443.6l-3.4 -2.1M164.2 87.4l1.4 -0.3M214.7 338.4l-1.8 -1.8M141.0 243.4l0.8 -2.8M407.5 355.8l-1.0 2.0M155.2 287.7l-0.7 -2.0M332.0 143.8l0.9 1.2M68.1 350.1l-1.4 -1.8M121.2 242.7l2.1 -3.8M372.3 339.1l-2.2 2.0M230.6 366.2l-3.0 0.1M209.3 116.4l3.2 -1.7M229.6 213.8l1.7 -0.3M419.8 165.8l2.3 2.1M107.0 187.0l0.8 -1.2M104.6 95.6l2.6 -4.2M185.1 120.3l4.0 -2.4M271.8 302.1l-1.1 1.5M93.6 386.2l-1.3 -1.9M100.5 328.8l-0.2 -3.8M85.2 285.5l0.3 -2.5M244.2 164.0l1.5 0.0M240.6 325.0l-2.0 -0.9M381.7 332.4l-1.4 4.3M242.7 410.7l-2.0 -0.2M241.4 129.3l2.8 1.1M179.6 277.1l0.5 -2.3M71.9 257.0l-0.5 -2.0M313.3 277.4l-0.5 0.9M282.8 399.2l-2.2 0.5M159.4 433.6l-1.7 -0.9M143.6 406.7l-3.8 -1.4M141.1 107.7l3.5 -2.1M415.5 181.0l2.5 3.5M255.7 132.3l4.0 -0.0M156.6 124.1l2.0 -0.4M304.5 428.3l-2.5 2.0M224.5 153.6l1.5 0.2M198.0 420.4l-1.9 -0.6M349.8 132.3l1.8 3.5M389.9 400.4l-2.0 4.8M136.8 377.8l-0.8 -1.6M197.1 446.0l-3.5 -1.9M301.1 444.4l-3.2 2.8M225.6 99.9l3.2 0.2M427.0 375.6l-1.1 0.8M321.5 130.7l1.0 0.6M128.8 182.3l2.4 -1.7M279.5 160.3l2.2 2.0M94.4 167.8l3.3 -2.4M286.6 356.8l-1.9 1.4M177.3 98.3l1.4 -0.2M290.1 271.4l-0.4 1.3M295.4 245.4l0.5 1.8M395.1 322.9l-1.0 0.9M340.5 393.3l-3.8 0.7M146.3 241.1l1.4 -1.9M363.3 215.7l0.4 1.0M353.3 442.6l-3.9 2.2M201.3 169.9l2.2 -1.8M301.8 254.6l1.0 2.4M430.2 137.7l0.7 1.5M316.5 217.4l2.9 2.0M417.5 348.0l-3.2 2.6M395.7 316.0l-0.3 3.6M274.1 328.6l-2.9 0.7M387.6 323.6l-0.9 2.4M430.1 405.5l-0.8 2.7M179.5 209.4l1.4 -0.8M410.0 224.6l1.1 2.4M318.6 211.5l0.5 1.6M269.0 285.0l-1.2 2.0M78.8 350.2l-1.1 -1.6M155.9 168.4l3.1 -2.8M69.3 385.1l-1.0 -3.9M389.9 259.7l0.9 2.8M356.5 133.0l2.1 0.9M378.3 428.9l-2.7 3.3M363.3 172.4l1.0 2.4M89.2 162.3l1.2 -3.0M205.4 421.0l-2.4 -1.4M113.4 129.8l1.3 -1.8M82.5 268.2l0.4 -1.2M162.5 415.6l-3.1 -1.0M68.9 367.0l-2.6 -2.9M106.9 320.0l-1.4 -3.1M233.2 176.6l1.8 0.6M265.0 217.1l1.6 1.8M272.5 347.7l-2.8 0.1M101.3 100.6l4.0 -1.1M362.7 412.7l-2.1 1.5M172.0 402.2l-2.2 -2.1M346.0 252.3l0.4 1.9M260.5 288.0l-0.9 0.8M102.3 416.1l-4.8 -2.6M166.0 82.0l3.7 -2.7M360.8 135.7l2.8 2.9M417.9 146.4l1.4 4.4M203.3 106.6l3.9 -2.7M105.8 347.0l-0.6 -3.4M421.4 289.5l-2.0 4.0M187.1 294.8l-0.8 -2.0M425.9 358.4l-0.7 2.8M172.9 197.8l1.6 -1.7M183.3 332.4l-1.4 -0.6"/>
<path stroke="#1c1c1c" stroke-width="2.0" d="M276.2 165.0l2.0 0.8M300.0 446.6l-3.2 -0.2M202.3 270.4l-0.0 -2.5M147.1 128.5l1.5 -2.6M226.8 148.0l1.9 0.4M400.5 393.9l-1.4 2.1M260.0 331.9l-2.7 -0.5M413.5 258.2l-0.6 1.5M242.2 201.2l2.9 1.0M130.8 160.2l1.7 -1.4M220.0 260.4l-0.2 -1.5M332.2 163.0l3.6 1.5M381.3 222.7l1.5 2.6M423.1 123.4l1.1 3.7M210.3 261.7l-0.6 -1.8M176.9 95.3l4.4 -0.8M330.2 83.1l3.0 0.5M353.9 128.9l2.2 3.9M282.5 362.5l-2.1 1.7M354.1 369.9l-1.1 1.8M92.8 382.3l-1.4 -1.0M338.3 414.1l-2.2 0.6M239.7 229.6l1.4 0.1M82.2 249.8l0.8 -1.8M305.8 78.7l1.9 0.9M228.3 152.7l0.9 0.1M134.5 205.4l0.4 -2.6M381.4 423.0l-1.6 3.4M184.3 205.4l0.7 -2.2M104.5 195.9l1.3 -2.3M72.6 131.0l2.0 -2.8M153.9 353.2l-2.1 -1.1M102.7 254.0l0.7 -2.9M149.2 197.9l0.3 -1.6M236.0 230.4l2.4 -0.4M275.0 352.7l-2.7 1.1M406.1 311.8l-0.6 3.3M385.7 305.7l0.2 3.5M94.1 89.4l3.5 -3.3M69.9 135.9l0.5 -2.0M375.2 266.5l-0.1 1.6M408.7 375.3l-1.0 2.0M300.9 250.6l-0.1 1.9M375.6 412.7l-2.1 3.7M237.5 371.5l-3.7 0.4M412.4 296.6l-0.8 1.4M405.4 275.3l0.0 1.6M106.2 282.5l-0.3 -2.0M423.7 340.8l-1.8 4.2M292.6 330.1l-1.5 0.8M216.4 332.6l-2.7 -0.8M135.0 237.6l0.6 -1.8M156.3 148.8l2.2 -1.1M366.9 75.9l2.9 2.6M352.2 236.4l0.0 2.9M424.0 392.9l-2.2 3.7M364.3 75.1l1.7 1.3M291.3 250.7l-0.1 2.1M193.1 237.9l1.9 -1.6M203.3 448.6l-1.9 -0.3M99.0 93.1l2.2 -4.8M105.6 322.4l-0.1 -2.6M254.6 144.0l2.1 -0.7M232.4 313.0l-2.0 -0.7M176.2 243.5l0.5 -2.6M315.3 131.9l2.1 1.3M259.5 327.2l-1.8 1.0M425.8 436.6l-3.1 1.9M381.7 263.1l-0.5 2.5M241.9 239.1l1.0 -0.6M200.4 442.8l-2.2 -1.7M295.5 349.5l-1.9 1.1M207.8 206.4l1.3 -1.8M363.7 101.6l3.9 2.5M332.2 332.8l-2.9 2.2M91.0 323.2l-2.3 -2.6M192.8 308.1l-1.7 -1.0M382.5 279.9l-0.6 1.5M304.7 100.3l2.7 0.9M405.9 262.6l0.3 1.4M371.6 120.2l2.2 3.0M86.5 278.0l1.2 -4.2M399.6 102.2l1.6 1.2M321.0 327.4l-0.8 1.1M260.4 265.0l-0.9 1.9M241.0 220.4l1.3 -0.5M169.9 269.3l-0.9 -1.5M265.1 263.0l-0.1 1.9M158.3 316.0l-1.3 -1.6M287.6 421.9l-2.8 0.6M230.9 150.7l2.5 -1.2M133.7 174.2l2.7 -2.2M213.5 158.7l2.0 -0.1M400.4 134.1l1.7 1.1M404.0 312.6l-1.3 1.4M236.4 430.7l-3.1 -0.1M141.9 312.3l-0.8 -2.5M406.0 147.2l1.6 3.2M289.7 158.7l1.5 1.3M339.3 100.1l1.7 0.3M195.5 193.9l2.4 -1.2M134.5 251.5l0.9 -1.5M87.4 428.1l-2.4 -2.5M171.5 294.1l-1.5 -2.6M213.1 234.7l0.8 -1.5M429.2 371.6l-2.6 2.5M269.3 391.4l-3.2 1.4M130.5 397.6l-2.0 -1.8M251.6 321.3l-1.4 0.4M264.6 348.2l-2.4 -0.6M311.2 423.7l-3.1 0.2M368.4 161.5l1.0 2.8M64.3 287.4l0.6 -2.0M416.4 208.6l1.1 2.3M134.1 110.8l1.7 -2.7M150.3 351.1l-2.1 -1.3M107.7 209.0l1.7 -3.2M172.6 260.3l-0.2 -1.3M371.7 426.0l-4.7 2.0M166.8 393.8l-4.1 -0.6M245.4 103.8l2.1 0.9M421.6 300.8l-1.3 1.9M344.8 234.9l0.2 1.3M325.6 92.7l2.8 0.4M420.4 397.7l-3.3 2.3M73.5 95.6l0.9 -2.5M348.1 158.0l2.6 1.3M379.1 167.6l1.4 2.2M291.3 288.5l-1.8 1.8M353.2 140.3l2.2 3.8M67.4 248.2l-0.5 -4.1M291.6 273.0l0.2 1.6M136.2 145.9l3.8 -2.3M87.4 151.2l1.8 -2.5M130.4 331.0l-2.8 -2.6M356.3 166.6l2.6 1.3M419.1 359.3l-2.4 3.0M96.3 370.2l-2.2 -1.5M345.1 225.5l0.8 1.6M371.5 299.4l-1.6 2.1M170.8 123.7l1.8 -2.3M198.0 200.9l1.6 -1.8M424.1 257.0l0.3 4.2M385.1 85.3l2.5 5.2M366.9 446.7l-1.1 0.6M362.4 186.6l2.8 1.8M168.4 142.7l3.5 -2.7M114.7 219.2l1.0 -2.4M214.2 424.3l-4.2 -1.4M426.1 102.6l3.5 1.9M257.1 420.5l-2.4 0.7M290.0 396.5l-2.1 0.7M261.8 80.6l3.2 -0.3M108.4 305.1l-0.1 -1.6M232.8 356.8l-2.5 0.7M188.0 132.9l2.1 -0.2M113.4 440.4l-3.2 -4.7M387.2 325.3l-2.5 2.4M149.1 223.3l0.3 -2.7M240.0 76.7l4.1 0.7M271.1 271.9l-0.8 1.9M174.5 184.4l2.5 -1.8M318.3 431.1l-2.9 0.7M150.4 221.7l1.4 -1.6M389.2 80.4l2.6 3.9M395.7 295.2l-0.4 1.0M286.5 195.3l2.5 1.6M386.1 326.0l-2.9 3.2M389.5 105.8l1.4 3.2M174.2 299.3l-0.1 -3.0M407.0 181.3l0.9 4.0M279.2 180.0l2.8 0.9M335.5 253.0l-0.4 2.5M160.4 318.4l-0.7 -2.9M117.5 188.4l0.9 -1.0M248.7 306.9l-1.4 0.2M122.1 157.8l2.0 -2.4M334.1 352.3l-3.6 1.6M366.5 365.1l-1.8 3.7M118.2 411.6l-3.1 -0.9M82.4 176.3l0.2 -1.9M193.5 208.1l2.5 -2.3M128.2 117.3l2.9 -2.9M134.8 174.2l2.0 -1.6M401.0 444.7l-3.1 2.5M311.5 78.4l4.8 1.5M297.2 177.0l1.8 1.2M89.2 277.9l-0.2 -1.9M202.3 204.4l1.4 -0.7M292.7 394.4l-1.1 0.1M324.0 296.2l-1.8 1.7M77.1 166.0l0.9 -1.0M210.9 276.3l-0.4 -1.4M365.7 108.5l0.8 1.5M428.7 145.2l3.1 4.3M124.3 186.6l0.7 -2.4M236.9 427.7l-2.9 0.7M136.7 421.6l-3.2 -3.1M98.6 77.3l4.7 -1.3M74.4 288.2l0.5 -1.8M225.5 229.7l1.2 -0.5M114.3 182.4l1.9 -1.6M202.1 427.3l-3.4 -2.4M273.9 125.9l3.7 2.5M216.9 117.0l2.1 -0.0M228.4 447.2l-3.9 0.2M143.1 259.4l0.6 -3.2M130.8 250.2l-0.8 -2.5M135.8 319.4l-0.7 -3.5M420.5 90.1l2.3 1.0M227.3 126.2l3.4 -1.0M354.3 417.4l-2.3 0.9M343.4 280.5l-0.9 1.3M175.2 276.2l0.1 -2.2M353.1 334.0l-2.7 1.5M171.5 222.9l1.6 -2.1M225.8 404.1l-3.0 -1.7M212.9 92.3l4.1 -1.0M101.0 410.0l-1.9 -4.1M378.8 337.3l-2.1 1.9M168.1 101.9l1.9 -2.3M101.5 88.9l0.7 -1.1M409.5 359.3l-0.6 2.2M93.9 182.2l2.2 -1.6M241.9 246.5l2.1 -0.5M281.7 100.1l2.5 -0.0M100.1 244.3l0.0 -4.5M399.7 95.8l1.5 2.7M427.1 111.5l3.1 3.1M412.5 278.3l-1.0 4.7M87.0 278.6l-0.3 -3.2M114.2 293.8l-0.9 -2.6M357.5 165.1l2.8 1.7M424.6 148.8l2.4 4.3M71.7 443.6l-3.3 -2.0M330.3 247.2l1.4 2.2M196.7 277.4l-1.3 -1.5M255.4 210.2l2.1 -0.2M395.1 355.0l-1.6 2.8M297.6 349.0l-3.4 0.3M183.1 304.5l-1.4 -2.4M384.8 265.3l1.4 3.3M349.2 125.2l1.9 3.0M282.0 183.4l2.5 0.2M69.6 434.6l-2.9 -3.4M213.1 431.0l-1.6 -0.8M198.8 191.4l2.6 -1.4M78.5 86.2l2.3 -1.5M129.9 402.4l-2.5 -2.9M139.2 192.5l0.9 -4.0M164.5 284.5l-0.8 -2.3M106.2 284.6l0.3 -2.9M398.5 156.5l2.7 2.0M329.2 269.3l-0.7 1.4M327.8 154.7l1.8 0.5M409.7 327.5l-0.7 0.9M276.5 201.8l1.8 2.1M105.8 287.1l-1.5 -2.5M115.8 190.6l0.4 -3.5M102.9 198.8l-0.1 -1.7M290.8 153.1l3.4 2.0M197.1 243.9l0.3 -1.3M235.5 199.2l2.3 -0.3M183.8 354.2l-2.3 -2.5M426.2 262.0l-0.9 3.9M132.7 367.2l-1.4 -2.3M305.6 156.7l3.0 1.5M94.2 312.9l-0.1 -2.2M401.7 404.1l-2.1 4.1M112.4 100.8l1.7 -2.7M393.1 376.1l-1.0 1.3M134.7 214.4l0.3 -2.4M83.5 176.8l2.8 -4.4M128.5 423.0l-3.1 -2.9M243.1 275.1l-1.2 0.1M313.0 436.9l-5.2 0.3M142.0 98.3l1.6 -1.6M351.9 119.3l2.6 3.4M349.8 156.6l1.5 3.2M127.4 104.1l1.2 -0.4M330.3 157.2l1.0 2.2M156.3 401.0l-3.2 -2.8M143.3 392.2l-1.6 -2.6M170.1 327.5l-1.7 -1.6M118.8 424.5l-3.0 -1.9M368.6 345.3l-2.7 2.7M199.1 181.6l2.3 -0.3M132.3 259.3l-0.5 -1.7M106.1 187.1l0.7 -1.0M271.2 93.2l3.8 0.5M117.0 227.0l-0.1 -4.3M225.5 167.3l3.8 -0.0M146.7 175.3l1.8 -3.4M80.5 370.4l-1.0 -0.7M323.7 291.1l-0.0 1.2M174.2 109.3l3.3 -1.5M192.0 308.3l-1.0 -2.6M234.6 346.3l-2.0 0.5M297.2 263.3l0.2 2.0M182.0 414.5l-3.1 -2.7M133.9 332.6l-1.1 -1.6M73.2 116.4l2.9 -3.2M138.1 329.5l-1.0 -0.8M375.8 424.3l-1.2 1.6M182.3 126.6l3.8 -0.3M155.1 299.4l-0.1 -2.3M383.5 284.8l-0.2 2.7M200.8 431.1l-1.6 -0.3M397.6 146.8l1.4 2.9M227.2 280.9l-2.0 -1.2M304.6 378.6l-1.3 0.9M172.6 80.2l1.7 -0.7M208.3 334.6l-1.8 -1.9M150.9 414.9l-2.4 -1.1M206.5 384.9l-2.0 0.0M403.0 120.4l3.0 1.8M359.6 391.1l-1.3 2.1M190.9 268.1l-1.2 -2.1M314.7 147.8l1.9 1.8M353.6 411.7l-1.1 0.5M213.3 323.6l-2.4 -1.0M284.5 422.7l-1.9 0.5M69.9 116.1l1.9 -2.1M402.6 178.8l2.0 3.4M116.2 226.4l1.0 -2.0M383.5 432.4l-2.2 1.7M190.3 192.9l2.3 -1.8M363.5 404.7l-4.6 1.1M359.2 361.1l-1.8 1.4M163.8 373.1l-1.1 -1.3M233.3 441.1l-1.4 -0.6M276.8 218.1l1.6 1.8M403.6 394.6l-2.1 2.6M426.0 317.4l0.3 3.2M70.5 270.0l1.5 -4.7M409.0 354.3l-1.3 1.5M90.7 251.4l-0.6 -2.6M94.5 187.9l1.4 -1.9M126.3 343.6l-2.1 -2.4M381.0 339.1l-0.5 0.7M153.5 249.1l-0.2 -1.1M88.9 229.1l-0.6 -2.7M377.4 223.3l2.7 3.4M382.9 424.0l-1.3 2.5M295.4 298.7l-1.2 2.3M92.4 407.6l-2.7 -3.9M179.5 434.7l-3.6 0.0M235.5 184.2l1.6 0.1M343.9 107.0l2.1 3.2M167.3 379.4l-1.9 -0.6M402.1 131.1l2.8 2.5M307.2 130.2l3.1 1.2M352.1 284.6l-0.1 2.5M111.8 230.1l0.2 -1.1M394.6 419.3l-3.2 4.1M344.5 102.4l1.8 1.1M158.3 393.6l-2.9 -1.0M174.1 363.1l-1.1 -1.1M159.8 86.6l2.8 -0.5M318.2 139.7l1.9 2.9M161.9 342.3l-1.2 -2.7M203.0 192.6l1.6 -1.4M315.6 366.5l-2.0 2.3M253.0 240.0l1.5 0.1M176.4 139.9l0.9 -0.4M192.8 237.7l1.1 -2.1M364.8 343.3l-3.0 2.9M114.6 441.8l-3.2 -2.2M257.5 393.2l-2.9 1.6M199.6 117.3l2.8 -0.1M393.4 346.6l-0.6 2.1M320.9 173.4l1.7 1.1M203.1 253.0l-0.3 -2.0M392.5 128.6l3.9 3.2M139.4 407.9l-3.0 -0.9M212.9 163.5l2.1 -2.0M390.2 307.8l0.2 2.1M292.9 358.1l-1.6 1.9M276.1 260.5l-0.4 1.6M243.6 399.4l-2.1 0.9M349.3 334.4l-1.9 2.4M336.3 409.9l-1.6 1.6M402.1 327.9l-2.2 2.1M218.9 150.8l1.9 -0.2M329.6 333.3l-0.6 1.3M60.4 286.5l-1.3 -4.4M268.0 189.8l1.7 -0.1M120.1 315.2l-0.6 -2.0M311.9 218.6l1.4 2.1M396.0 296.2l-0.9 3.5M132.9 313.4l-0.8 -0.7M225.2 324.6l-1.7 -1.4M338.5 113.8l2.1 3.4M382.8 224.5l2.2 2.7M390.0 368.7l-1.3 3.8M303.9 272.7l-0.1 2.3M372.5 354.6l-2.6 1.6M143.9 329.1l-1.2 -2.4M100.9 186.2l1.1 -3.3M110.4 342.2l-0.5 -2.6M254.3 194.1l1.7 0.2M230.0 319.9l-2.0 -0.0M269.9 235.2l2.0 1.3M81.8 241.6l-0.2 -4.8M432.5 182.3l-0.0 1.4M265.0 340.5l-1.7 0.5M340.4 241.0l0.5 1.2M314.8 172.9l3.4 0.8M364.5 256.2l-1.0 2.7M77.8 386.1l-1.5 -3.1M204.6 368.1l-3.2 -0.0M126.5 360.3l-1.9 -1.7M257.3 189.4l2.3 0.5M85.4 339.2l-0.9 -2.5M386.3 150.3l1.6 1.0M214.5 171.8l1.7 -1.4M201.6 190.6l1.4 -2.1M226.1 346.1l-1.5 -0.4M356.5 191.4l2.4 2.1M83.1 230.3l-0.1 -1.2M133.6 161.0l2.2 -1.3M304.2 141.6l1.7 0.3M114.4 144.8l1.4 -2.6M78.8 86.0l3.2 -3.8M310.7 388.4l-3.0 0.3M324.5 129.0l1.3 1.4M75.3 310.3l-0.8 -1.9M317.9 101.0l2.5 0.4M275.7 170.0l2.6 0.6M146.1 264.3l0.0 -2.8M110.1 402.5l-0.4 -1.0M78.3 98.1l0.8 -0.9M212.0 136.5l2.7 -0.0M142.2 111.9l3.0 -1.7M223.1 232.8l2.0 -1.1M415.3 381.9l-2.9 2.6M408.3 149.8l2.8 2.8M315.4 280.9l-1.1 1.4M385.9 88.2l2.0 2.5M317.9 246.1l0.4 1.7M277.1 148.8l1.9 0.7M295.8 389.0l-1.3 0.0M411.2 374.2l-2.0 1.2M153.4 281.1l-1.2 -2.0M85.0 337.7l-1.5 -3.7M231.3 278.8l-0.7 -1.2M77.8 176.7l0.2 -2.7M106.2 212.5l0.5 -2.2M213.2 367.3l-2.2 -0.0M175.7 102.0l2.1 -1.8M407.8 99.1l3.4 3.3M416.3 161.4l0.2 2.1M156.8 311.6l-0.2 -2.9M313.5 384.3l-1.5 1.6M72.5 367.1l-0.8 -2.0M165.6 176.2l1.3 -2.0M328.6 445.5l-3.7 2.0M62.9 325.2l0.1 -4.4M194.2 271.0l-0.3 -1.8M218.5 135.8l2.4 -1.4M64.4 204.7l1.2 -1.5M173.2 122.2l1.9 -0.8M330.6 318.5l-0.4 1.9M214.7 369.3l-2.4 -0.5M417.9 230.4l1.1 1.7M153.2 171.5l1.8 -1.3M303.6 138.4l2.4 1.8M79.2 210.9l1.0 -2.7M289.7 281.6l-0.9 2.1M193.6 84.5l4.2 -0.9M75.1 443.4l-3.0 -5.1M323.3 315.3l-1.1 2.4M228.8 322.7l-2.1 -1.0M423.7 82.2l1.2 3.2M166.0 292.3l-0.4 -2.2M347.4 435.1l-1.0 1.4M269.5 239.9l1.4 1.5M297.6 158.2l3.1 1.2M181.6 113.9l2.7 -1.6M155.7 234.7l0.4 -1.9M138.1 414.2l-2.8 -3.0M310.9 392.7l-0.8 0.7M344.7 171.7l1.5 2.8M431.8 395.1l-3.5 3.3M296.4 99.4l2.4 0.7M397.8 416.7l-2.7 3.6M297.7 370.3l-2.5 1.9M89.4 418.8l-0.8 -1.0M214.5 113.9l3.3 -1.8M326.3 118.0l2.6 1.2M384.5 424.9l-2.8 3.1M195.4 154.4l3.6 -0.0M409.7 227.7l1.1 3.0M143.4 148.8l1.6 -2.9M259.1 255.8l0.8 1.0M365.9 241.1l-0.2 2.3M253.8 374.0l-2.2 1.0M116.8 402.7l-1.1 -1.8M261.3 154.0l3.1 0.4M351.7 338.0l-2.0 2.3M107.9 413.8l-3.1 -1.4M365.3 392.7l-1.5 0.5M308.0 304.2l-1.3 1.9M245.0 382.0l-1.6 -0.4M421.3 180.0l1.0 2.1M167.4 441.7l-1.0 -0.1M199.7 274.1l-0.1 -2.4M277.6 243.6l0.4 1.2M111.5 352.4l-0.5 -0.9M276.0 404.4l-2.5 0.3M83.4 209.5l1.0 -3.5M303.1 150.8l1.7 1.4M99.0 417.4l-2.5 -2.1M386.8 181.5l2.0 2.4M290.0 331.8l-1.6 1.5M404.6 137.3l1.2 1.7M430.6 351.5l-2.3 1.9M250.0 208.4l2.2 -0.8M200.8 301.3l-1.9 -1.4M398.2 186.7l1.9 2.9M251.2 432.7l-3.1 -0.5M106.7 265.3l-1.6 -3.7M258.1 234.3l1.1 0.3M223.3 443.8l-2.1 -0.8M170.3 417.6l-3.3 -1.8M303.9 406.9l-2.6 2.4M208.2 379.2l-2.0 0.2M425.0 327.1l-1.1 4.9M109.5 160.1l2.2 -1.7M248.5 441.3l-3.5 0.3M61.0 117.8l0.4 -1.0M261.0 387.8l-3.4 -0.6M194.2 196.7l1.5 -1.2M226.6 294.8l-2.3 -0.7M290.8 144.2l1.5 0.5M149.0 237.1l1.3 -3.0M131.8 142.4l2.4 -3.0M343.5 212.7l1.5 1.9M226.2 398.3l-1.5 0.3M234.0 436.3l-3.3 0.1M243.8 91.3l2.2 0.3"/>
<path stroke="#171717" stroke-width="2.0" d="M329.3 132.6l2.7 2.2M237.8 160.5l2.6 0.3M110.1 330.2l-1.5 -1.3M134.2 94.6l2.2 -1.4M343.5 414.7l-2.8 3.3M244.8 276.1l-1.9 -0.7M125.0 359.5l-2.9 -2.6M404.6 125.5l3.0 2.1M270.4 84.1l2.2 0.7M341.2 254.8l-1.3 3.2M320.5 82.8l1.5 0.5M294.5 306.3l-1.1 1.3M389.2 444.3l-3.1 1.2M74.5 308.5l-0.9 -2.4M200.5 278.1l-1.7 -1.9M292.8 174.2l1.0 0.7M77.8 111.1l2.2 -3.8M214.4 276.1l-0.2 -1.5M70.7 238.6l0.2 -4.7M229.5 295.4l-1.8 -0.9M173.1 235.4l1.4 -2.0M56.8 101.5l4.9 -3.3M170.0 372.6l-1.5 -2.5M373.9 262.1l0.2 1.6M140.5 420.0l-1.5 -1.8M262.8 75.0l4.6 0.3M85.9 222.7l0.8 -3.7M361.7 263.9l1.0 2.4M165.2 186.1l1.1 -1.4M239.2 90.5l2.5 0.0M382.4 201.7l1.1 1.5M221.6 419.3l-2.2 -1.0M383.5 327.0l-2.6 2.1M229.5 264.7l0.2 -1.6M82.8 266.4l-0.6 -2.3M149.6 250.5l0.2 -2.1M382.7 264.5l0.7 1.8M95.6 120.6l1.5 -3.8M125.3 353.9l-2.3 -1.5M308.7 333.6l-1.2 1.3M310.3 300.4l-2.4 2.1M366.9 121.7l2.2 3.7M329.9 336.0l-1.7 2.5M145.9 158.2l1.0 -1.9M249.0 202.9l1.5 0.6M275.9 167.3l2.3 -0.2M308.8 282.9l0.0 2.6M213.9 235.3l0.7 -1.4M404.0 348.6l-0.7 0.9M332.2 168.6l2.0 1.6M277.3 100.4l2.1 0.0M153.2 97.2l3.7 -1.7M415.6 329.1l-0.2 2.3M263.7 348.8l-1.7 0.2M432.2 271.9l1.6 4.0M74.7 318.3l-0.7 -4.2M156.8 255.1l1.2 -2.1M313.3 430.5l-4.3 0.6M173.9 100.2l1.8 -1.4M350.1 205.5l0.4 1.6M326.6 311.6l-0.3 2.1M289.6 303.0l-1.8 1.8M430.8 224.8l0.9 1.5M77.8 333.7l-0.9 -3.0M368.8 95.7l1.8 0.9M289.8 118.5l3.3 0.2M109.0 177.2l3.2 -2.2M229.0 245.9l0.8 -0.9M257.1 136.8l2.9 -0.6M159.1 398.4l-1.8 -1.3M280.0 229.9l0.8 2.0M266.0 168.6l3.0 0.4M214.2 112.2l2.3 -0.4M191.3 376.7l-1.8 -1.0M149.8 279.4l-1.4 -3.5M416.7 440.6l-3.3 2.2M201.5 105.5l0.9 -0.7M154.7 363.2l-1.8 -1.2M429.2 165.4l0.5 4.9M390.9 409.1l-1.8 2.3M425.7 375.0l-0.4 2.9M267.5 389.8l-3.2 -0.5M221.9 339.1l-1.6 -0.4M299.1 234.2l0.6 2.0M409.1 383.4l-1.1 4.4M247.6 280.5l-1.6 -0.3M200.4 83.6l2.0 -0.6M321.2 91.6l1.4 1.3M138.7 165.3l3.4 -1.5M81.1 218.1l1.2 -2.8M122.3 261.9l-0.6 -1.3M337.7 261.2l-0.9 2.0M125.3 354.7l-2.3 -2.3M260.0 222.8l1.9 0.1M391.0 156.8l2.1 2.3M112.9 109.2l3.0 -1.4M241.0 206.4l2.2 -1.0M296.1 411.8l-1.7 1.2M194.1 155.2l3.5 -0.2M281.6 332.2l-2.1 2.0M136.2 357.2l-1.9 -2.8M404.9 330.5l-2.8 3.4M136.5 285.3l-1.7 -3.1M181.3 408.1l-2.6 -1.0M144.6 285.6l0.4 -2.7M240.2 120.9l3.1 -0.1M212.3 302.0l-1.2 -1.3M283.4 146.4l2.9 0.0M219.1 191.3l1.9 -1.6M265.0 193.5l2.5 -0.1M367.6 418.5l-2.5 0.8M250.0 172.1l1.6 0.7M171.2 261.4l0.1 -2.0M211.5 328.8l-1.7 -0.9M299.3 415.5l-2.9 0.8M129.2 349.3l-2.1 -2.7M142.8 379.1l-1.9 -3.4M376.9 443.6l-3.2 2.4M217.5 153.4l1.5 -0.7M297.2 207.1l1.5 1.5M184.6 377.0l-1.3 -1.1M161.5 416.5l-1.7 -1.7M239.5 154.2l2.5 0.2M145.6 339.4l-1.6 -1.4M134.5 380.7l-3.5 -2.1M235.3 123.1l2.4 -0.5M394.1 193.2l1.7 3.1M165.1 332.6l-1.6 -1.5M195.7 158.9l3.2 -0.5M69.6 243.1l0.3 -1.6M424.3 195.9l0.6 3.0M63.5 387.3l-0.6 -1.6M292.9 127.8l1.1 -0.1M214.2 104.3l2.4 0.5M142.8 221.0l0.7 -2.5M245.3 374.3l-2.1 -0.2M204.4 344.2l-3.2 -1.0M375.9 355.0l-2.0 3.0M225.2 390.7l-3.9 0.9M223.8 356.4l-1.5 -0.8M328.7 327.3l-1.9 1.4M251.8 93.6l3.4 -1.3M365.9 356.0l-1.6 4.0M392.9 159.1l0.8 4.2M201.0 128.2l2.4 -0.8M336.0 338.5l-3.3 2.2M365.2 120.0l1.2 0.9M75.0 211.9l0.3 -2.5M247.0 120.8l3.7 1.1M105.1 263.1l0.1 -2.1M253.8 198.8l2.0 1.2M258.6 193.8l1.3 -0.0M325.9 189.6l1.9 1.9M209.6 271.1l-0.2 -2.4M269.1 350.4l-1.8 0.8M307.8 113.7l3.1 2.3M78.6 149.5l1.5 -1.7M210.6 192.1l1.1 -0.8M148.7 253.7l-0.5 -2.3M145.8 408.3l-2.7 -3.6M280.3 90.3l3.6 1.5M281.0 266.0l-0.4 2.0M290.1 338.6l-1.9 1.8M340.9 73.9l1.2 1.6M285.4 150.6l3.0 0.2M110.6 229.5l-0.6 -3.0M298.7 373.9l-1.6 1.0M293.0 429.7l-2.6 2.1M266.9 442.3l-3.3 -0.6M138.6 194.8l1.1 -2.9M77.5 169.3l0.6 -2.4M394.9 173.1l3.0 2.7M242.3 101.4l1.1 -0.2M364.4 262.4l-0.6 2.3M368.7 248.5l-0.4 1.4M314.5 172.7l1.4 2.5M88.6 418.5l-3.8 -2.2M128.4 443.7l-3.0 -3.7M273.2 388.8l-2.5 0.7M163.8 210.1l1.3 -1.3M253.6 182.7l2.1 0.4M432.4 367.6l-0.9 4.1M224.5 292.8l-1.6 -0.6M303.4 339.5l-2.8 0.7M116.9 330.5l-0.8 -3.6M413.0 97.1l1.3 3.0M84.7 449.2l-1.0 -0.6M241.7 301.7l-1.3 0.4M431.7 367.5l-1.2 4.5M279.2 445.0l-3.2 -0.9M263.7 115.2l2.9 -0.5M92.4 272.7l-0.8 -2.2M143.7 186.8l1.2 -3.4M179.4 216.5l0.6 -1.3M274.1 110.2l1.8 -0.1M116.7 445.4l-0.9 -1.4M132.4 321.6l-1.1 -1.9M197.1 282.1l-0.7 -1.2M354.4 352.5l-2.1 2.2M388.3 331.4l-2.4 2.2M89.6 383.1l-1.5 -0.8M161.2 253.2l-0.2 -1.0M421.0 167.8l0.5 2.7M193.5 213.3l0.9 -2.9M406.2 381.1l-0.9 1.8M147.1 279.7l0.8 -3.5M158.7 151.3l2.2 -1.6M261.3 299.3l-2.4 -0.1M191.6 83.3l2.2 -0.4M118.4 293.3l0.1 -1.6M401.5 192.5l2.4 3.6M124.8 240.5l-0.0 -3.2M129.9 424.3l-2.5 -0.8M186.3 160.5l3.0 -1.5M162.3 114.5l2.8 -2.6M131.3 354.2l-1.9 -2.3M367.5 266.0l0.5 2.5M183.0 230.3l1.7 -2.3M387.0 221.3l0.1 2.3M143.0 126.0l2.3 -1.7M311.8 345.3l-1.1 0.8M264.3 303.5l-0.9 0.7M142.8 436.0l-3.1 -0.6M198.8 259.1l-0.1 -2.0M421.9 302.0l0.1 2.1M191.3 195.3l1.1 -1.6M358.1 394.6l-2.1 1.2M360.1 303.4l0.1 3.5M160.8 253.9l0.3 -1.5M114.7 340.9l-1.8 -1.9M300.1 96.2l2.1 1.9M176.7 269.0l0.7 -2.4M355.3 216.0l2.4 2.2M151.0 143.3l2.8 -2.1M353.8 292.6l-1.5 2.5M262.8 87.7l3.8 2.1M213.4 219.5l1.3 -2.1M203.8 391.9l-1.8 -1.5M230.3 418.9l-3.2 -1.8M264.0 428.4l-2.2 0.0M155.3 97.3l3.2 -1.0M270.5 154.5l1.6 1.2M220.9 222.5l1.8 -1.9M63.7 367.9l-0.2 -1.8M203.1 385.3l-2.3 -0.0M130.6 411.6l-2.0 -0.7M91.2 179.1l1.8 -1.5M376.5 326.8l-1.7 3.3M429.4 195.2l-0.3 3.0M413.5 120.4l1.0 3.3M426.2 106.9l1.7 4.0M407.8 240.3l-0.6 2.4M127.0 134.4l3.5 -1.1M59.6 95.9l1.8 -1.6M68.7 79.3l4.3 -3.6M392.7 104.0l2.6 3.3M244.5 350.2l-2.4 0.3M148.5 352.2l-1.7 -1.1M289.7 415.6l-3.3 0.7M325.2 140.3l2.6 2.6M81.3 177.7l1.7 -1.9M93.6 419.8l-2.1 -1.0M64.0 208.3l0.3 -4.5M103.8 270.9l-1.0 -2.8M236.5 155.8l2.5 0.3M66.5 98.4l3.2 -1.9M371.2 79.9l1.5 0.7M402.5 439.8l-3.6 1.7M222.1 129.0l3.9 1.1M324.1 218.7l0.6 2.7M304.4 312.3l-0.9 2.2M148.1 322.8l-0.6 -1.6M401.2 179.9l1.2 1.7M402.2 136.2l4.6 3.0M206.4 181.6l1.9 -0.2M382.3 307.7l-1.8 3.6M284.1 352.6l-2.9 0.3M237.6 350.3l-3.3 -0.2M403.3 289.7l-0.4 2.5M344.1 74.7l2.7 3.1M386.1 400.6l-3.5 3.2M229.5 183.4l2.0 -0.3M283.4 134.0l3.0 1.0M194.3 110.4l2.0 -0.4M353.5 385.9l-3.9 1.9M142.0 115.3l2.8 -1.5M367.1 242.7l-0.0 2.1M311.3 334.1l-2.0 3.2M121.4 253.9l0.6 -1.7M64.4 107.7l3.3 -2.1M336.0 327.3l-0.8 2.8M156.3 118.4l2.9 -0.3M228.4 142.6l2.3 -1.1M352.5 143.5l1.7 0.7M233.9 185.7l2.7 -0.4M373.7 164.2l1.3 1.4M259.5 381.0l-2.2 -0.3M119.1 357.2l-1.1 -2.3M294.8 91.0l2.2 1.1M219.1 280.0l-1.0 -1.1M339.2 341.8l-2.6 2.4M329.6 93.3l3.0 2.9M229.0 395.2l-2.3 0.3M130.0 103.7l4.1 -2.6M349.6 323.4l-1.1 3.6M304.2 349.1l-1.7 1.1M196.7 441.8l-3.4 -0.9M130.8 157.0l2.6 -2.8M174.7 368.7l-1.3 -1.3M251.5 136.8l3.2 -0.2M97.1 235.7l-0.8 -3.4M357.1 409.1l-1.5 0.6M239.7 377.2l-2.7 -0.4M122.9 439.3l-5.0 -3.1M176.3 269.5l0.5 -2.0M360.7 286.6l-0.7 2.0M403.7 287.9l-0.5 2.4M158.8 115.8l3.3 -2.3M183.9 74.8l2.6 0.3M321.8 103.4l1.7 2.1M124.5 321.1l-1.7 -3.0M290.8 388.8l-2.9 1.8M102.1 429.6l-4.2 -2.9M332.2 236.5l0.5 3.0M213.9 349.9l-2.3 0.1M339.1 329.6l-2.1 1.5M320.8 364.7l-2.6 1.6M353.0 196.6l1.5 1.9M365.4 249.4l-0.4 2.5M210.6 444.4l-3.0 -2.2M143.8 403.6l-3.1 -1.7M179.8 245.6l1.1 -2.7M430.1 398.7l-1.8 2.9M303.2 383.1l-2.6 0.7M113.6 185.8l0.2 -1.9M320.1 352.7l-1.6 1.7M286.1 234.0l1.3 0.9M264.2 133.7l3.2 -0.4M290.8 336.0l-2.9 1.3M175.7 412.3l-2.8 -2.3M280.2 230.2l1.4 1.0M346.9 307.2l-0.5 2.6M233.7 240.2l1.8 -0.2M185.0 351.7l-2.1 -1.8M294.4 287.9l-0.6 1.5M235.8 314.8l-2.2 -1.4M174.7 143.8l2.2 -1.0M320.2 408.1l-2.7 2.2M238.3 97.7l4.0 -0.4M254.2 206.9l2.1 0.1M422.3 163.2l1.7 3.9M62.7 314.9l-2.0 -3.7M232.5 361.7l-2.6 -0.2M169.0 127.2l3.3 -1.1M131.3 401.3l-2.2 -0.6M406.8 180.0l0.3 1.7M65.4 420.2l-3.3 -4.2M294.1 324.3l-1.5 1.2M172.3 354.1l-1.4 -0.7M216.1 429.2l-1.1 0.3M352.4 357.8l-1.3 1.4M413.4 111.3l4.0 4.5M189.6 79.0l3.1 -1.1M88.0 445.2l-4.0 -1.5M221.5 149.2l3.3 -0.5M103.8 152.2l0.7 -1.0M380.3 301.5l-1.2 3.0M287.5 263.3l-0.6 1.3M166.9 112.3l2.0 -0.4M408.5 197.7l1.1 3.5M307.7 224.8l0.7 2.6M84.6 302.6l-1.6 -2.3M262.5 323.0l-2.2 -0.3M317.7 228.2l1.0 1.9M381.2 241.1l-0.6 3.5M431.5 326.5l-0.9 2.1M366.3 299.7l-0.1 3.2M327.1 166.6l1.9 2.6M67.6 85.7l2.2 -1.6M206.6 203.5l1.1 -1.4M179.8 162.0l1.7 -1.7M282.1 81.8l3.7 0.6M259.2 419.5l-2.5 0.1M346.2 252.6l-0.5 2.2M354.2 196.7l1.1 2.4M94.0 438.9l-3.6 -3.2M248.1 320.7l-1.3 -0.0M303.8 350.0l-0.8 1.3M195.2 293.8l-1.1 -1.6M70.3 364.1l-0.6 -4.0M378.1 161.9l3.7 3.3M203.7 342.2l-1.0 -0.1M66.9 178.7l2.3 -2.0M186.4 95.2l4.6 -0.5M396.7 298.0l-0.7 2.2M74.4 202.9l0.6 -4.0M328.2 435.8l-1.1 1.0M209.3 152.6l1.6 -0.3M430.4 441.9l-2.5 1.9M196.4 222.1l1.5 -1.8M337.1 154.2l1.3 2.8M332.2 245.2l-0.8 3.6M311.5 233.8l1.4 2.7M322.1 378.5l-1.8 1.9M413.6 167.6l1.5 4.2M134.0 381.4l-2.1 -1.3M196.6 359.0l-2.7 -0.9M355.1 347.3l-0.5 1.2M195.6 293.8l-1.7 -2.2M263.6 273.7l-0.9 1.0M384.7 73.5l2.6 4.4M427.2 163.3l3.7 2.8M139.4 234.1l0.9 -1.9M333.7 380.4l-2.8 1.1M120.9 189.1l1.1 -3.1M261.5 127.7l1.7 0.7M380.0 276.0l-1.7 3.2M182.4 308.8l-0.8 -2.2M322.8 200.6l0.6 1.6M251.6 312.6l-1.0 -0.4M384.9 113.2l1.5 1.3M400.1 84.9l1.8 1.1M364.9 419.9l-0.8 1.3M179.8 275.8l-1.0 -2.4M65.3 128.8l2.2 -4.6M372.6 243.0l-0.2 1.9M378.7 225.2l0.5 3.2M164.0 297.0l-0.1 -1.8M314.4 188.0l2.9 1.2M162.1 112.7l2.6 -3.5M187.6 191.0l2.1 -1.1M287.8 265.3l0.0 1.6M389.5 103.4l3.9 1.2M157.0 405.1l-3.3 -1.9M401.3 201.6l1.7 2.3M378.0 414.6l-1.1 1.4M397.9 382.4l-3.0 1.5M138.7 383.2l-0.8 -0.7M94.5 307.6l0.5 -4.4M295.7 238.1l0.9 2.0M319.9 102.9l0.9 0.1M373.3 140.5l2.2 2.7M398.0 121.1l1.8 4.6M183.5 412.1l-1.5 -0.7M289.8 271.8l-0.9 2.2M265.8 299.8l-2.4 0.6M301.3 387.7l-2.9 0.5M135.5 137.3l2.3 -1.1M228.1 318.4l-1.1 -1.0M133.7 240.1l1.0 -2.4M86.6 368.5l-1.9 -1.9M282.2 185.7l1.9 2.1M152.7 141.2l2.4 -2.4M417.9 168.4l0.5 2.1M160.4 265.4l-0.2 -2.0M173.6 359.7l-1.1 -0.7M243.7 227.3l1.2 -0.6M431.0 173.6l0.5 2.2M138.9 194.5l1.9 -1.4M138.6 325.3l-1.5 -1.0M249.4 225.6l1.5 0.9M130.8 246.4l-0.9 -3.4M219.0 87.9l4.7 0.3M147.3 216.3l0.7 -2.8M185.9 309.9l-2.5 -1.6M430.0 120.1l2.3 4.7M301.6 384.3l-1.4 0.7M400.2 252.3l1.0 4.1M213.3 423.2l-4.3 1.0M175.5 285.4l-0.4 -1.6M214.7 194.3l1.4 -1.1M111.6 298.1l-1.7 -3.3M186.2 284.6l-1.0 -1.4M102.8 438.7l-2.4 -3.4M154.6 436.5l-2.6 -3.2M401.2 438.2l-5.0 1.6M206.3 115.7l1.4 -0.3M376.6 254.1l-0.5 3.2M307.1 159.1l3.8 1.6M181.2 147.2l1.9 -0.5M174.6 178.2l1.0 -1.5M412.9 107.1l0.9 2.1M235.0 369.0l-2.4 0.7M134.7 282.5l0.2 -2.8"/>
</g>
<defs>
<radialGradient id="sb24" gradientUnits="userSpaceOnUse" cx="246.4" cy="261.4" r="24"><stop offset="0" stop-color="#fff" stop-opacity="1"/><stop offset="0.25" stop-color="#f4f4f4" stop-opacity="0.88"/><stop offset="0.5" stop-color="#e8e8e8" stop-opacity="0.68"/><stop offset="0.7" stop-color="#d8d8d8" stop-opacity="0.45"/><stop offset="0.88" stop-color="#c8c8c8" stop-opacity="0.2"/><stop offset="1" stop-color="#c0c0c0" stop-opacity="0"/></radialGradient>
<radialGradient id="sb28" gradientUnits="userSpaceOnUse" cx="246.4" cy="261.4" r="28"><stop offset="0" stop-color="#fff" stop-opacity="1"/><stop offset="0.25" stop-color="#f4f4f4" stop-opacity="0.88"/><stop offset="0.5" stop-color="#e8e8e8" stop-opacity="0.68"/><stop offset="0.7" stop-color="#d8d8d8" stop-opacity="0.45"/><stop offset="0.88" stop-color="#c8c8c8" stop-opacity="0.2"/><stop offset="1" stop-color="#c0c0c0" stop-opacity="0"/></radialGradient>
<radialGradient id="sb32" gradientUnits="userSpaceOnUse" cx="246.4" cy="261.4" r="32"><stop offset="0" stop-color="#fff" stop-opacity="1"/><stop offset="0.25" stop-color="#f4f4f4" stop-opacity="0.88"/><stop offset="0.5" stop-color="#e8e8e8" stop-opacity="0.68"/><stop offset="0.7" stop-color="#d8d8d8" stop-opacity="0.45"/><stop offset="0.88" stop-color="#c8c8c8" stop-opacity="0.2"/><stop offset="1" stop-color="#c0c0c0" stop-opacity="0"/></radialGradient>
<radialGradient id="sb36" gradientUnits="userSpaceOnUse" cx="246.4" cy="261.4" r="36"><stop offset="0" stop-color="#fff" stop-opacity="1"/><stop offset="0.25" stop-color="#f4f4f4" stop-opacity="0.88"/><stop offset="0.5" stop-color="#e8e8e8" stop-opacity="0.68"/><stop offset="0.7" stop-color="#d8d8d8" stop-opacity="0.45"/><stop offset="0.88" stop-color="#c8c8c8" stop-opacity="0.2"/><stop offset="1" stop-color="#c0c0c0" stop-opacity="0"/></radialGradient>
<radialGradient id="sb40" gradientUnits="userSpaceOnUse" cx="246.4" cy="261.4" r="40"><stop offset="0" stop-color="#fff" stop-opacity="1"/><stop offset="0.25" stop-color="#f4f4f4" stop-opacity="0.88"/><stop offset="0.5" stop-color="#e8e8e8" stop-opacity="0.68"/><stop offset="0.7" stop-color="#d8d8d8" stop-opacity="0.45"/><stop offset="0.88" stop-color="#c8c8c8" stop-opacity="0.2"/><stop offset="1" stop-color="#c0c0c0" stop-opacity="0"/></radialGradient>
<radialGradient id="sb44" gradientUnits="userSpaceOnUse" cx="246.4" cy="261.4" r="44"><stop offset="0" stop-color="#fff" stop-opacity="1"/><stop offset="0.25" stop-color="#f4f4f4" stop-opacity="0.88"/><stop offset="0.5" stop-color="#e8e8e8" stop-opacity="0.68"/><stop offset="0.7" stop-color="#d8d8d8" stop-opacity="0.45"/><stop offset="0.88" stop-color="#c8c8c8" stop-opacity="0.2"/><stop offset="1" stop-color="#c0c0c0" stop-opacity="0"/></radialGradient>
<radialGradient id="sb48" gradientUnits="userSpaceOnUse" cx="246.4" cy="261.4" r="48"><stop offset="0" stop-color="#fff" stop-opacity="1"/><stop offset="0.25" stop-color="#f4f4f4" stop-opacity="0.88"/><stop offset="0.5" stop-color="#e8e8e8" stop-opacity="0.68"/><stop offset="0.7" stop-color="#d8d8d8" stop-opacity="0.45"/><stop offset="0.88" stop-color="#c8c8c8" stop-opacity="0.2"/><stop offset="1" stop-color="#c0c0c0" stop-opacity="0"/></radialGradient>
<radialGradient id="sb52" gradientUnits="userSpaceOnUse" cx="246.4" cy="261.4" r="52"><stop offset="0" stop-color="#fff" stop-opacity="1"/><stop offset="0.25" stop-color="#f4f4f4" stop-opacity="0.88"/><stop offset="0.5" stop-color="#e8e8e8" stop-opacity="0.68"/><stop offset="0.7" stop-color="#d8d8d8" stop-opacity="0.45"/><stop offset="0.88" stop-color="#c8c8c8" stop-opacity="0.2"/><stop offset="1" stop-color="#c0c0c0" stop-opacity="0"/></radialGradient>
<radialGradient id="sb56" gradientUnits="userSpaceOnUse" cx="246.4" cy="261.4" r="56"><stop offset="0" stop-color="#fff" stop-opacity="1"/><stop offset="0.25" stop-color="#f4f4f4" stop-opacity="0.88"/><stop offset="0.5" stop-color="#e8e8e8" stop-opacity="0.68"/><stop offset="0.7" stop-color="#d8d8d8" stop-opacity="0.45"/><stop offset="0.88" stop-color="#c8c8c8" stop-opacity="0.2"/><stop offset="1" stop-color="#c0c0c0" stop-opacity="0"/></radialGradient>
<radialGradient id="sb60" gradientUnits="userSpaceOnUse" cx="246.4" cy="261.4" r="60"><stop offset="0" stop-color="#fff" stop-opacity="1"/><stop offset="0.25" stop-color="#f4f4f4" stop-opacity="0.88"/><stop offset="0.5" stop-color="#e8e8e8" stop-opacity="0.68"/><stop offset="0.7" stop-color="#d8d8d8" stop-opacity="0.45"/><stop offset="0.88" stop-color="#c8c8c8" stop-opacity="0.2"/><stop offset="1" stop-color="#c0c0c0" stop-opacity="0"/></radialGradient>
<radialGradient id="sb64" gradientUnits="userSpaceOnUse" cx="246.4" cy="261.4" r="64"><stop offset="0" stop-color="#fff" stop-opacity="1"/><stop offset="0.25" stop-color="#f4f4f4" stop-opacity="0.88"/><stop offset="0.5" stop-color="#e8e8e8" stop-opacity="0.68"/><stop offset="0.7" stop-color="#d8d8d8" stop-opacity="0.45"/><stop offset="0.88" stop-color="#c8c8c8" stop-opacity="0.2"/><stop offset="1" stop-color="#c0c0c0" stop-opacity="0"/></radialGradient>
<radialGradient id="sb68" gradientUnits="userSpaceOnUse" cx="246.4" cy="261.4" r="68"><stop offset="0" stop-color="#fff" stop-opacity="1"/><stop offset="0.25" stop-color="#f4f4f4" stop-opacity="0.88"/><stop offset="0.5" stop-color="#e8e8e8" stop-opacity="0.68"/><stop offset="0.7" stop-color="#d8d8d8" stop-opacity="0.45"/><stop offset="0.88" stop-color="#c8c8c8" stop-opacity="0.2"/><stop offset="1" stop-color="#c0c0c0" stop-opacity="0"/></radialGradient>
<radialGradient id="sb72" gradientUnits="userSpaceOnUse" cx="246.4" cy="261.4" r="72"><stop offset="0" stop-color="#fff" stop-opacity="1"/><stop offset="0.25" stop-color="#f4f4f4" stop-opacity="0.88"/><stop offset="0.5" stop-color="#e8e8e8" stop-opacity="0.68"/><stop offset="0.7" stop-color="#d8d8d8" stop-opacity="0.45"/><stop offset="0.88" stop-color="#c8c8c8" stop-opacity="0.2"/><stop offset="1" stop-color="#c0c0c0" stop-opacity="0"/></radialGradient>
<radialGradient id="sb76" gradientUnits="userSpaceOnUse" cx="246.4" cy="261.4" r="76"><stop offset="0" stop-color="#fff" stop-opacity="1"/><stop offset="0.25" stop-color="#f4f4f4" stop-opacity="0.88"/><stop offset="0.5" stop-color="#e8e8e8" stop-opacity="0.68"/><stop offset="0.7" stop-color="#d8d8d8" stop-opacity="0.45"/><stop offset="0.88" stop-color="#c8c8c8" stop-opacity="0.2"/><stop offset="1" stop-color="#c0c0c0" stop-opacity="0"/></radialGradient>
<radialGradient id="sb80" gradientUnits="userSpaceOnUse" cx="246.4" cy="261.4" r="80"><stop offset="0" stop-color="#fff" stop-opacity="1"/><stop offset="0.25" stop-color="#f4f4f4" stop-opacity="0.88"/><stop offset="0.5" stop-color="#e8e8e8" stop-opacity="0.68"/><stop offset="0.7" stop-color="#d8d8d8" stop-opacity="0.45"/><stop offset="0.88" stop-color="#c8c8c8" stop-opacity="0.2"/><stop offset="1" stop-color="#c0c0c0" stop-opacity="0"/></radialGradient>
<radialGradient id="sb84" gradientUnits="userSpaceOnUse" cx="246.4" cy="261.4" r="84"><stop offset="0" stop-color="#fff" stop-opacity="1"/><stop offset="0.25" stop-color="#f4f4f4" stop-opacity="0.88"/><stop offset="0.5" stop-color="#e8e8e8" stop-opacity="0.68"/><stop offset="0.7" stop-color="#d8d8d8" stop-opacity="0.45"/><stop offset="0.88" stop-color="#c8c8c8" stop-opacity="0.2"/><stop offset="1" stop-color="#c0c0c0" stop-opacity="0"/></radialGradient>
<radialGradient id="sb88" gradientUnits="userSpaceOnUse" cx="246.4" cy="261.4" r="88"><stop offset="0" stop-color="#fff" stop-opacity="1"/><stop offset="0.25" stop-color="#f4f4f4" stop-opacity="0.88"/><stop offset="0.5" stop-color="#e8e8e8" stop-opacity="0.68"/><stop offset="0.7" stop-color="#d8d8d8" stop-opacity="0.45"/><stop offset="0.88" stop-color="#c8c8c8" stop-opacity="0.2"/><stop offset="1" stop-color="#c0c0c0" stop-opacity="0"/></radialGradient>
</defs>
<clipPath id="sbc"><polygon points="246.4,261.4 241.0,277.4 236.7,281.7 236.1,284.1 241.0,286.0 244.7,289.6 248.4,293.3 251.5,298.2 255.8,305.6 259.4,310.5 263.1,315.4 266.8,320.3 269.3,325.8 276.0,336.0 283.0,347.0 295.1,381.9 303.4,378.2 311.4,374.0 319.1,369.2 326.4,363.8 333.4,358.0 339.9,351.7 346.0,345.0 351.6,337.8 356.6,330.3 361.2,322.4 365.2,314.3 368.6,305.9 371.4,297.2 373.6,288.4 375.1,279.5 376.1,270.5 376.4,261.4 376.1,252.3 375.1,243.3 373.6,234.4 371.4,225.6 368.6,216.9 365.2,208.5 361.2,200.4 356.6,192.5 351.6,185.0 346.0,177.8 339.9,171.1 333.4,164.8 326.4,159.0 319.1,153.6 311.4,148.8 303.4,144.6 295.1,140.9 286.6,137.8 277.8,135.3 269.0,133.4 260.0,132.1 250.9,131.5 241.9,131.5 232.8,132.1 223.8,133.4 215.0,135.3 206.2,137.8 197.7,140.9 189.4,144.6 181.4,148.8 173.7,153.6 166.4,159.0 159.4,164.8 152.9,171.1 146.8,177.8 141.2,185.0 136.2,192.5 131.6,200.4 127.6,208.5 124.2,216.9 121.4,225.6 119.2,234.4 117.7,243.3 116.7,252.3 116.4,261.4 116.7,270.5 117.7,279.5 119.2,288.4 121.4,297.2 124.2,305.9 127.6,314.3 131.6,322.4 136.2,330.3 141.2,337.8 146.8,345.0 152.9,351.7 159.4,358.0 166.4,363.8 173.7,369.2 181.4,374.0 189.4,378.2 189.4,378.2"/></clipPath>
<g clip-path="url(#sbc)">
<polygon points="246.4,261.4 286.4,261.3 286.4,262.9" fill="url(#sb40)" fill-opacity="0.55"/>
<polygon points="246.4,261.4 290.4,262.8 290.3,264.6" fill="url(#sb44)" fill-opacity="0.55"/>
<polygon points="246.4,261.4 290.3,264.4 290.1,266.1" fill="url(#sb44)" fill-opacity="0.56"/>
<polygon points="246.4,261.4 290.2,265.9 290.0,267.6" fill="url(#sb44)" fill-opacity="0.56"/>
<polygon points="246.4,261.4 290.0,267.4 289.7,269.2" fill="url(#sb44)" fill-opacity="0.56"/>
<polygon points="246.4,261.4 289.8,268.9 289.4,270.7" fill="url(#sb44)" fill-opacity="0.57"/>
<polygon points="246.4,261.4 293.4,271.3 292.9,273.1" fill="url(#sb48)" fill-opacity="0.57"/>
<polygon points="246.4,261.4 293.0,272.9 292.5,274.8" fill="url(#sb48)" fill-opacity="0.57"/>
<polygon points="246.4,261.4 292.6,274.5 292.0,276.4" fill="url(#sb48)" fill-opacity="0.58"/>
<polygon points="246.4,261.4 292.1,276.1 291.5,277.9" fill="url(#sb48)" fill-opacity="0.58"/>
<polygon points="246.4,261.4 291.5,277.7 290.9,279.5" fill="url(#sb48)" fill-opacity="0.58"/>
<polygon points="246.4,261.4 294.7,280.8 293.8,282.7" fill="url(#sb52)" fill-opacity="0.58"/>
<polygon points="246.4,261.4 294.0,282.4 293.1,284.3" fill="url(#sb52)" fill-opacity="0.58"/>
<polygon points="246.4,261.4 293.2,284.1 292.2,285.9" fill="url(#sb52)" fill-opacity="0.59"/>
<polygon points="246.4,261.4 295.9,287.6 294.8,289.5" fill="url(#sb56)" fill-opacity="0.59"/>
<polygon points="246.4,261.4 295.0,289.3 293.8,291.2" fill="url(#sb56)" fill-opacity="0.59"/>
<polygon points="246.4,261.4 294.0,291.0 292.7,292.8" fill="url(#sb56)" fill-opacity="0.59"/>
<polygon points="246.4,261.4 296.2,294.8 294.8,296.8" fill="url(#sb60)" fill-opacity="0.59"/>
<polygon points="246.4,261.4 295.0,296.5 293.6,298.5" fill="url(#sb60)" fill-opacity="0.60"/>
<polygon points="246.4,261.4 293.8,298.2 292.3,300.1" fill="url(#sb60)" fill-opacity="0.60"/>
<polygon points="246.4,261.4 292.5,299.8 290.9,301.7" fill="url(#sb60)" fill-opacity="0.60"/>
<polygon points="246.4,261.4 294.1,304.1 292.3,306.0" fill="url(#sb64)" fill-opacity="0.60"/>
<polygon points="246.4,261.4 292.6,305.7 290.7,307.6" fill="url(#sb64)" fill-opacity="0.60"/>
<polygon points="246.4,261.4 291.0,307.3 289.1,309.1" fill="url(#sb64)" fill-opacity="0.60"/>
<polygon points="246.4,261.4 289.3,308.8 287.4,310.5" fill="url(#sb64)" fill-opacity="0.60"/>
<polygon points="246.4,261.4 290.2,313.4 288.1,315.1" fill="url(#sb68)" fill-opacity="0.60"/>
<polygon points="246.4,261.4 288.4,314.9 286.2,316.5" fill="url(#sb68)" fill-opacity="0.60"/>
<polygon points="246.4,261.4 286.5,316.3 284.3,317.9" fill="url(#sb68)" fill-opacity="0.60"/>
<polygon points="246.4,261.4 284.6,317.7 282.3,319.2" fill="url(#sb68)" fill-opacity="0.60"/>
<polygon points="246.4,261.4 282.6,319.0 280.2,320.4" fill="url(#sb68)" fill-opacity="0.61"/>
<polygon points="246.4,261.4 280.6,320.2 278.2,321.5" fill="url(#sb68)" fill-opacity="0.61"/>
<polygon points="246.4,261.4 278.5,321.4 276.0,322.6" fill="url(#sb68)" fill-opacity="0.61"/>
<polygon points="246.4,261.4 274.6,318.8 272.3,319.9" fill="url(#sb64)" fill-opacity="0.61"/>
<polygon points="246.4,261.4 272.6,319.8 270.2,320.8" fill="url(#sb64)" fill-opacity="0.62"/>
<polygon points="246.4,261.4 270.5,320.7 268.1,321.6" fill="url(#sb64)" fill-opacity="0.62"/>
<polygon points="246.4,261.4 268.4,321.5 266.0,322.3" fill="url(#sb64)" fill-opacity="0.62"/>
<polygon points="246.4,261.4 266.3,322.2 263.9,323.0" fill="url(#sb64)" fill-opacity="0.62"/>
<polygon points="246.4,261.4 263.1,319.0 260.8,319.7" fill="url(#sb60)" fill-opacity="0.62"/>
<polygon points="246.4,261.4 261.1,319.6 258.7,320.1" fill="url(#sb60)" fill-opacity="0.62"/>
<polygon points="246.4,261.4 259.0,320.1 256.7,320.5" fill="url(#sb60)" fill-opacity="0.62"/>
<polygon points="246.4,261.4 257.0,320.5 254.6,320.8" fill="url(#sb60)" fill-opacity="0.62"/>
<polygon points="246.4,261.4 254.3,316.8 252.1,317.1" fill="url(#sb56)" fill-opacity="0.62"/>
<polygon points="246.4,261.4 252.4,317.1 250.2,317.3" fill="url(#sb56)" fill-opacity="0.62"/>
<polygon points="246.4,261.4 250.5,317.3 248.2,317.4" fill="url(#sb56)" fill-opacity="0.62"/>
<polygon points="246.4,261.4 248.5,317.4 246.3,317.4" fill="url(#sb56)" fill-opacity="0.61"/>
<polygon points="246.4,261.4 246.5,313.4 244.4,313.4" fill="url(#sb52)" fill-opacity="0.61"/>
<polygon points="246.4,261.4 244.7,313.4 242.6,313.3" fill="url(#sb52)" fill-opacity="0.61"/>
<polygon points="246.4,261.4 242.9,313.3 240.8,313.1" fill="url(#sb52)" fill-opacity="0.61"/>
<polygon points="246.4,261.4 241.1,313.1 239.0,312.9" fill="url(#sb52)" fill-opacity="0.60"/>
<polygon points="246.4,261.4 239.3,312.9 237.2,312.6" fill="url(#sb52)" fill-opacity="0.60"/>
<polygon points="246.4,261.4 238.2,308.7 236.3,308.3" fill="url(#sb48)" fill-opacity="0.59"/>
<polygon points="246.4,261.4 236.5,308.4 234.7,307.9" fill="url(#sb48)" fill-opacity="0.57"/>
<polygon points="246.4,261.4 234.9,308.0 233.0,307.5" fill="url(#sb48)" fill-opacity="0.55"/>
<polygon points="246.4,261.4 233.3,307.6 231.4,307.0" fill="url(#sb48)" fill-opacity="0.53"/>
<polygon points="246.4,261.4 232.9,303.3 231.2,302.7" fill="url(#sb44)" fill-opacity="0.51"/>
<polygon points="246.4,261.4 234.2,295.3 232.8,294.7" fill="url(#sb36)" fill-opacity="0.37"/>
<polygon points="246.4,261.4 237.5,283.7 236.6,283.3" fill="url(#sb24)" fill-opacity="0.10"/>
<polygon points="246.4,261.4 236.7,283.4 235.8,282.9" fill="url(#sb24)" fill-opacity="0.03"/>
<polygon points="246.4,261.4 224.9,272.0 224.4,271.1" fill="url(#sb24)" fill-opacity="0.11"/>
<polygon points="246.4,261.4 220.9,272.9 220.4,271.8" fill="url(#sb28)" fill-opacity="0.34"/>
<polygon points="246.4,261.4 213.1,275.0 212.5,273.6" fill="url(#sb36)" fill-opacity="0.47"/>
<polygon points="246.4,261.4 212.6,273.8 212.1,272.4" fill="url(#sb36)" fill-opacity="0.52"/>
<polygon points="246.4,261.4 208.4,273.9 207.9,272.3" fill="url(#sb40)" fill-opacity="0.57"/>
<polygon points="246.4,261.4 208.0,272.5 207.6,271.0" fill="url(#sb40)" fill-opacity="0.62"/>
<polygon points="246.4,261.4 207.6,271.2 207.3,269.6" fill="url(#sb40)" fill-opacity="0.64"/>
<polygon points="246.4,261.4 203.4,270.7 203.0,268.9" fill="url(#sb44)" fill-opacity="0.65"/>
<polygon points="246.4,261.4 203.1,269.2 202.8,267.4" fill="url(#sb44)" fill-opacity="0.67"/>
<polygon points="246.4,261.4 202.8,267.6 202.6,265.9" fill="url(#sb44)" fill-opacity="0.67"/>
<polygon points="246.4,261.4 202.7,266.1 202.5,264.4" fill="url(#sb44)" fill-opacity="0.65"/>
<polygon points="246.4,261.4 206.5,264.3 206.4,262.7" fill="url(#sb40)" fill-opacity="0.63"/>
<polygon points="246.4,261.4 210.4,262.8 210.4,261.3" fill="url(#sb36)" fill-opacity="0.54"/>
<polygon points="246.4,261.4 214.4,261.5 214.4,260.2" fill="url(#sb32)" fill-opacity="0.38"/>
<polygon points="246.4,261.4 222.4,260.6 222.5,259.7" fill="url(#sb24)" fill-opacity="0.23"/>
<polygon points="246.4,261.4 222.5,259.8 222.5,258.8" fill="url(#sb24)" fill-opacity="0.10"/>
<polygon points="246.4,261.4 222.5,259.0 222.6,258.0" fill="url(#sb24)" fill-opacity="0.03"/>
<polygon points="246.4,261.4 222.6,258.1 222.8,257.2" fill="url(#sb24)" fill-opacity="0.03"/>
<polygon points="246.4,261.4 222.8,257.3 222.9,256.3" fill="url(#sb24)" fill-opacity="0.03"/>
<polygon points="246.4,261.4 222.9,256.5 223.1,255.5" fill="url(#sb24)" fill-opacity="0.03"/>
<polygon points="246.4,261.4 223.1,255.7 223.3,254.7" fill="url(#sb24)" fill-opacity="0.03"/>
<polygon points="246.4,261.4 223.3,254.8 223.6,253.9" fill="url(#sb24)" fill-opacity="0.03"/>
<polygon points="246.4,261.4 223.6,254.0 223.9,253.1" fill="url(#sb24)" fill-opacity="0.03"/>
<polygon points="246.4,261.4 223.8,253.3 224.2,252.4" fill="url(#sb24)" fill-opacity="0.03"/>
<polygon points="246.4,261.4 224.1,252.5 224.5,251.6" fill="url(#sb24)" fill-opacity="0.03"/>
<polygon points="246.4,261.4 224.4,251.7 224.9,250.8" fill="url(#sb24)" fill-opacity="0.03"/>
<polygon points="246.4,261.4 224.8,250.9 225.2,250.1" fill="url(#sb24)" fill-opacity="0.03"/>
<polygon points="246.4,261.4 225.2,250.2 225.6,249.3" fill="url(#sb24)" fill-opacity="0.03"/>
<polygon points="246.4,261.4 225.6,249.5 226.1,248.6" fill="url(#sb24)" fill-opacity="0.03"/>
<polygon points="246.4,261.4 226.0,248.7 226.5,247.9" fill="url(#sb24)" fill-opacity="0.03"/>
<polygon points="246.4,261.4 226.5,248.0 227.0,247.2" fill="url(#sb24)" fill-opacity="0.03"/>
<polygon points="246.4,261.4 226.9,247.3 227.5,246.6" fill="url(#sb24)" fill-opacity="0.11"/>
<polygon points="246.4,261.4 227.4,246.7 228.1,245.9" fill="url(#sb24)" fill-opacity="0.27"/>
<polygon points="246.4,261.4 221.8,240.9 222.7,239.9" fill="url(#sb32)" fill-opacity="0.42"/>
<polygon points="246.4,261.4 219.6,237.4 220.6,236.3" fill="url(#sb36)" fill-opacity="0.53"/>
<polygon points="246.4,261.4 217.6,233.7 218.7,232.6" fill="url(#sb40)" fill-opacity="0.59"/>
<polygon points="246.4,261.4 218.5,232.7 219.7,231.6" fill="url(#sb40)" fill-opacity="0.65"/>
<polygon points="246.4,261.4 216.9,228.8 218.2,227.6" fill="url(#sb44)" fill-opacity="0.71"/>
<polygon points="246.4,261.4 218.0,227.8 219.4,226.7" fill="url(#sb44)" fill-opacity="0.77"/>
<polygon points="246.4,261.4 216.7,223.7 218.3,222.5" fill="url(#sb48)" fill-opacity="0.81"/>
<polygon points="246.4,261.4 218.1,222.6 219.7,221.5" fill="url(#sb48)" fill-opacity="0.84"/>
<polygon points="246.4,261.4 219.5,221.7 221.1,220.6" fill="url(#sb48)" fill-opacity="0.86"/>
<polygon points="246.4,261.4 220.9,220.8 222.5,219.8" fill="url(#sb48)" fill-opacity="0.89"/>
<polygon points="246.4,261.4 220.3,216.4 222.1,215.4" fill="url(#sb52)" fill-opacity="0.91"/>
<polygon points="246.4,261.4 221.9,215.6 223.7,214.6" fill="url(#sb52)" fill-opacity="0.94"/>
<polygon points="246.4,261.4 223.5,214.7 225.4,213.8" fill="url(#sb52)" fill-opacity="0.96"/>
<polygon points="246.4,261.4 225.1,214.0 227.0,213.1" fill="url(#sb52)" fill-opacity="0.99"/>
<polygon points="246.4,261.4 226.8,213.2 228.7,212.5" fill="url(#sb52)" fill-opacity="1.00"/>
<polygon points="246.4,261.4 228.5,212.6 230.5,211.9" fill="url(#sb52)" fill-opacity="1.00"/>
<polygon points="246.4,261.4 230.2,212.0 232.2,211.4" fill="url(#sb52)" fill-opacity="1.00"/>
<polygon points="246.4,261.4 231.9,211.5 234.0,210.9" fill="url(#sb52)" fill-opacity="1.00"/>
<polygon points="246.4,261.4 233.7,211.0 235.7,210.5" fill="url(#sb52)" fill-opacity="1.00"/>
<polygon points="246.4,261.4 235.5,210.6 237.5,210.2" fill="url(#sb52)" fill-opacity="1.00"/>
<polygon points="246.4,261.4 237.2,210.2 239.3,209.9" fill="url(#sb52)" fill-opacity="1.00"/>
<polygon points="246.4,261.4 239.0,209.9 241.1,209.7" fill="url(#sb52)" fill-opacity="1.00"/>
<polygon points="246.4,261.4 240.8,209.7 242.9,209.5" fill="url(#sb52)" fill-opacity="1.00"/>
<polygon points="246.4,261.4 242.6,209.5 244.7,209.4" fill="url(#sb52)" fill-opacity="1.00"/>
<polygon points="246.4,261.4 244.4,209.4 246.5,209.4" fill="url(#sb52)" fill-opacity="1.00"/>
<polygon points="246.4,261.4 246.3,209.4 248.4,209.4" fill="url(#sb52)" fill-opacity="1.00"/>
<polygon points="246.4,261.4 248.1,209.4 250.2,209.5" fill="url(#sb52)" fill-opacity="0.99"/>
<polygon points="246.4,261.4 249.9,209.5 252.0,209.7" fill="url(#sb52)" fill-opacity="0.98"/>
<polygon points="246.4,261.4 251.7,209.7 253.8,209.9" fill="url(#sb52)" fill-opacity="0.97"/>
<polygon points="246.4,261.4 253.5,209.9 255.6,210.2" fill="url(#sb52)" fill-opacity="0.96"/>
<polygon points="246.4,261.4 255.3,210.2 257.3,210.6" fill="url(#sb52)" fill-opacity="0.96"/>
<polygon points="246.4,261.4 257.1,210.5 259.1,211.0" fill="url(#sb52)" fill-opacity="0.95"/>
<polygon points="246.4,261.4 258.8,210.9 260.9,211.5" fill="url(#sb52)" fill-opacity="0.94"/>
<polygon points="246.4,261.4 259.5,215.2 261.4,215.8" fill="url(#sb48)" fill-opacity="0.93"/>
<polygon points="246.4,261.4 261.1,215.7 262.9,216.3" fill="url(#sb48)" fill-opacity="0.92"/>
<polygon points="246.4,261.4 262.7,216.3 264.5,216.9" fill="url(#sb48)" fill-opacity="0.92"/>
<polygon points="246.4,261.4 264.3,216.8 266.0,217.6" fill="url(#sb48)" fill-opacity="0.91"/>
<polygon points="246.4,261.4 265.8,217.5 267.6,218.3" fill="url(#sb48)" fill-opacity="0.90"/>
<polygon points="246.4,261.4 267.3,218.2 269.0,219.1" fill="url(#sb48)" fill-opacity="0.89"/>
<polygon points="246.4,261.4 268.8,219.0 270.5,219.9" fill="url(#sb48)" fill-opacity="0.88"/>
<polygon points="246.4,261.4 270.3,219.8 271.9,220.8" fill="url(#sb48)" fill-opacity="0.86"/>
<polygon points="246.4,261.4 271.7,220.6 273.3,221.7" fill="url(#sb48)" fill-opacity="0.85"/>
<polygon points="246.4,261.4 273.1,221.5 274.7,222.6" fill="url(#sb48)" fill-opacity="0.84"/>
<polygon points="246.4,261.4 274.5,222.5 276.1,223.7" fill="url(#sb48)" fill-opacity="0.83"/>
<polygon points="246.4,261.4 275.9,223.5 277.3,224.7" fill="url(#sb48)" fill-opacity="0.82"/>
<polygon points="246.4,261.4 277.2,224.5 278.6,225.8" fill="url(#sb48)" fill-opacity="0.81"/>
<polygon points="246.4,261.4 278.4,225.6 279.8,227.0" fill="url(#sb48)" fill-opacity="0.80"/>
<polygon points="246.4,261.4 279.7,226.8 281.0,228.1" fill="url(#sb48)" fill-opacity="0.79"/>
<polygon points="246.4,261.4 280.8,228.0 282.2,229.4" fill="url(#sb48)" fill-opacity="0.78"/>
<polygon points="246.4,261.4 279.0,231.9 280.2,233.2" fill="url(#sb44)" fill-opacity="0.77"/>
<polygon points="246.4,261.4 280.0,233.0 281.1,234.4" fill="url(#sb44)" fill-opacity="0.76"/>
<polygon points="246.4,261.4 281.0,234.2 282.1,235.6" fill="url(#sb44)" fill-opacity="0.76"/>
<polygon points="246.4,261.4 281.9,235.4 282.9,236.9" fill="url(#sb44)" fill-opacity="0.74"/>
<polygon points="246.4,261.4 282.8,236.7 283.8,238.2" fill="url(#sb44)" fill-opacity="0.73"/>
<polygon points="246.4,261.4 283.7,238.0 284.6,239.5" fill="url(#sb44)" fill-opacity="0.72"/>
<polygon points="246.4,261.4 284.4,239.3 285.3,240.8" fill="url(#sb44)" fill-opacity="0.71"/>
<polygon points="246.4,261.4 285.2,240.6 286.0,242.2" fill="url(#sb44)" fill-opacity="0.70"/>
<polygon points="246.4,261.4 285.9,242.0 286.6,243.6" fill="url(#sb44)" fill-opacity="0.69"/>
<polygon points="246.4,261.4 286.5,243.4 287.2,245.0" fill="url(#sb44)" fill-opacity="0.68"/>
<polygon points="246.4,261.4 287.2,244.8 287.8,246.5" fill="url(#sb44)" fill-opacity="0.67"/>
<polygon points="246.4,261.4 287.7,246.2 288.3,247.9" fill="url(#sb44)" fill-opacity="0.66"/>
<polygon points="246.4,261.4 288.2,247.7 288.7,249.4" fill="url(#sb44)" fill-opacity="0.65"/>
<polygon points="246.4,261.4 288.7,249.2 289.1,250.9" fill="url(#sb44)" fill-opacity="0.64"/>
<polygon points="246.4,261.4 289.1,250.6 289.5,252.4" fill="url(#sb44)" fill-opacity="0.63"/>
<polygon points="246.4,261.4 289.4,252.1 289.8,253.9" fill="url(#sb44)" fill-opacity="0.62"/>
<polygon points="246.4,261.4 289.7,253.6 290.0,255.4" fill="url(#sb44)" fill-opacity="0.60"/>
<polygon points="246.4,261.4 290.0,255.2 290.2,256.9" fill="url(#sb44)" fill-opacity="0.59"/>
<polygon points="246.4,261.4 286.2,257.1 286.3,258.7" fill="url(#sb40)" fill-opacity="0.58"/>
<polygon points="246.4,261.4 286.3,258.5 286.4,260.1" fill="url(#sb40)" fill-opacity="0.57"/>
<polygon points="246.4,261.4 286.4,259.9 286.4,261.5" fill="url(#sb40)" fill-opacity="0.56"/>
<polygon points="246.4,261.4 298.4,261.4 298.4,262.2" fill="url(#sb52)" fill-opacity="0.11"/>
<polygon points="246.4,261.4 282.4,262.0 282.4,262.7" fill="url(#sb36)" fill-opacity="0.29"/>
<polygon points="246.4,261.4 282.4,262.7 282.4,263.1" fill="url(#sb36)" fill-opacity="0.12"/>
<polygon points="246.4,261.4 282.4,263.1 282.3,263.7" fill="url(#sb36)" fill-opacity="0.18"/>
<polygon points="246.4,261.4 306.2,266.6 306.1,267.8" fill="url(#sb60)" fill-opacity="0.10"/>
<polygon points="246.4,261.4 286.2,265.7 286.1,266.7" fill="url(#sb40)" fill-opacity="0.13"/>
<polygon points="246.4,261.4 286.1,266.7 286.0,267.3" fill="url(#sb40)" fill-opacity="0.33"/>
<polygon points="246.4,261.4 297.8,269.1 297.7,270.2" fill="url(#sb52)" fill-opacity="0.11"/>
<polygon points="246.4,261.4 301.6,270.9 301.5,271.5" fill="url(#sb56)" fill-opacity="0.27"/>
<polygon points="246.4,261.4 293.6,270.1 293.5,270.8" fill="url(#sb48)" fill-opacity="0.21"/>
<polygon points="246.4,261.4 289.5,270.0 289.3,271.1" fill="url(#sb44)" fill-opacity="0.33"/>
<polygon points="246.4,261.4 312.4,277.6 312.0,279.2" fill="url(#sb68)" fill-opacity="0.14"/>
<polygon points="246.4,261.4 285.0,271.9 284.8,272.5" fill="url(#sb40)" fill-opacity="0.30"/>
<polygon points="246.4,261.4 304.0,278.1 303.8,278.8" fill="url(#sb60)" fill-opacity="0.33"/>
<polygon points="246.4,261.4 303.8,278.8 303.4,280.2" fill="url(#sb60)" fill-opacity="0.34"/>
<polygon points="246.4,261.4 307.2,281.5 306.7,282.7" fill="url(#sb64)" fill-opacity="0.50"/>
<polygon points="246.4,261.4 284.1,274.7 283.9,275.4" fill="url(#sb40)" fill-opacity="0.39"/>
<polygon points="246.4,261.4 294.7,280.7 294.2,281.9" fill="url(#sb52)" fill-opacity="0.38"/>
<polygon points="246.4,261.4 286.8,278.7 286.6,279.2" fill="url(#sb44)" fill-opacity="0.14"/>
<polygon points="246.4,261.4 286.6,279.2 286.4,279.6" fill="url(#sb44)" fill-opacity="0.20"/>
<polygon points="246.4,261.4 300.6,287.2 300.3,287.9" fill="url(#sb60)" fill-opacity="0.48"/>
<polygon points="246.4,261.4 296.0,287.3 295.6,288.1" fill="url(#sb56)" fill-opacity="0.48"/>
<polygon points="246.4,261.4 288.6,284.3 288.0,285.4" fill="url(#sb48)" fill-opacity="0.19"/>
<polygon points="246.4,261.4 301.8,293.4 301.3,294.2" fill="url(#sb64)" fill-opacity="0.20"/>
<polygon points="246.4,261.4 294.5,290.1 294.2,290.6" fill="url(#sb56)" fill-opacity="0.34"/>
<polygon points="246.4,261.4 301.0,294.8 300.1,296.3" fill="url(#sb64)" fill-opacity="0.36"/>
<polygon points="246.4,261.4 313.5,305.0 312.5,306.5" fill="url(#sb80)" fill-opacity="0.44"/>
<polygon points="246.4,261.4 296.0,295.2 295.1,296.5" fill="url(#sb60)" fill-opacity="0.27"/>
<polygon points="246.4,261.4 285.4,289.5 285.0,289.9" fill="url(#sb48)" fill-opacity="0.12"/>
<polygon points="246.4,261.4 294.7,297.1 294.1,297.7" fill="url(#sb60)" fill-opacity="0.11"/>
<polygon points="246.4,261.4 287.8,292.9 287.4,293.3" fill="url(#sb52)" fill-opacity="0.25"/>
<polygon points="246.4,261.4 290.2,296.3 289.5,297.2" fill="url(#sb56)" fill-opacity="0.25"/>
<polygon points="246.4,261.4 311.0,315.1 310.1,316.2" fill="url(#sb84)" fill-opacity="0.54"/>
<polygon points="246.4,261.4 285.8,295.3 285.2,296.0" fill="url(#sb52)" fill-opacity="0.14"/>
<polygon points="246.4,261.4 309.1,317.3 308.1,318.3" fill="url(#sb84)" fill-opacity="0.16"/>
<polygon points="246.4,261.4 298.8,310.8 297.8,311.8" fill="url(#sb72)" fill-opacity="0.10"/>
<polygon points="246.4,261.4 288.4,304.2 287.3,305.3" fill="url(#sb60)" fill-opacity="0.26"/>
<polygon points="246.4,261.4 295.5,314.1 294.8,314.7" fill="url(#sb72)" fill-opacity="0.44"/>
<polygon points="246.4,261.4 302.8,323.6 301.8,324.5" fill="url(#sb84)" fill-opacity="0.53"/>
<polygon points="246.4,261.4 304.5,327.5 302.8,329.0" fill="url(#sb88)" fill-opacity="0.42"/>
<polygon points="246.4,261.4 289.9,313.6 289.2,314.2" fill="url(#sb68)" fill-opacity="0.10"/>
<polygon points="246.4,261.4 286.7,311.1 286.1,311.6" fill="url(#sb64)" fill-opacity="0.40"/>
<polygon points="246.4,261.4 301.0,330.4 299.1,331.9" fill="url(#sb88)" fill-opacity="0.53"/>
<polygon points="246.4,261.4 284.7,312.6 283.3,313.7" fill="url(#sb64)" fill-opacity="0.19"/>
<polygon points="246.4,261.4 292.6,326.7 291.7,327.4" fill="url(#sb80)" fill-opacity="0.50"/>
<polygon points="246.4,261.4 293.9,330.7 292.2,331.8" fill="url(#sb84)" fill-opacity="0.45"/>
<polygon points="246.4,261.4 294.4,335.2 293.5,335.8" fill="url(#sb88)" fill-opacity="0.44"/>
<polygon points="246.4,261.4 278.5,312.1 277.3,312.8" fill="url(#sb60)" fill-opacity="0.45"/>
<polygon points="246.4,261.4 291.7,336.8 290.5,337.6" fill="url(#sb88)" fill-opacity="0.27"/>
<polygon points="246.4,261.4 273.6,310.4 272.5,311.0" fill="url(#sb56)" fill-opacity="0.16"/>
<polygon points="246.4,261.4 274.3,314.5 272.9,315.2" fill="url(#sb60)" fill-opacity="0.47"/>
<polygon points="246.4,261.4 276.4,322.4 274.8,323.2" fill="url(#sb68)" fill-opacity="0.34"/>
<polygon points="246.4,261.4 283.1,341.4 282.1,341.8" fill="url(#sb88)" fill-opacity="0.39"/>
<polygon points="246.4,261.4 268.6,317.1 267.2,317.7" fill="url(#sb60)" fill-opacity="0.23"/>
<polygon points="246.4,261.4 267.2,317.7 266.4,318.0" fill="url(#sb60)" fill-opacity="0.29"/>
<polygon points="246.4,261.4 270.8,333.4 269.6,333.8" fill="url(#sb76)" fill-opacity="0.51"/>
<polygon points="246.4,261.4 267.2,330.3 265.9,330.7" fill="url(#sb72)" fill-opacity="0.10"/>
<polygon points="246.4,261.4 259.4,307.6 258.5,307.8" fill="url(#sb48)" fill-opacity="0.46"/>
<polygon points="246.4,261.4 265.6,334.9 264.6,335.2" fill="url(#sb76)" fill-opacity="0.35"/>
<polygon points="246.4,261.4 262.7,327.4 261.6,327.7" fill="url(#sb68)" fill-opacity="0.46"/>
<polygon points="246.4,261.4 258.9,316.0 258.3,316.1" fill="url(#sb56)" fill-opacity="0.22"/>
<polygon points="246.4,261.4 260.8,327.9 259.2,328.2" fill="url(#sb68)" fill-opacity="0.45"/>
<polygon points="246.4,261.4 259.2,328.2 257.4,328.5" fill="url(#sb68)" fill-opacity="0.33"/>
<polygon points="246.4,261.4 256.8,324.6 255.6,324.7" fill="url(#sb64)" fill-opacity="0.34"/>
<polygon points="246.4,261.4 252.9,325.1 251.2,325.2" fill="url(#sb64)" fill-opacity="0.53"/>
<polygon points="246.4,261.4 250.0,309.3 248.8,309.3" fill="url(#sb48)" fill-opacity="0.30"/>
<polygon points="246.4,261.4 248.6,305.3 248.1,305.4" fill="url(#sb44)" fill-opacity="0.40"/>
<polygon points="246.4,261.4 247.3,325.4 246.5,325.4" fill="url(#sb64)" fill-opacity="0.16"/>
<polygon points="246.4,261.4 243.4,337.3 242.1,337.3" fill="url(#sb76)" fill-opacity="0.47"/>
<polygon points="246.4,261.4 243.0,321.3 242.2,321.3" fill="url(#sb60)" fill-opacity="0.25"/>
<polygon points="246.4,261.4 241.7,329.2 240.7,329.2" fill="url(#sb68)" fill-opacity="0.10"/>
<polygon points="246.4,261.4 243.1,301.3 242.3,301.2" fill="url(#sb40)" fill-opacity="0.24"/>
<polygon points="246.4,261.4 241.8,305.2 240.9,305.1" fill="url(#sb44)" fill-opacity="0.54"/>
<polygon points="246.4,261.4 240.4,301.0 240.0,300.9" fill="url(#sb40)" fill-opacity="0.44"/>
<polygon points="246.4,261.4 238.0,312.7 237.2,312.6" fill="url(#sb52)" fill-opacity="0.50"/>
<polygon points="246.4,261.4 238.7,304.7 237.6,304.5" fill="url(#sb44)" fill-opacity="0.50"/>
<polygon points="246.4,261.4 238.4,300.6 237.6,300.4" fill="url(#sb40)" fill-opacity="0.11"/>
<polygon points="246.4,261.4 237.6,300.4 236.7,300.2" fill="url(#sb40)" fill-opacity="0.48"/>
<polygon points="246.4,261.4 236.7,300.2 235.9,300.0" fill="url(#sb40)" fill-opacity="0.44"/>
<polygon points="246.4,261.4 232.1,311.4 231.2,311.1" fill="url(#sb52)" fill-opacity="0.45"/>
<polygon points="246.4,261.4 231.2,311.1 230.5,310.9" fill="url(#sb52)" fill-opacity="0.17"/>
<polygon points="246.4,261.4 235.4,295.7 234.9,295.5" fill="url(#sb36)" fill-opacity="0.16"/>
<polygon points="246.4,261.4 227.3,318.3 226.4,318.0" fill="url(#sb60)" fill-opacity="0.19"/>
<polygon points="246.4,261.4 231.7,302.9 230.9,302.6" fill="url(#sb44)" fill-opacity="0.08"/>
<polygon points="246.4,261.4 230.9,302.6 230.3,302.4" fill="url(#sb44)" fill-opacity="0.21"/>
<polygon points="246.4,261.4 231.8,298.6 231.3,298.4" fill="url(#sb40)" fill-opacity="0.06"/>
<polygon points="246.4,261.4 237.3,283.6 236.8,283.4" fill="url(#sb24)" fill-opacity="0.09"/>
<polygon points="246.4,261.4 236.8,283.4 236.4,283.2" fill="url(#sb24)" fill-opacity="0.06"/>
<polygon points="246.4,261.4 236.4,283.2 236.0,283.1" fill="url(#sb24)" fill-opacity="0.02"/>
<polygon points="246.4,261.4 224.8,271.9 224.6,271.4" fill="url(#sb24)" fill-opacity="0.05"/>
<polygon points="246.4,261.4 209.7,277.3 209.4,276.6" fill="url(#sb40)" fill-opacity="0.09"/>
<polygon points="246.4,261.4 220.5,272.1 220.3,271.5" fill="url(#sb28)" fill-opacity="0.35"/>
<polygon points="246.4,261.4 205.3,277.2 204.9,276.1" fill="url(#sb44)" fill-opacity="0.37"/>
<polygon points="246.4,261.4 208.7,274.8 208.5,274.3" fill="url(#sb40)" fill-opacity="0.40"/>
<polygon points="246.4,261.4 204.8,275.6 204.4,274.6" fill="url(#sb44)" fill-opacity="0.45"/>
<polygon points="246.4,261.4 212.1,272.2 211.8,271.4" fill="url(#sb36)" fill-opacity="0.10"/>
<polygon points="246.4,261.4 211.8,271.4 211.7,271.0" fill="url(#sb36)" fill-opacity="0.47"/>
<polygon points="246.4,261.4 200.1,274.2 199.9,273.2" fill="url(#sb48)" fill-opacity="0.41"/>
<polygon points="246.4,261.4 192.1,275.2 191.9,274.2" fill="url(#sb56)" fill-opacity="0.45"/>
<polygon points="246.4,261.4 195.8,273.2 195.5,272.3" fill="url(#sb52)" fill-opacity="0.13"/>
<polygon points="246.4,261.4 211.2,268.9 211.0,268.1" fill="url(#sb36)" fill-opacity="0.23"/>
<polygon points="246.4,261.4 191.4,271.8 191.2,270.5" fill="url(#sb56)" fill-opacity="0.58"/>
<polygon points="246.4,261.4 199.0,269.2 198.9,268.3" fill="url(#sb48)" fill-opacity="0.45"/>
<polygon points="246.4,261.4 194.9,268.9 194.8,267.7" fill="url(#sb52)" fill-opacity="0.14"/>
<polygon points="246.4,261.4 190.8,268.2 190.7,267.4" fill="url(#sb56)" fill-opacity="0.25"/>
<polygon points="246.4,261.4 210.6,265.3 210.5,264.6" fill="url(#sb36)" fill-opacity="0.23"/>
<polygon points="246.4,261.4 194.6,266.0 194.5,264.8" fill="url(#sb52)" fill-opacity="0.24"/>
<polygon points="246.4,261.4 202.5,264.3 202.4,263.4" fill="url(#sb44)" fill-opacity="0.15"/>
<polygon points="246.4,261.4 186.5,264.2 186.4,262.6" fill="url(#sb60)" fill-opacity="0.52"/>
<polygon points="246.4,261.4 198.4,262.4 198.4,261.8" fill="url(#sb48)" fill-opacity="0.46"/>
<polygon points="246.4,261.4 214.4,261.7 214.4,261.1" fill="url(#sb32)" fill-opacity="0.40"/>
<polygon points="246.4,261.4 218.4,261.1 218.4,260.7" fill="url(#sb28)" fill-opacity="0.21"/>
<polygon points="246.4,261.4 210.4,260.6 210.4,259.6" fill="url(#sb36)" fill-opacity="0.16"/>
<polygon points="246.4,261.4 222.4,260.2 222.5,259.6" fill="url(#sb24)" fill-opacity="0.16"/>
<polygon points="246.4,261.4 222.5,259.6 222.5,259.1" fill="url(#sb24)" fill-opacity="0.05"/>
<polygon points="246.4,261.4 222.5,259.1 222.6,258.7" fill="url(#sb24)" fill-opacity="0.01"/>
<polygon points="246.4,261.4 222.6,258.7 222.6,258.3" fill="url(#sb24)" fill-opacity="0.02"/>
<polygon points="246.4,261.4 222.6,258.3 222.7,257.7" fill="url(#sb24)" fill-opacity="0.02"/>
<polygon points="246.4,261.4 222.7,257.7 222.8,257.1" fill="url(#sb24)" fill-opacity="0.01"/>
<polygon points="246.4,261.4 222.8,257.1 222.9,256.4" fill="url(#sb24)" fill-opacity="0.01"/>
<polygon points="246.4,261.4 222.9,256.4 223.0,256.1" fill="url(#sb24)" fill-opacity="0.02"/>
<polygon points="246.4,261.4 223.1,255.7 223.2,255.4" fill="url(#sb24)" fill-opacity="0.01"/>
<polygon points="246.4,261.4 223.3,255.0 223.5,254.4" fill="url(#sb24)" fill-opacity="0.03"/>
<polygon points="246.4,261.4 223.5,254.4 223.7,253.8" fill="url(#sb24)" fill-opacity="0.01"/>
<polygon points="246.4,261.4 223.7,253.8 223.8,253.2" fill="url(#sb24)" fill-opacity="0.02"/>
<polygon points="246.4,261.4 223.8,253.2 224.0,252.9" fill="url(#sb24)" fill-opacity="0.01"/>
<polygon points="246.4,261.4 224.0,252.9 224.1,252.5" fill="url(#sb24)" fill-opacity="0.02"/>
<polygon points="246.4,261.4 224.1,252.5 224.4,251.9" fill="url(#sb24)" fill-opacity="0.01"/>
<polygon points="246.4,261.4 224.4,251.9 224.6,251.4" fill="url(#sb24)" fill-opacity="0.01"/>
<polygon points="246.4,261.4 224.7,251.1 224.9,250.7" fill="url(#sb24)" fill-opacity="0.03"/>
<polygon points="246.4,261.4 224.9,250.7 225.1,250.3" fill="url(#sb24)" fill-opacity="0.01"/>
<polygon points="246.4,261.4 225.1,250.3 225.3,250.0" fill="url(#sb24)" fill-opacity="0.01"/>
<polygon points="246.4,261.4 225.5,249.5 225.8,249.0" fill="url(#sb24)" fill-opacity="0.02"/>
<polygon points="246.4,261.4 225.8,249.0 226.0,248.7" fill="url(#sb24)" fill-opacity="0.01"/>
<polygon points="246.4,261.4 226.0,248.7 226.4,248.1" fill="url(#sb24)" fill-opacity="0.02"/>
<polygon points="246.4,261.4 226.4,248.1 226.7,247.6" fill="url(#sb24)" fill-opacity="0.01"/>
<polygon points="246.4,261.4 226.7,247.6 227.0,247.3" fill="url(#sb24)" fill-opacity="0.02"/>
<polygon points="246.4,261.4 227.0,247.3 227.4,246.8" fill="url(#sb24)" fill-opacity="0.06"/>
<polygon points="246.4,261.4 227.4,246.8 227.7,246.3" fill="url(#sb24)" fill-opacity="0.03"/>
<polygon points="246.4,261.4 222.4,240.2 223.0,239.6" fill="url(#sb32)" fill-opacity="0.13"/>
<polygon points="246.4,261.4 208.4,226.0 209.1,225.2" fill="url(#sb52)" fill-opacity="0.38"/>
<polygon points="246.4,261.4 214.8,230.8 215.5,230.1" fill="url(#sb44)" fill-opacity="0.33"/>
<polygon points="246.4,261.4 221.1,235.8 221.4,235.5" fill="url(#sb36)" fill-opacity="0.51"/>
<polygon points="246.4,261.4 221.4,235.5 222.0,235.0" fill="url(#sb36)" fill-opacity="0.22"/>
<polygon points="246.4,261.4 222.0,235.0 222.5,234.5" fill="url(#sb36)" fill-opacity="0.14"/>
<polygon points="246.4,261.4 217.2,228.5 217.9,227.9" fill="url(#sb44)" fill-opacity="0.23"/>
<polygon points="246.4,261.4 217.9,227.9 218.6,227.3" fill="url(#sb44)" fill-opacity="0.37"/>
<polygon points="246.4,261.4 205.9,211.8 207.3,210.7" fill="url(#sb64)" fill-opacity="0.40"/>
<polygon points="246.4,261.4 204.9,207.6 205.7,207.0" fill="url(#sb68)" fill-opacity="0.55"/>
<polygon points="246.4,261.4 215.2,219.8 215.9,219.3" fill="url(#sb52)" fill-opacity="0.54"/>
<polygon points="246.4,261.4 211.2,212.8 212.1,212.2" fill="url(#sb60)" fill-opacity="0.70"/>
<polygon points="246.4,261.4 218.9,222.0 219.5,221.6" fill="url(#sb48)" fill-opacity="0.39"/>
<polygon points="246.4,261.4 210.6,208.4 211.8,207.6" fill="url(#sb64)" fill-opacity="0.60"/>
<polygon points="246.4,261.4 207.4,200.9 208.6,200.1" fill="url(#sb72)" fill-opacity="0.33"/>
<polygon points="246.4,261.4 221.2,220.5 222.2,219.9" fill="url(#sb48)" fill-opacity="0.64"/>
<polygon points="246.4,261.4 222.9,219.6 223.7,219.1" fill="url(#sb48)" fill-opacity="0.42"/>
<polygon points="246.4,261.4 224.6,218.6 225.2,218.3" fill="url(#sb48)" fill-opacity="0.83"/>
<polygon points="246.4,261.4 226.9,221.9 227.5,221.7" fill="url(#sb44)" fill-opacity="0.42"/>
<polygon points="246.4,261.4 227.9,217.1 229.1,216.6" fill="url(#sb48)" fill-opacity="0.85"/>
<polygon points="246.4,261.4 223.3,201.7 224.7,201.2" fill="url(#sb64)" fill-opacity="0.43"/>
<polygon points="246.4,261.4 230.1,216.2 230.9,216.0" fill="url(#sb48)" fill-opacity="0.15"/>
<polygon points="246.4,261.4 221.9,189.5 223.0,189.1" fill="url(#sb76)" fill-opacity="0.24"/>
<polygon points="246.4,261.4 229.1,208.1 230.6,207.7" fill="url(#sb56)" fill-opacity="0.77"/>
<polygon points="246.4,261.4 234.0,219.2 235.0,218.9" fill="url(#sb44)" fill-opacity="0.51"/>
<polygon points="246.4,261.4 229.0,191.5 230.0,191.3" fill="url(#sb72)" fill-opacity="0.17"/>
<polygon points="246.4,261.4 230.9,195.2 232.1,194.9" fill="url(#sb68)" fill-opacity="0.18"/>
<polygon points="246.4,261.4 231.2,191.0 232.0,190.9" fill="url(#sb72)" fill-opacity="0.34"/>
<polygon points="246.4,261.4 232.9,186.6 234.2,186.4" fill="url(#sb76)" fill-opacity="0.61"/>
<polygon points="246.4,261.4 238.0,210.1 238.8,210.0" fill="url(#sb52)" fill-opacity="0.36"/>
<polygon points="246.4,261.4 235.9,190.2 236.6,190.1" fill="url(#sb72)" fill-opacity="0.63"/>
<polygon points="246.4,261.4 239.9,213.8 241.2,213.7" fill="url(#sb48)" fill-opacity="0.51"/>
<polygon points="246.4,261.4 241.8,205.6 242.8,205.5" fill="url(#sb56)" fill-opacity="0.52"/>
<polygon points="246.4,261.4 242.0,193.5 243.8,193.4" fill="url(#sb68)" fill-opacity="0.70"/>
<polygon points="246.4,261.4 244.1,201.4 245.6,201.4" fill="url(#sb60)" fill-opacity="0.40"/>
<polygon points="246.4,261.4 245.5,193.4 246.6,193.4" fill="url(#sb68)" fill-opacity="0.21"/>
<polygon points="246.4,261.4 246.5,213.4 247.2,213.4" fill="url(#sb48)" fill-opacity="0.20"/>
<polygon points="246.4,261.4 247.3,209.4 247.8,209.4" fill="url(#sb52)" fill-opacity="0.88"/>
<polygon points="246.4,261.4 248.8,217.5 249.4,217.5" fill="url(#sb44)" fill-opacity="0.52"/>
<polygon points="246.4,261.4 249.7,213.5 250.8,213.6" fill="url(#sb48)" fill-opacity="0.45"/>
<polygon points="246.4,261.4 252.3,197.7 253.6,197.8" fill="url(#sb64)" fill-opacity="0.77"/>
<polygon points="246.4,261.4 254.1,193.8 255.6,194.0" fill="url(#sb68)" fill-opacity="0.36"/>
<polygon points="246.4,261.4 255.0,198.0 256.3,198.2" fill="url(#sb64)" fill-opacity="0.29"/>
<polygon points="246.4,261.4 253.2,217.9 253.9,218.0" fill="url(#sb44)" fill-opacity="0.78"/>
<polygon points="246.4,261.4 255.2,210.2 256.3,210.3" fill="url(#sb52)" fill-opacity="0.86"/>
<polygon points="246.4,261.4 259.3,194.6 260.6,194.9" fill="url(#sb68)" fill-opacity="0.61"/>
<polygon points="246.4,261.4 258.1,206.6 259.6,207.0" fill="url(#sb56)" fill-opacity="0.73"/>
<polygon points="246.4,261.4 257.8,218.9 258.3,219.0" fill="url(#sb44)" fill-opacity="0.27"/>
<polygon points="246.4,261.4 264.8,195.9 266.6,196.5" fill="url(#sb68)" fill-opacity="0.40"/>
<polygon points="246.4,261.4 260.7,215.6 261.8,215.9" fill="url(#sb48)" fill-opacity="0.68"/>
<polygon points="246.4,261.4 265.7,204.6 267.2,205.1" fill="url(#sb60)" fill-opacity="0.57"/>
<polygon points="246.4,261.4 261.7,220.1 262.2,220.4" fill="url(#sb44)" fill-opacity="0.28"/>
<polygon points="246.4,261.4 268.0,205.4 268.8,205.8" fill="url(#sb60)" fill-opacity="0.28"/>
<polygon points="246.4,261.4 268.8,205.8 269.4,206.0" fill="url(#sb60)" fill-opacity="0.26"/>
<polygon points="246.4,261.4 271.0,202.3 271.9,202.7" fill="url(#sb64)" fill-opacity="0.51"/>
<polygon points="246.4,261.4 267.1,213.7 267.7,214.0" fill="url(#sb52)" fill-opacity="0.51"/>
<polygon points="246.4,261.4 264.4,221.3 265.3,221.7" fill="url(#sb44)" fill-opacity="0.60"/>
<polygon points="246.4,261.4 267.0,218.0 267.7,218.4" fill="url(#sb48)" fill-opacity="0.77"/>
<polygon points="246.4,261.4 267.7,218.4 268.4,218.8" fill="url(#sb48)" fill-opacity="0.41"/>
<polygon points="246.4,261.4 275.3,208.8 276.2,209.3" fill="url(#sb60)" fill-opacity="0.26"/>
<polygon points="246.4,261.4 272.7,216.5 273.5,217.0" fill="url(#sb52)" fill-opacity="0.70"/>
<polygon points="246.4,261.4 265.1,230.7 265.7,231.0" fill="url(#sb36)" fill-opacity="0.49"/>
<polygon points="246.4,261.4 273.0,221.5 273.5,221.8" fill="url(#sb48)" fill-opacity="0.45"/>
<polygon points="246.4,261.4 275.8,218.5 276.3,218.9" fill="url(#sb52)" fill-opacity="0.71"/>
<polygon points="246.4,261.4 283.2,209.0 283.9,209.5" fill="url(#sb64)" fill-opacity="0.74"/>
<polygon points="246.4,261.4 286.2,206.3 287.0,206.8" fill="url(#sb68)" fill-opacity="0.74"/>
<polygon points="246.4,261.4 284.6,210.0 285.5,210.8" fill="url(#sb64)" fill-opacity="0.37"/>
<polygon points="246.4,261.4 285.5,210.8 286.9,211.8" fill="url(#sb64)" fill-opacity="0.22"/>
<polygon points="246.4,261.4 276.7,224.2 277.6,224.9" fill="url(#sb48)" fill-opacity="0.64"/>
<polygon points="246.4,261.4 275.0,228.0 275.9,228.7" fill="url(#sb44)" fill-opacity="0.37"/>
<polygon points="246.4,261.4 273.2,231.7 273.7,232.2" fill="url(#sb40)" fill-opacity="0.27"/>
<polygon points="246.4,261.4 288.4,218.6 288.9,219.0" fill="url(#sb60)" fill-opacity="0.14"/>
<polygon points="246.4,261.4 286.1,221.9 287.0,222.9" fill="url(#sb56)" fill-opacity="0.44"/>
<polygon points="246.4,261.4 281.2,228.4 281.9,229.1" fill="url(#sb48)" fill-opacity="0.46"/>
<polygon points="246.4,261.4 281.9,229.1 282.5,229.8" fill="url(#sb48)" fill-opacity="0.37"/>
<polygon points="246.4,261.4 285.5,227.1 285.9,227.6" fill="url(#sb52)" fill-opacity="0.25"/>
<polygon points="246.4,261.4 282.9,230.2 283.6,231.0" fill="url(#sb48)" fill-opacity="0.22"/>
<polygon points="246.4,261.4 277.4,236.1 277.9,236.7" fill="url(#sb40)" fill-opacity="0.36"/>
<polygon points="246.4,261.4 287.3,229.3 287.7,229.8" fill="url(#sb52)" fill-opacity="0.14"/>
<polygon points="246.4,261.4 290.9,227.3 291.6,228.3" fill="url(#sb56)" fill-opacity="0.55"/>
<polygon points="246.4,261.4 288.4,230.7 288.9,231.5" fill="url(#sb52)" fill-opacity="0.32"/>
<polygon points="246.4,261.4 295.5,226.9 296.4,228.2" fill="url(#sb60)" fill-opacity="0.67"/>
<polygon points="246.4,261.4 279.7,239.3 280.2,240.1" fill="url(#sb40)" fill-opacity="0.65"/>
<polygon points="246.4,261.4 297.8,230.4 298.6,231.7" fill="url(#sb60)" fill-opacity="0.61"/>
<polygon points="246.4,261.4 295.1,233.7 295.4,234.3" fill="url(#sb56)" fill-opacity="0.19"/>
<polygon points="246.4,261.4 298.9,232.4 299.6,233.7" fill="url(#sb60)" fill-opacity="0.18"/>
<polygon points="246.4,261.4 289.4,240.1 289.7,240.7" fill="url(#sb48)" fill-opacity="0.27"/>
<polygon points="246.4,261.4 282.5,244.2 282.7,244.6" fill="url(#sb40)" fill-opacity="0.59"/>
<polygon points="246.4,261.4 279.4,247.0 279.6,247.4" fill="url(#sb36)" fill-opacity="0.37"/>
<polygon points="246.4,261.4 301.7,238.1 302.2,239.3" fill="url(#sb60)" fill-opacity="0.38"/>
<polygon points="246.4,261.4 299.1,242.5 299.5,243.6" fill="url(#sb56)" fill-opacity="0.23"/>
<polygon points="246.4,261.4 288.1,247.4 288.5,248.6" fill="url(#sb44)" fill-opacity="0.47"/>
<polygon points="246.4,261.4 300.0,245.1 300.3,246.1" fill="url(#sb56)" fill-opacity="0.12"/>
<polygon points="246.4,261.4 296.4,247.2 296.8,248.4" fill="url(#sb52)" fill-opacity="0.57"/>
<polygon points="246.4,261.4 289.0,250.4 289.2,251.3" fill="url(#sb44)" fill-opacity="0.10"/>
<polygon points="246.4,261.4 297.0,249.5 297.1,250.0" fill="url(#sb52)" fill-opacity="0.30"/>
<polygon points="246.4,261.4 297.4,251.0 297.5,251.7" fill="url(#sb52)" fill-opacity="0.10"/>
<polygon points="246.4,261.4 281.8,254.7 281.8,255.0" fill="url(#sb36)" fill-opacity="0.26"/>
<polygon points="246.4,261.4 293.6,252.9 293.8,253.6" fill="url(#sb48)" fill-opacity="0.18"/>
<polygon points="246.4,261.4 281.9,255.5 282.0,256.3" fill="url(#sb36)" fill-opacity="0.51"/>
<polygon points="246.4,261.4 282.0,256.3 282.1,256.8" fill="url(#sb36)" fill-opacity="0.37"/>
<polygon points="246.4,261.4 290.0,255.8 290.2,256.9" fill="url(#sb44)" fill-opacity="0.21"/>
<polygon points="246.4,261.4 294.2,256.5 294.2,257.0" fill="url(#sb48)" fill-opacity="0.24"/>
<polygon points="246.4,261.4 306.2,255.9 306.3,257.2" fill="url(#sb60)" fill-opacity="0.40"/>
<polygon points="246.4,261.4 290.3,259.0 290.4,259.5" fill="url(#sb44)" fill-opacity="0.19"/>
<polygon points="246.4,261.4 278.4,260.0 278.4,260.4" fill="url(#sb32)" fill-opacity="0.32"/>
<polygon points="246.4,261.4 282.4,260.3 282.4,261.2" fill="url(#sb36)" fill-opacity="0.34"/>
<polygon points="246.4,261.4 302.4,261.1 302.4,262.2" fill="url(#sb56)" fill-opacity="0.15"/>
</g>
<line x1="238.4" y1="257.9" x2="210.4" y2="245.89999999999998" stroke="#ddd" stroke-opacity="0.7" stroke-width="1"/>
<circle cx="246.4" cy="261.4" r="4.3" fill="#5a5a5a"/>
<polygon points="241.0,277.4 236.7,281.7 236.1,284.1 241.0,286.0 244.7,289.6 248.4,293.3 251.5,298.2 255.8,305.6 259.4,310.5 263.1,315.4 266.8,320.3 269.3,325.8 270.7,326.4 269.5,319.7 265.8,316.0 264.6,312.3 261.5,309.9 260.3,303.1 257.8,302.5 254.8,298.8 252.3,295.1 248.6,290.2 246.2,287.2 242.5,281.6 241.3,278.6" fill="#f0f0f0" stroke="#d0d0d0" stroke-width="2" stroke-linejoin="round"/>
<polygon points="274.2,332.6 277.9,327.7 281.5,325.8 283.4,330.1 281.5,332.6 278.5,333.8 277.2,337.5 276.0,336.9" fill="#f0f0f0" stroke="#d0d0d0" stroke-width="2" stroke-linejoin="round"/>
<polygon points="239.0,259.2 241.8,259.5 241.5,262.0 239.5,262.0" fill="#f0f0f0" stroke="#d0d0d0" stroke-width="2" stroke-linejoin="round"/>
<polygon points="284.5,336.0 287.0,334.0 289.0,338.0 286.0,339.0" fill="#f0f0f0" stroke="#d0d0d0" stroke-width="2" stroke-linejoin="round"/>
<polygon points="258.8,308.0 264.8,313.0 268.8,318.0 271.8,324.0 269.8,326.0 265.8,320.0 260.8,314.0" fill="#f0f0f0" stroke="#d0d0d0" stroke-width="2" stroke-linejoin="round"/>
<polygon points="262.8,306.0 267.8,312.0 270.8,318.0 268.8,319.0 264.8,313.0" fill="#f0f0f0" stroke="#d0d0d0" stroke-width="2" stroke-linejoin="round"/>
<polygon points="275.3,333.5 278.8,328.0 282.3,326.5 281.8,331.0 277.8,335.0 275.8,337.0" fill="#f0f0f0" stroke="#d0d0d0" stroke-width="2" stroke-linejoin="round"/>
<polygon points="276.8,334.0 280.8,330.0 282.8,331.0 278.8,335.0" fill="#f0f0f0" stroke="#d0d0d0" stroke-width="2" stroke-linejoin="round"/>
<polygon points="286.6,339.2 288.8,337.5 291.8,339.0 295.0,343.4 290.8,341.5 288.8,345.0 288.8,352.0 288.0,360.9 286.3,355.0 286.8,346.0" fill="#f0f0f0" stroke="#d0d0d0" stroke-width="2" stroke-linejoin="round"/>
<polygon points="288.8,342.0 290.8,341.0 295.0,343.4 290.8,343.0 288.8,348.0 288.8,355.0 287.8,358.0" fill="#f0f0f0" stroke="#d0d0d0" stroke-width="2" stroke-linejoin="round"/>
<polygon points="299.2,346.2 300.8,346.0 306.2,351.0 304.8,353.9 301.8,351.0" fill="#f0f0f0" stroke="#d0d0d0" stroke-width="2" stroke-linejoin="round"/>
<polygon points="302.3,350.5 306.2,351.5 304.8,354.0 301.8,352.0" fill="#f0f0f0" stroke="#d0d0d0" stroke-width="2" stroke-linejoin="round"/>
<polygon points="310.4,356.0 311.8,348.0 315.8,347.0 318.8,349.0 322.8,345.0 327.3,347.6 322.8,352.0 316.8,352.0 313.8,360.0 311.8,362.0" fill="#f0f0f0" stroke="#d0d0d0" stroke-width="2" stroke-linejoin="round"/>
<polygon points="312.8,356.0 315.8,350.0 320.8,351.0 324.8,349.0 327.3,348.0 323.8,353.0 317.8,354.0 313.8,362.0" fill="#f0f0f0" stroke="#d0d0d0" stroke-width="2" stroke-linejoin="round"/>
<polygon points="82.2,276.8 88.5,276.0 87.8,284.0 88.5,293.4 90.1,301.3 94.1,306.9 92.5,309.2 89.3,308.4 84.6,304.5 82.2,296.6 81.4,291.9 83.0,284.0" fill="#f0f0f0" stroke="#d0d0d0" stroke-width="2" stroke-linejoin="round"/>
<polygon points="82.2,276.8 84.3,276.5 83.8,284.0 83.8,292.0 85.8,299.0 89.8,305.0 87.8,307.0 83.8,303.0 81.8,296.0 81.2,291.0 82.3,284.0" fill="#f0f0f0" stroke="#d0d0d0" stroke-width="2" stroke-linejoin="round"/>
<polygon points="105.1,305.3 107.8,305.0 110.8,308.0 114.8,310.0 116.2,314.0 111.8,316.0 109.8,315.6 108.8,311.0 105.8,308.0" fill="#f0f0f0" stroke="#d0d0d0" stroke-width="2" stroke-linejoin="round"/>
<polygon points="105.8,306.0 107.8,306.0 109.8,310.0 110.3,315.0 108.8,313.0 106.8,309.0" fill="#f0f0f0" stroke="#d0d0d0" stroke-width="2" stroke-linejoin="round"/>
<polygon points="85.4,328.2 88.5,327.4 94.9,328.2 102.0,336.1 104.3,339.2 100.4,341.6 95.7,337.7 90.9,331.4" fill="#f0f0f0" stroke="#d0d0d0" stroke-width="2" stroke-linejoin="round"/>
<polygon points="90.8,330.5 93.8,330.0 98.8,336.0 100.3,340.0 97.8,339.0 93.8,334.0" fill="#f0f0f0" stroke="#d0d0d0" stroke-width="2" stroke-linejoin="round"/>
<polygon points="105.9,337.7 108.8,337.0 111.8,340.0 114.8,343.0 117.0,347.0 113.8,348.7 108.8,346.0 106.8,342.0" fill="#f0f0f0" stroke="#d0d0d0" stroke-width="2" stroke-linejoin="round"/>
<polygon points="107.8,339.0 109.8,339.0 110.8,343.0 112.8,347.0 109.8,347.0 107.8,343.0" fill="#f0f0f0" stroke="#d0d0d0" stroke-width="2" stroke-linejoin="round"/>
<polygon points="241.0,277.4 236.7,281.7 236.1,284.1 241.0,286.0 244.7,289.6 248.4,293.3 251.5,298.2 255.8,305.6 259.4,310.5 263.1,315.4 266.8,320.3 269.3,325.8 270.7,326.4 269.5,319.7 265.8,316.0 264.6,312.3 261.5,309.9 260.3,303.1 257.8,302.5 254.8,298.8 252.3,295.1 248.6,290.2 246.2,287.2 242.5,281.6 241.3,278.6" fill="#ffff00" stroke="#ffff00" stroke-width="0.6" stroke-linejoin="round"/>
<polygon points="274.2,332.6 277.9,327.7 281.5,325.8 283.4,330.1 281.5,332.6 278.5,333.8 277.2,337.5 276.0,336.9" fill="#ffff00" stroke="#ffff00" stroke-width="0.6" stroke-linejoin="round"/>
<polygon points="239.0,259.2 241.8,259.5 241.5,262.0 239.5,262.0" fill="#ffff00" stroke="#ffff00" stroke-width="0.6" stroke-linejoin="round"/>
<polygon points="284.5,336.0 287.0,334.0 289.0,338.0 286.0,339.0" fill="#ffff00" stroke="#ffff00" stroke-width="0.6" stroke-linejoin="round"/>
<polygon points="258.8,308.0 264.8,313.0 268.8,318.0 271.8,324.0 269.8,326.0 265.8,320.0 260.8,314.0" fill="#ffff00" stroke="#ffff00" stroke-width="0.6" stroke-linejoin="round"/>
<polygon points="262.8,306.0 267.8,312.0 270.8,318.0 268.8,319.0 264.8,313.0" fill="#ffff00" stroke="#ffff00" stroke-width="0.6" stroke-linejoin="round"/>
<polygon points="275.3,333.5 278.8,328.0 282.3,326.5 281.8,331.0 277.8,335.0 275.8,337.0" fill="#ffff00" stroke="#ffff00" stroke-width="0.6" stroke-linejoin="round"/>
<polygon points="276.8,334.0 280.8,330.0 282.8,331.0 278.8,335.0" fill="#ffff00" stroke="#ffff00" stroke-width="0.6" stroke-linejoin="round"/>
<polygon points="286.6,339.2 288.8,337.5 291.8,339.0 295.0,343.4 290.8,341.5 288.8,345.0 288.8,352.0 288.0,360.9 286.3,355.0 286.8,346.0" fill="#ffff00" stroke="#ffff00" stroke-width="0.6" stroke-linejoin="round"/>
<polygon points="288.8,342.0 290.8,341.0 295.0,343.4 290.8,343.0 288.8,348.0 288.8,355.0 287.8,358.0" fill="#ffff00" stroke="#ffff00" stroke-width="0.6" stroke-linejoin="round"/>
<polygon points="299.2,346.2 300.8,346.0 306.2,351.0 304.8,353.9 301.8,351.0" fill="#ffff00" stroke="#ffff00" stroke-width="0.6" stroke-linejoin="round"/>
<polygon points="302.3,350.5 306.2,351.5 304.8,354.0 301.8,352.0" fill="#ffff00" stroke="#ffff00" stroke-width="0.6" stroke-linejoin="round"/>
<polygon points="310.4,356.0 311.8,348.0 315.8,347.0 318.8,349.0 322.8,345.0 327.3,347.6 322.8,352.0 316.8,352.0 313.8,360.0 311.8,362.0" fill="#ffff00" stroke="#ffff00" stroke-width="0.6" stroke-linejoin="round"/>
<polygon points="312.8,356.0 315.8,350.0 320.8,351.0 324.8,349.0 327.3,348.0 323.8,353.0 317.8,354.0 313.8,362.0" fill="#ffff00" stroke="#ffff00" stroke-width="0.6" stroke-linejoin="round"/>
<polygon points="82.2,276.8 88.5,276.0 87.8,284.0 88.5,293.4 90.1,301.3 94.1,306.9 92.5,309.2 89.3,308.4 84.6,304.5 82.2,296.6 81.4,291.9 83.0,284.0" fill="#ffff00" stroke="#ffff00" stroke-width="0.6" stroke-linejoin="round"/>
<polygon points="82.2,276.8 84.3,276.5 83.8,284.0 83.8,292.0 85.8,299.0 89.8,305.0 87.8,307.0 83.8,303.0 81.8,296.0 81.2,291.0 82.3,284.0" fill="#ffff00" stroke="#ffff00" stroke-width="0.6" stroke-linejoin="round"/>
<polygon points="105.1,305.3 107.8,305.0 110.8,308.0 114.8,310.0 116.2,314.0 111.8,316.0 109.8,315.6 108.8,311.0 105.8,308.0" fill="#ffff00" stroke="#ffff00" stroke-width="0.6" stroke-linejoin="round"/>
<polygon points="105.8,306.0 107.8,306.0 109.8,310.0 110.3,315.0 108.8,313.0 106.8,309.0" fill="#ffff00" stroke="#ffff00" stroke-width="0.6" stroke-linejoin="round"/>
<polygon points="85.4,328.2 88.5,327.4 94.9,328.2 102.0,336.1 104.3,339.2 100.4,341.6 95.7,337.7 90.9,331.4" fill="#ffff00" stroke="#ffff00" stroke-width="0.6" stroke-linejoin="round"/>
<polygon points="90.8,330.5 93.8,330.0 98.8,336.0 100.3,340.0 97.8,339.0 93.8,334.0" fill="#ffff00" stroke="#ffff00" stroke-width="0.6" stroke-linejoin="round"/>
<polygon points="105.9,337.7 108.8,337.0 111.8,340.0 114.8,343.0 117.0,347.0 113.8,348.7 108.8,346.0 106.8,342.0" fill="#ffff00" stroke="#ffff00" stroke-width="0.6" stroke-linejoin="round"/>
<polygon points="107.8,339.0 109.8,339.0 110.8,343.0 112.8,347.0 109.8,347.0 107.8,343.0" fill="#ffff00" stroke="#ffff00" stroke-width="0.6" stroke-linejoin="round"/>
<path d="M243 281.8L247 287.2M253.2 295.8L258.6 303.6M262.6 310.8L265.8 315.2" stroke="#fffff4" stroke-width="1.6" fill="none" stroke-linecap="round"/>
<line x1="230" y1="284.5" x2="236.5" y2="275.5" stroke="#ffff80" stroke-width="1.5"/>
<line x1="240" y1="263" x2="242" y2="265" stroke="#ffff00" stroke-width="1.5"/>
<line x1="212.6" y1="144.2" x2="213.6" y2="147.5" stroke="#bbb" stroke-width="1"/>
<circle cx="213.8" cy="148.3" r="1.3" fill="#ffff00"/>
<line x1="205.5" y1="316.5" x2="210" y2="309" stroke="#ffff00" stroke-width="2"/>
<line x1="306" y1="235.5" x2="311" y2="233.5" stroke="#ffff00" stroke-width="2"/>
<line x1="98.80000000000001" y1="322.7" x2="109.90000000000003" y2="317.1" stroke="#ffff00" stroke-width="1"/>
<g fill="none" stroke="#fff" stroke-width="1.25" stroke-linejoin="round">
<polyline points="59.0,179.1 68.7,179.1 70.8,177.8 72.8,173.6 74.9,173.1 78.5,175.2 82.7,176.7 87.8,181.2 98.2,178.3 108.5,173.6 117.8,167.7 126.6,162.2 127.7,161.7 128.0,155.0 130.2,154.5 130.5,149.8 133.1,147.4 130.2,143.6 128.2,145.7 125.9,142.6 125.1,141.6 126.4,140.7 128.5,135.9 131.2,134.1 153.3,133.1 154.0,146.2 162.2,145.5 163.6,139.3 162.2,134.5 165.7,133.8 167.8,131.7 171.2,135.2 178.1,135.9 186.4,139.3 190.0,137.6 197.4,138.0 202.6,139.3 205.0,142.8 208.4,143.6 213.0,141.0 217.6,142.8 221.0,141.0 224.5,136.4 228.0,138.2 231.4,137.6 234.8,133.0 238.3,135.9 242.9,131.3 239.4,130.1 244.0,128.4 249.8,125.5 253.8,123.8 253.8,126.1 256.7,127.8 259.5,127.2 260.1,123.2 262.4,121.5 263.0,116.3 271.0,116.9 272.2,120.9 276.2,120.9 277.7,121.8 279.5,122.7 280.4,127.3 281.3,131.9 282.8,133.8 282.2,138.4 278.6,137.4 274.9,137.4 277.7,145.7 284.1,144.3 284.6,140.2 286.8,141.1 289.6,144.8 293.3,143.5 292.4,137.4 294.2,137.4 295.1,141.1 305.2,136.5 303.4,131.0 301.6,129.2 294.2,131.9 287.8,128.8 294.2,124.6 286.8,109.9 298.8,104.3 308.9,122.7 312.6,122.2 313.5,125.5 309.8,128.3 308.9,130.1 319.0,127.3 316.3,120.0 314.4,116.3 317.2,116.3 319.6,119.1 324.5,116.3 323.6,113.5 321.8,112.6 311.6,103.0 317.9,96.3 332.3,107.9 337.6,101.2 335.1,99.1 332.7,101.6 320.0,90.4 323.2,81.2 329.9,79.0 336.9,81.2 350.9,85.1 352.0,82.6 352.3,75.0"/>
<polyline points="98.5,75.0 96.9,77.6 93.3,80.8 92.1,83.3 90.9,84.9 91.7,88.1 92.1,93.7 91.3,96.1 94.5,97.7 96.1,101.8 98.5,106.6 101.7,111.0 105.3,111.3 108.2,111.4 111.8,108.2 114.2,109.0 116.6,107.4 120.6,106.6 122.2,103.4 122.6,99.8 127.1,97.7 128.3,95.3 129.9,90.9 134.3,89.7 132.3,86.5 133.5,82.5 131.9,78.4 131.7,75.0"/>
<polyline points="342.5,75.3 346.0,76.3 347.0,79.8 348.8,78.0 349.3,75.5"/>
<polyline points="247.3,112.6 249.1,117.2"/>
</g>
<circle cx="86.8" cy="85.3" r="1.2" fill="#fff"/>
</g>
<g stroke="#000" fill="none">
<rect x="59.0" y="74.4" width="374.5" height="374.6" stroke-width="2"/>
<line x1="59.00" y1="74.4" x2="59.00" y2="59.7" stroke-width="1.8"/>
<line x1="59.00" y1="449.0" x2="59.00" y2="463.7" stroke-width="1.8"/>
<line x1="59.0" y1="74.40" x2="44.3" y2="74.40" stroke-width="1.8"/>
<line x1="433.5" y1="74.40" x2="448.2" y2="74.40" stroke-width="1.8"/>
<line x1="70.70" y1="74.4" x2="70.70" y2="67.4" stroke-width="1.2"/>
<line x1="70.70" y1="449.0" x2="70.70" y2="456.0" stroke-width="1.2"/>
<line x1="59.0" y1="86.11" x2="52.0" y2="86.11" stroke-width="1.2"/>
<line x1="433.5" y1="86.11" x2="440.5" y2="86.11" stroke-width="1.2"/>
<line x1="82.41" y1="74.4" x2="82.41" y2="67.4" stroke-width="1.2"/>
<line x1="82.41" y1="449.0" x2="82.41" y2="456.0" stroke-width="1.2"/>
<line x1="59.0" y1="97.81" x2="52.0" y2="97.81" stroke-width="1.2"/>
<line x1="433.5" y1="97.81" x2="440.5" y2="97.81" stroke-width="1.2"/>
<line x1="94.11" y1="74.4" x2="94.11" y2="67.4" stroke-width="1.2"/>
<line x1="94.11" y1="449.0" x2="94.11" y2="456.0" stroke-width="1.2"/>
<line x1="59.0" y1="109.52" x2="52.0" y2="109.52" stroke-width="1.2"/>
<line x1="433.5" y1="109.52" x2="440.5" y2="109.52" stroke-width="1.2"/>
<line x1="105.81" y1="74.4" x2="105.81" y2="67.4" stroke-width="1.2"/>
<line x1="105.81" y1="449.0" x2="105.81" y2="456.0" stroke-width="1.2"/>
<line x1="59.0" y1="121.23" x2="52.0" y2="121.23" stroke-width="1.2"/>
<line x1="433.5" y1="121.23" x2="440.5" y2="121.23" stroke-width="1.2"/>
<line x1="117.52" y1="74.4" x2="117.52" y2="67.4" stroke-width="1.2"/>
<line x1="117.52" y1="449.0" x2="117.52" y2="456.0" stroke-width="1.2"/>
<line x1="59.0" y1="132.93" x2="52.0" y2="132.93" stroke-width="1.2"/>
<line x1="433.5" y1="132.93" x2="440.5" y2="132.93" stroke-width="1.2"/>
<line x1="129.22" y1="74.4" x2="129.22" y2="67.4" stroke-width="1.2"/>
<line x1="129.22" y1="449.0" x2="129.22" y2="456.0" stroke-width="1.2"/>
<line x1="59.0" y1="144.64" x2="52.0" y2="144.64" stroke-width="1.2"/>
<line x1="433.5" y1="144.64" x2="440.5" y2="144.64" stroke-width="1.2"/>
<line x1="140.92" y1="74.4" x2="140.92" y2="67.4" stroke-width="1.2"/>
<line x1="140.92" y1="449.0" x2="140.92" y2="456.0" stroke-width="1.2"/>
<line x1="59.0" y1="156.34" x2="52.0" y2="156.34" stroke-width="1.2"/>
<line x1="433.5" y1="156.34" x2="440.5" y2="156.34" stroke-width="1.2"/>
<line x1="152.62" y1="74.4" x2="152.62" y2="59.7" stroke-width="1.8"/>
<line x1="152.62" y1="449.0" x2="152.62" y2="463.7" stroke-width="1.8"/>
<line x1="59.0" y1="168.05" x2="44.3" y2="168.05" stroke-width="1.8"/>
<line x1="433.5" y1="168.05" x2="448.2" y2="168.05" stroke-width="1.8"/>
<line x1="164.33" y1="74.4" x2="164.33" y2="67.4" stroke-width="1.2"/>
<line x1="164.33" y1="449.0" x2="164.33" y2="456.0" stroke-width="1.2"/>
<line x1="59.0" y1="179.76" x2="52.0" y2="179.76" stroke-width="1.2"/>
<line x1="433.5" y1="179.76" x2="440.5" y2="179.76" stroke-width="1.2"/>
<line x1="176.03" y1="74.4" x2="176.03" y2="67.4" stroke-width="1.2"/>
<line x1="176.03" y1="449.0" x2="176.03" y2="456.0" stroke-width="1.2"/>
<line x1="59.0" y1="191.46" x2="52.0" y2="191.46" stroke-width="1.2"/>
<line x1="433.5" y1="191.46" x2="440.5" y2="191.46" stroke-width="1.2"/>
<line x1="187.73" y1="74.4" x2="187.73" y2="67.4" stroke-width="1.2"/>
<line x1="187.73" y1="449.0" x2="187.73" y2="456.0" stroke-width="1.2"/>
<line x1="59.0" y1="203.17" x2="52.0" y2="203.17" stroke-width="1.2"/>
<line x1="433.5" y1="203.17" x2="440.5" y2="203.17" stroke-width="1.2"/>
<line x1="199.44" y1="74.4" x2="199.44" y2="67.4" stroke-width="1.2"/>
<line x1="199.44" y1="449.0" x2="199.44" y2="456.0" stroke-width="1.2"/>
<line x1="59.0" y1="214.88" x2="52.0" y2="214.88" stroke-width="1.2"/>
<line x1="433.5" y1="214.88" x2="440.5" y2="214.88" stroke-width="1.2"/>
<line x1="211.14" y1="74.4" x2="211.14" y2="67.4" stroke-width="1.2"/>
<line x1="211.14" y1="449.0" x2="211.14" y2="456.0" stroke-width="1.2"/>
<line x1="59.0" y1="226.58" x2="52.0" y2="226.58" stroke-width="1.2"/>
<line x1="433.5" y1="226.58" x2="440.5" y2="226.58" stroke-width="1.2"/>
<line x1="222.84" y1="74.4" x2="222.84" y2="67.4" stroke-width="1.2"/>
<line x1="222.84" y1="449.0" x2="222.84" y2="456.0" stroke-width="1.2"/>
<line x1="59.0" y1="238.29" x2="52.0" y2="238.29" stroke-width="1.2"/>
<line x1="433.5" y1="238.29" x2="440.5" y2="238.29" stroke-width="1.2"/>
<line x1="234.55" y1="74.4" x2="234.55" y2="67.4" stroke-width="1.2"/>
<line x1="234.55" y1="449.0" x2="234.55" y2="456.0" stroke-width="1.2"/>
<line x1="59.0" y1="249.99" x2="52.0" y2="249.99" stroke-width="1.2"/>
<line x1="433.5" y1="249.99" x2="440.5" y2="249.99" stroke-width="1.2"/>
<line x1="246.25" y1="74.4" x2="246.25" y2="59.7" stroke-width="1.8"/>
<line x1="246.25" y1="449.0" x2="246.25" y2="463.7" stroke-width="1.8"/>
<line x1="59.0" y1="261.70" x2="44.3" y2="261.70" stroke-width="1.8"/>
<line x1="433.5" y1="261.70" x2="448.2" y2="261.70" stroke-width="1.8"/>
<line x1="257.95" y1="74.4" x2="257.95" y2="67.4" stroke-width="1.2"/>
<line x1="257.95" y1="449.0" x2="257.95" y2="456.0" stroke-width="1.2"/>
<line x1="59.0" y1="273.41" x2="52.0" y2="273.41" stroke-width="1.2"/>
<line x1="433.5" y1="273.41" x2="440.5" y2="273.41" stroke-width="1.2"/>
<line x1="269.66" y1="74.4" x2="269.66" y2="67.4" stroke-width="1.2"/>
<line x1="269.66" y1="449.0" x2="269.66" y2="456.0" stroke-width="1.2"/>
<line x1="59.0" y1="285.11" x2="52.0" y2="285.11" stroke-width="1.2"/>
<line x1="433.5" y1="285.11" x2="440.5" y2="285.11" stroke-width="1.2"/>
<line x1="281.36" y1="74.4" x2="281.36" y2="67.4" stroke-width="1.2"/>
<line x1="281.36" y1="449.0" x2="281.36" y2="456.0" stroke-width="1.2"/>
<line x1="59.0" y1="296.82" x2="52.0" y2="296.82" stroke-width="1.2"/>
<line x1="433.5" y1="296.82" x2="440.5" y2="296.82" stroke-width="1.2"/>
<line x1="293.06" y1="74.4" x2="293.06" y2="67.4" stroke-width="1.2"/>
<line x1="293.06" y1="449.0" x2="293.06" y2="456.0" stroke-width="1.2"/>
<line x1="59.0" y1="308.52" x2="52.0" y2="308.52" stroke-width="1.2"/>
<line x1="433.5" y1="308.52" x2="440.5" y2="308.52" stroke-width="1.2"/>
<line x1="304.77" y1="74.4" x2="304.77" y2="67.4" stroke-width="1.2"/>
<line x1="304.77" y1="449.0" x2="304.77" y2="456.0" stroke-width="1.2"/>
<line x1="59.0" y1="320.23" x2="52.0" y2="320.23" stroke-width="1.2"/>
<line x1="433.5" y1="320.23" x2="440.5" y2="320.23" stroke-width="1.2"/>
<line x1="316.47" y1="74.4" x2="316.47" y2="67.4" stroke-width="1.2"/>
<line x1="316.47" y1="449.0" x2="316.47" y2="456.0" stroke-width="1.2"/>
<line x1="59.0" y1="331.94" x2="52.0" y2="331.94" stroke-width="1.2"/>
<line x1="433.5" y1="331.94" x2="440.5" y2="331.94" stroke-width="1.2"/>
<line x1="328.17" y1="74.4" x2="328.17" y2="67.4" stroke-width="1.2"/>
<line x1="328.17" y1="449.0" x2="328.17" y2="456.0" stroke-width="1.2"/>
<line x1="59.0" y1="343.64" x2="52.0" y2="343.64" stroke-width="1.2"/>
<line x1="433.5" y1="343.64" x2="440.5" y2="343.64" stroke-width="1.2"/>
<line x1="339.88" y1="74.4" x2="339.88" y2="59.7" stroke-width="1.8"/>
<line x1="339.88" y1="449.0" x2="339.88" y2="463.7" stroke-width="1.8"/>
<line x1="59.0" y1="355.35" x2="44.3" y2="355.35" stroke-width="1.8"/>
<line x1="433.5" y1="355.35" x2="448.2" y2="355.35" stroke-width="1.8"/>
<line x1="351.58" y1="74.4" x2="351.58" y2="67.4" stroke-width="1.2"/>
<line x1="351.58" y1="449.0" x2="351.58" y2="456.0" stroke-width="1.2"/>
<line x1="59.0" y1="367.06" x2="52.0" y2="367.06" stroke-width="1.2"/>
<line x1="433.5" y1="367.06" x2="440.5" y2="367.06" stroke-width="1.2"/>
<line x1="363.28" y1="74.4" x2="363.28" y2="67.4" stroke-width="1.2"/>
<line x1="363.28" y1="449.0" x2="363.28" y2="456.0" stroke-width="1.2"/>
<line x1="59.0" y1="378.76" x2="52.0" y2="378.76" stroke-width="1.2"/>
<line x1="433.5" y1="378.76" x2="440.5" y2="378.76" stroke-width="1.2"/>
<line x1="374.98" y1="74.4" x2="374.98" y2="67.4" stroke-width="1.2"/>
<line x1="374.98" y1="449.0" x2="374.98" y2="456.0" stroke-width="1.2"/>
<line x1="59.0" y1="390.47" x2="52.0" y2="390.47" stroke-width="1.2"/>
<line x1="433.5" y1="390.47" x2="440.5" y2="390.47" stroke-width="1.2"/>
<line x1="386.69" y1="74.4" x2="386.69" y2="67.4" stroke-width="1.2"/>
<line x1="386.69" y1="449.0" x2="386.69" y2="456.0" stroke-width="1.2"/>
<line x1="59.0" y1="402.18" x2="52.0" y2="402.18" stroke-width="1.2"/>
<line x1="433.5" y1="402.18" x2="440.5" y2="402.18" stroke-width="1.2"/>
<line x1="398.39" y1="74.4" x2="398.39" y2="67.4" stroke-width="1.2"/>
<line x1="398.39" y1="449.0" x2="398.39" y2="456.0" stroke-width="1.2"/>
<line x1="59.0" y1="413.88" x2="52.0" y2="413.88" stroke-width="1.2"/>
<line x1="433.5" y1="413.88" x2="440.5" y2="413.88" stroke-width="1.2"/>
<line x1="410.09" y1="74.4" x2="410.09" y2="67.4" stroke-width="1.2"/>
<line x1="410.09" y1="449.0" x2="410.09" y2="456.0" stroke-width="1.2"/>
<line x1="59.0" y1="425.59" x2="52.0" y2="425.59" stroke-width="1.2"/>
<line x1="433.5" y1="425.59" x2="440.5" y2="425.59" stroke-width="1.2"/>
<line x1="421.80" y1="74.4" x2="421.80" y2="67.4" stroke-width="1.2"/>
<line x1="421.80" y1="449.0" x2="421.80" y2="456.0" stroke-width="1.2"/>
<line x1="59.0" y1="437.29" x2="52.0" y2="437.29" stroke-width="1.2"/>
<line x1="433.5" y1="437.29" x2="440.5" y2="437.29" stroke-width="1.2"/>
<line x1="433.50" y1="74.4" x2="433.50" y2="59.7" stroke-width="1.8"/>
<line x1="433.50" y1="449.0" x2="433.50" y2="463.7" stroke-width="1.8"/>
<line x1="59.0" y1="449.00" x2="44.3" y2="449.00" stroke-width="1.8"/>
<line x1="433.5" y1="449.00" x2="448.2" y2="449.00" stroke-width="1.8"/>
</g>
<text x="59.0" y="499.7" text-anchor="middle" class="d">−8</text>
<text x="31.8" y="458.8" text-anchor="end" class="d">−8</text>
<text x="152.6" y="499.7" text-anchor="middle" class="d">−4</text>
<text x="31.8" y="365.2" text-anchor="end" class="d">−4</text>
<text x="246.2" y="499.7" text-anchor="middle" class="d">0</text>
<text x="31.8" y="271.5" text-anchor="end" class="d">0</text>
<text x="339.9" y="499.7" text-anchor="middle" class="d">4</text>
<text x="31.8" y="177.8" text-anchor="end" class="d">4</text>
<text x="433.5" y="499.7" text-anchor="middle" class="d">8</text>
<text x="31.8" y="84.2" text-anchor="end" class="d">8</text>
<rect x="480.2" y="74.4" width="374.7" height="374.6" fill="#fff"/>
<g clip-path="url(#cr)">
<polygon points="663.1,257.3 645.8,241.8 649.6,238.9 646.8,230.3 644.8,224.5 647.7,219.6 649.6,215.8 650.6,214.8 654.5,219.6 658.3,217.7 660.3,222.5 665.1,223.5 668.0,218.7 669.9,224.5 672.8,227.4 676.6,227.4 680.5,229.3 682.4,223.5 685.3,220.6 687.3,217.7 690.1,221.6 694.0,229.3 697.9,231.2 699.8,233.1 694.0,235.1 688.2,238.9 680.5,238.0 676.6,240.9 672.8,243.8 671.8,248.6 671.8,254.4 668.9,257.3" fill="#ff3c08"/>
<polygon points="667.0,256.0 664.0,236.0 666.0,224.0 668.0,218.7 669.9,224.5 672.8,227.4 676.6,227.4 680.5,229.3 682.4,223.5 685.3,220.6 687.3,217.7 690.1,221.6 694.0,229.3 697.9,231.2 699.8,233.1 694.0,235.1 688.2,238.9 680.5,238.0 676.6,240.9 672.8,243.8 671.8,248.6 671.8,254.4 668.9,257.3" fill="#f81800"/>
<polygon points="683.3,224.0 690.3,228.4 702.9,229.8 704.3,228.4 705.7,231.2 697.3,238.3 707.1,241.1 708.5,242.5 695.9,248.1 694.5,253.7 702.9,257.9 697.3,259.3 702.9,270.6 697.3,272.0 698.7,279.0 704.3,286.0 700.1,287.4 694.5,286.0 688.9,281.8 690.3,290.2 687.9,290.5 685.8,296.8 680.6,294.7 677.4,287.3 671.1,281.0 667.9,272.5 667.8,266.3 672.0,262.1 672.0,256.5 670.6,250.9 673.4,245.3 677.6,239.7 680.4,235.4 686.1,231.2" fill="#000066"/>
<polygon points="662.5,262.5 657.9,261.9 631.5,264.2 630.3,266.5 635.0,271.1 640.7,276.8 648.7,272.2 662.5,265.3" fill="#ff5a10"/>
<polygon points="623.5,265.0 626.0,264.5 627.0,268.0 624.0,269.0" fill="#ff5a10"/>
<polygon points="662.6,267.3 666.9,266.2 668.5,272.0 671.1,281.0 677.4,287.3 680.6,294.7 685.8,296.8 687.9,290.5 690.5,290.0 692.0,296.0 690.0,303.0 687.0,310.0 688.0,316.0 690.0,321.0 686.0,322.0 681.6,311.5 675.3,304.1 658.4,284.1 659.5,281.0" fill="#f00000"/>
<polygon points="658.4,283.6 675.3,303.6 681.6,311.0 685.8,315.2 690.5,321.0 688.0,323.5 683.0,318.0 677.0,311.0 672.0,305.5 660.0,291.0 657.0,286.0" fill="#000066"/>
<polygon points="680.0,308.0 686.0,313.0 690.0,318.0 693.0,324.0 691.0,326.0 687.0,320.0 682.0,314.0" fill="#000066"/>
<polygon points="684.0,306.0 689.0,312.0 692.0,318.0 690.0,319.0 686.0,313.0" fill="#f00000"/>
<polygon points="696.5,333.5 700.0,328.0 703.5,326.5 703.0,331.0 699.0,335.0 697.0,337.0" fill="#f00000"/>
<polygon points="698.0,334.0 702.0,330.0 704.0,331.0 700.0,335.0" fill="#000066"/>
<polygon points="707.8,339.2 710.0,337.5 713.0,339.0 716.2,343.4 712.0,341.5 710.0,345.0 710.0,352.0 709.2,360.9 707.5,355.0 708.0,346.0" fill="#f00000"/>
<polygon points="710.0,342.0 712.0,341.0 716.2,343.4 712.0,343.0 710.0,348.0 710.0,355.0 709.0,358.0" fill="#000066"/>
<polygon points="720.4,346.2 722.0,346.0 727.4,351.0 726.0,353.9 723.0,351.0" fill="#f00000"/>
<polygon points="723.5,350.5 727.4,351.5 726.0,354.0 723.0,352.0" fill="#000066"/>
<polygon points="731.6,356.0 733.0,348.0 737.0,347.0 740.0,349.0 744.0,345.0 748.5,347.6 744.0,352.0 738.0,352.0 735.0,360.0 733.0,362.0" fill="#f00000"/>
<polygon points="734.0,356.0 737.0,350.0 742.0,351.0 746.0,349.0 748.5,348.0 745.0,353.0 739.0,354.0 735.0,362.0" fill="#000066"/>
<polygon points="503.4,276.8 509.7,276.0 509.0,284.0 509.7,293.4 511.3,301.3 515.3,306.9 513.7,309.2 510.5,308.4 505.8,304.5 503.4,296.6 502.6,291.9 504.2,284.0" fill="#f00000"/>
<polygon points="503.4,276.8 505.5,276.5 505.0,284.0 505.0,292.0 507.0,299.0 511.0,305.0 509.0,307.0 505.0,303.0 503.0,296.0 502.4,291.0 503.5,284.0" fill="#000066"/>
<polygon points="526.3,305.3 529.0,305.0 532.0,308.0 536.0,310.0 537.4,314.0 533.0,316.0 531.0,315.6 530.0,311.0 527.0,308.0" fill="#f00000"/>
<polygon points="527.0,306.0 529.0,306.0 531.0,310.0 531.5,315.0 530.0,313.0 528.0,309.0" fill="#000066"/>
<polygon points="506.6,328.2 509.7,327.4 516.1,328.2 523.2,336.1 525.5,339.2 521.6,341.6 516.9,337.7 512.1,331.4" fill="#f00000"/>
<polygon points="512.0,330.5 515.0,330.0 520.0,336.0 521.5,340.0 519.0,339.0 515.0,334.0" fill="#000066"/>
<polygon points="527.1,337.7 530.0,337.0 533.0,340.0 536.0,343.0 538.2,347.0 535.0,348.7 530.0,346.0 528.0,342.0" fill="#f00000"/>
<polygon points="529.0,339.0 531.0,339.0 532.0,343.0 534.0,347.0 531.0,347.0 529.0,343.0" fill="#000066"/>
<path fill="none" stroke="#000066" stroke-width="1.3" d="M692.6 273.3L700.5 277.0M686.0 283.1L692.3 290.5M690.7 282.2L697.9 288.6M685.4 232.4L689.3 226.2M674.2 280.5L677.1 288.3M681.5 290.7L684.0 295.7M693.4 263.1L699.6 263.5M696.9 268.9L704.6 270.8M684.3 231.7L687.3 226.4M690.0 251.8L698.9 248.1M684.9 279.2L689.0 283.3M686.0 283.4L689.7 287.8M692.5 272.9L697.6 275.2M683.5 231.2L687.9 223.0M696.4 242.7L701.5 239.4M671.3 276.9L673.6 285.9M689.8 252.6L698.9 249.0M696.7 268.5L704.9 270.4M695.9 242.6L704.0 237.3M698.4 282.9L706.5 288.5M682.4 291.2L685.3 297.0M691.8 256.5L697.5 255.3M699.9 232.5L703.8 229.0M689.4 253.4L697.0 250.7M683.6 231.3L687.6 223.9M689.4 255.6L695.8 253.9M685.8 285.5L690.3 291.4M689.1 254.4L696.1 252.2M696.8 283.3L701.0 286.5M671.8 277.5L673.1 282.4M686.0 278.9L692.8 285.1M684.7 231.9L689.2 224.2M692.3 256.7L700.0 255.2M684.0 231.5L686.6 227.0M693.2 242.1L701.1 236.3M694.9 242.4L702.2 237.5M678.4 289.2L682.0 298.2M690.0 255.8L696.6 254.2M695.9 267.2L704.6 269.0M693.4 233.6L699.3 227.2M686.0 283.4L692.1 290.5M686.0 232.8L691.3 224.6M691.4 233.5L695.7 228.4M692.3 272.3L701.1 276.1M689.6 255.7L698.9 253.3M697.0 269.0L703.4 270.6M689.0 254.5L694.7 252.7M689.9 233.4L693.5 229.0M698.6 282.9L706.8 288.5M700.6 234.1L704.6 230.7M671.0 276.6L672.9 284.0M695.2 258.9L701.4 258.3M691.9 270.9L700.4 274.2M692.8 262.2L699.9 262.4M687.5 233.3L693.1 225.6M685.7 232.6L689.7 226.3M684.3 286.1L687.5 290.7M692.3 282.7L699.7 289.0M692.9 274.0L700.9 278.0M693.2 233.6L698.1 228.3M700.0 232.8L707.0 226.8M689.6 253.0L696.4 250.4M670.4 275.6L672.3 284.7M671.7 277.4L673.6 284.4M694.2 264.4L702.8 265.3M693.8 263.7L700.2 264.3M696.3 258.6L702.0 258.1M693.5 257.1L703.4 255.5M672.8 278.8L675.3 286.6M694.7 265.2L701.3 266.1M691.1 233.5L695.3 228.6M685.5 281.2L691.8 288.1M691.8 256.5L700.5 254.7M685.2 280.3L691.1 286.4M695.5 278.3L703.0 282.8M692.0 256.5L700.4 254.9M690.0 251.9L696.8 249.1M685.1 279.7L691.0 285.7M689.6 252.9L698.7 249.4M693.4 275.8L700.3 279.7M684.2 231.7L688.0 224.9M701.8 243.9L709.3 240.1M693.1 262.7L702.2 263.1M693.3 275.6L701.2 279.9M690.4 255.9L698.4 254.1M691.1 282.3L698.0 288.4M690.6 256.0L699.6 254.0M683.6 289.3L687.8 296.6M671.7 277.4L674.3 286.8M695.6 266.7L703.1 268.1M700.8 234.5L708.0 228.8M674.8 281.2L677.4 288.1M698.3 282.9L705.3 287.8M692.6 282.8L697.0 286.6M685.4 281.0L690.8 286.8M695.7 278.6L701.8 282.3M692.7 273.4L700.7 277.2M693.0 274.6L700.7 278.5M685.3 232.4L688.4 227.4M692.3 261.3L700.5 261.3M697.6 243.0L704.8 238.6M692.9 274.0L697.5 276.4M693.5 263.2L699.6 263.7M687.4 233.3L690.7 228.7M689.0 254.5L694.7 252.7M694.6 242.4L698.8 239.4M693.2 262.8L700.1 263.2M692.4 272.4L699.6 275.6M700.0 243.5L708.4 238.9M683.4 231.2L686.8 225.0M690.1 251.7L696.5 249.0M694.2 233.6L700.6 227.0M693.2 257.0L698.3 256.1M692.4 272.5L697.4 274.7M697.0 269.0L703.5 270.7M691.8 270.0L701.0 273.2M685.8 285.5L690.1 291.2M686.3 285.5L691.3 292.0M692.7 256.8L698.3 255.8M692.0 271.1L699.2 273.9M673.0 279.1L676.1 288.5M692.3 272.1L698.5 274.8M682.4 291.2L684.7 295.6M693.3 233.6L698.7 227.9M692.4 272.7L697.7 275.0M692.8 273.9L701.3 278.1M693.4 257.1L700.5 255.9M698.5 243.2L704.1 239.9M671.9 277.7L673.8 284.3M672.7 278.7L675.6 287.8"/>
<path fill="none" stroke="#fff" stroke-width="1.0" d="M696.4 264.6L701.2 265.2M685.5 280.3L690.0 284.9M692.9 255.9L698.0 254.8M685.6 280.6L690.0 285.3M703.2 244.3L708.9 241.6M697.3 234.0L702.7 229.0M695.4 256.8L700.4 256.0M691.1 272.8L699.0 276.5M688.1 233.1L692.1 227.7M699.6 245.1L708.1 240.8M694.8 274.5L699.0 276.6M703.9 242.4L707.5 240.5M686.7 282.1L690.1 285.7M695.3 265.1L701.5 266.0M695.7 267.1L702.8 268.6M694.9 272.3L698.5 273.7M694.0 272.9L698.7 274.9M694.0 261.4L699.3 261.4M649.5 234.7L646.4 230.0M654.2 244.6L648.9 237.8M676.9 231.9L678.4 227.2M649.7 220.9L648.1 217.1M663.4 225.5L663.0 222.1M673.6 234.4L675.5 226.4M650.9 222.2L648.4 216.4M671.5 233.5L672.7 226.1M664.5 225.5L664.2 222.3M675.7 231.4L677.1 226.5M669.0 226.1L669.2 221.2M651.1 224.9L647.9 217.5M670.5 229.4L671.0 224.5M649.6 221.8L647.7 217.8M685.9 220.4L687.3 217.4M666.9 226.1L666.8 219.6M663.9 228.8L663.2 222.1M675.8 233.8L677.9 226.9M665.0 226.5L664.7 222.4M647.2 229.9L645.4 227.0M684.9 222.7L687.3 217.4M670.1 228.0L670.5 224.0M648.0 242.9L645.7 240.7M661.4 228.7L660.1 221.5M651.7 243.3L648.0 238.9M650.6 224.3L647.7 217.9"/>
<path fill="none" stroke="#ff2a00" stroke-width="1.3" d="M651.5 243.7L648.1 239.9M651.6 240.1L646.0 232.5M656.9 223.9L654.0 213.8M676.8 233.0L678.8 227.2M666.3 226.8L666.0 217.9M665.9 227.6L665.6 221.4M671.2 231.4L672.1 224.8M650.6 222.4L646.5 212.9M686.5 224.2L689.2 218.9M657.0 223.8L655.1 216.8M658.2 223.2L656.5 216.0M652.1 243.3L647.0 237.2M651.4 239.5L647.2 233.6M657.0 223.9L655.3 217.8M650.1 236.1L646.0 230.0M652.1 241.4L646.7 234.2M654.9 223.0L652.0 214.1M685.5 222.6L689.6 213.8M651.3 243.9L645.1 237.1M673.9 232.3L675.4 225.7M659.4 222.9L658.2 216.8"/>
<path fill="none" stroke="#ff3c08" stroke-width="1.3" d="M659.2 222.6L658.2 217.7M651.5 243.7L647.0 238.6M658.9 222.8L657.8 217.5M673.3 232.3L675.1 223.5M668.4 225.3L668.7 214.3M667.0 225.4L667.0 219.7M661.8 227.6L660.2 218.4M662.3 227.7L661.2 220.2M666.8 225.9L666.6 217.5M659.6 223.4L658.2 216.2M669.8 229.7L670.6 218.9M664.9 228.4L664.5 222.5"/>
<path fill="none" stroke="#f81800" stroke-width="1.3" d="M648.6 226.5L644.6 218.9M675.4 232.3L677.5 224.7M671.3 231.5L672.1 225.7M651.4 243.8L647.4 239.4M661.5 227.5L659.8 217.8M665.6 228.0L665.1 217.6M674.0 232.3L675.8 224.4M649.9 223.9L647.6 218.7M662.4 227.7L661.0 217.8M672.0 232.3L672.9 226.6M662.8 227.8L661.7 219.8M651.1 221.3L647.7 212.9"/>
<path fill="none" stroke="#000066" stroke-width="1.4" d="M673.7 275.4L675.2 278.6M674.6 297.9L675.3 301.6M672.9 284.4L673.7 287.9M682.0 291.3L683.4 294.2M676.3 294.6L677.2 297.9M689.2 304.3L690.4 306.6M680.4 309.5L681.4 313.3M684.7 300.2L685.9 303.0M677.0 282.9L678.5 286.4M671.0 278.6L671.8 282.4M674.5 276.9L675.9 279.9M675.9 292.3L676.5 294.6M682.5 304.3L683.5 306.9M673.5 274.5L675.0 277.6M679.7 310.4L680.7 314.3M673.0 280.2L673.8 282.8M672.6 285.6L673.2 288.1M682.7 293.9L683.9 296.4M678.7 306.8L679.6 310.6M673.7 285.9L674.4 288.5M684.1 300.8L685.4 304.0M676.3 310.9L676.6 312.5M673.8 290.3L674.5 293.6M679.4 284.1L681.2 287.5M673.8 275.1L674.6 276.8M678.6 306.0L679.0 307.5M681.6 289.5L682.4 291.1M674.9 297.6L675.4 299.9M674.6 279.6L675.6 282.2M673.0 275.7L674.0 278.4"/>
<path fill="none" stroke="#f01000" stroke-width="1.4" d="M683.1 287.4L684.3 289.5M691.2 288.0L695.3 292.5M687.8 297.6L689.7 301.0M689.6 294.7L692.5 298.9M686.8 299.4L688.8 303.2M696.1 290.2L700.1 294.2M685.0 296.7L686.3 299.3M687.2 297.2L691.4 305.0M690.8 290.5L693.3 293.6M685.4 292.4L689.3 299.0M691.4 298.9L694.8 304.2M687.2 286.8L690.5 291.1M690.5 284.4L695.7 289.6M690.3 292.3L694.8 298.4M686.1 285.0L690.8 291.0M687.1 295.3L690.0 300.3M685.2 292.4L688.6 298.2M687.4 289.5L688.7 291.3M683.1 291.9L684.3 294.2M690.5 298.1L693.3 302.7M688.2 291.1L692.0 296.6M693.4 294.3L698.6 300.9M687.4 291.5L691.8 298.1M699.0 293.7L703.5 298.3M684.4 290.3L687.5 295.4M690.7 291.9L693.2 295.2"/>
<path fill="none" stroke="#ff2a00" stroke-width="1.4" d="M691.8 287.4L697.8 293.6M686.0 289.4L687.6 291.8M687.6 288.2L689.5 290.8M695.2 289.0L700.1 293.8M693.4 290.4L698.3 295.9M696.3 295.5L699.7 299.5M696.5 290.0L700.5 293.9M690.1 292.7L693.1 296.9M687.5 295.7L689.6 299.2M688.2 296.3L692.5 303.4M689.5 284.3L695.7 290.6M686.7 297.5L688.5 300.8M691.4 286.4L696.7 291.8M689.5 295.0L692.2 299.1"/>
<path fill="none" stroke="#f01000" stroke-width="1.3" d="M681.1 231.5L683.2 227.1M675.6 240.4L676.4 238.2M686.0 234.4L687.5 232.3M679.4 231.0L680.8 227.3M689.5 234.2L690.9 232.5M686.9 230.0L689.5 225.9M683.7 227.9L685.5 224.4M686.5 243.7L689.6 241.0M688.7 239.6L690.3 237.9M676.5 238.4L677.4 236.2M678.8 230.4L679.6 228.2M690.7 235.0L693.6 231.7M691.1 236.0L694.4 232.5M692.2 239.4L695.9 236.1M674.9 238.8L675.6 236.7M678.2 234.8L679.4 231.7M689.5 233.8L690.9 232.1M682.8 233.6L684.3 230.9M678.0 230.5L679.0 227.5M686.7 237.3L689.8 233.5M684.6 245.8L687.8 243.0M685.0 240.5L686.5 238.7M682.2 237.3L684.5 233.7M688.5 241.8L690.6 239.8M685.8 232.3L688.2 228.6"/>
<line x1="520" y1="322.7" x2="531.1" y2="317.1" stroke="#f00000" stroke-width="1"/>
<rect x="650.2" y="212.2" width="1.6" height="1.6" fill="#ff3000"/>
<rect x="658.2" y="211.2" width="1.6" height="1.6" fill="#ff3000"/>
<rect x="687.2" y="213.7" width="1.6" height="1.6" fill="#ff3000"/>
<rect x="693.2" y="217.2" width="1.6" height="1.6" fill="#ff3000"/>
<rect x="710.2" y="257.2" width="1.6" height="1.6" fill="#ff3000"/>
<rect x="711.2" y="282.2" width="1.6" height="1.6" fill="#ff3000"/>
<rect x="637.7" y="248.7" width="1.6" height="1.6" fill="#ff3000"/>
<rect x="640.7" y="249.89999999999998" width="1.6" height="1.6" fill="#ff3000"/>
<rect x="643.7" y="251.2" width="1.6" height="1.6" fill="#ff3000"/>
<rect x="646.7" y="252.39999999999998" width="1.6" height="1.6" fill="#ff3000"/>
<rect x="649.7" y="253.6" width="1.6" height="1.6" fill="#ff3000"/>
<rect x="627.2" y="267.2" width="1.6" height="1.6" fill="#ff3000"/>
<rect x="696.2" y="318.2" width="1.6" height="1.6" fill="#ff3000"/>
<rect x="705.2" y="290.2" width="1.6" height="1.6" fill="#ff3000"/>
<rect x="700.2" y="233.2" width="1.6" height="1.6" fill="#000066"/>
<rect x="705.2" y="270.2" width="1.6" height="1.6" fill="#000066"/>
<rect x="713.2" y="287.2" width="1.6" height="1.6" fill="#000066"/>
<rect x="632.2" y="274.2" width="1.6" height="1.6" fill="#000066"/>
<circle cx="667.3" cy="261.4" r="5.6" fill="#fff"/>
<g fill="none" stroke="#000" stroke-width="1.1" stroke-linejoin="round">
<polyline points="480.2,179.1 489.9,179.1 492.0,177.8 494.0,173.6 496.1,173.1 499.7,175.2 503.9,176.7 509.0,181.2 519.4,178.3 529.7,173.6 539.0,167.7 547.8,162.2 548.9,161.7 549.2,155.0 551.4,154.5 551.7,149.8 554.3,147.4 551.4,143.6 549.4,145.7 547.1,142.6 546.3,141.6 547.6,140.7 549.7,135.9 552.4,134.1 574.5,133.1 575.2,146.2 583.4,145.5 584.8,139.3 583.4,134.5 586.9,133.8 589.0,131.7 592.4,135.2 599.3,135.9 607.6,139.3 611.2,137.6 618.6,138.0 623.8,139.3 626.2,142.8 629.6,143.6 634.2,141.0 638.8,142.8 642.2,141.0 645.7,136.4 649.2,138.2 652.6,137.6 656.0,133.0 659.5,135.9 664.1,131.3 660.6,130.1 665.2,128.4 671.0,125.5 675.0,123.8 675.0,126.1 677.9,127.8 680.7,127.2 681.3,123.2 683.6,121.5 684.2,116.3 692.2,116.9 693.4,120.9 697.4,120.9 698.9,121.8 700.7,122.7 701.6,127.3 702.5,131.9 704.0,133.8 703.4,138.4 699.8,137.4 696.1,137.4 698.9,145.7 705.3,144.3 705.8,140.2 708.0,141.1 710.8,144.8 714.5,143.5 713.6,137.4 715.4,137.4 716.3,141.1 726.4,136.5 724.6,131.0 722.8,129.2 715.4,131.9 709.0,128.8 715.4,124.6 708.0,109.9 720.0,104.3 730.1,122.7 733.8,122.2 734.7,125.5 731.0,128.3 730.1,130.1 740.2,127.3 737.5,120.0 735.6,116.3 738.4,116.3 740.8,119.1 745.7,116.3 744.8,113.5 743.0,112.6 732.8,103.0 739.1,96.3 753.5,107.9 758.8,101.2 756.3,99.1 753.9,101.6 741.2,90.4 744.4,81.2 751.1,79.0 758.1,81.2 772.1,85.1 773.2,82.6 773.5,75.0"/>
<polyline points="519.7,75.0 518.1,77.6 514.5,80.8 513.3,83.3 512.1,84.9 512.9,88.1 513.3,93.7 512.5,96.1 515.7,97.7 517.3,101.8 519.7,106.6 522.9,111.0 526.5,111.3 529.4,111.4 533.0,108.2 535.4,109.0 537.8,107.4 541.8,106.6 543.4,103.4 543.8,99.8 548.3,97.7 549.5,95.3 551.1,90.9 555.5,89.7 553.5,86.5 554.7,82.5 553.1,78.4 552.9,75.0"/>
<polyline points="763.7,75.3 767.2,76.3 768.2,79.8 770.0,78.0 770.5,75.5"/>
<polyline points="668.5,112.6 670.3,117.2"/>
</g>
<circle cx="508.0" cy="85.3" r="1.2" fill="#000"/>
</g>
<g stroke="#000" fill="none">
<rect x="480.2" y="74.4" width="374.7" height="374.6" stroke-width="2"/>
<line x1="480.20" y1="74.4" x2="480.20" y2="59.7" stroke-width="1.8"/>
<line x1="480.20" y1="449.0" x2="480.20" y2="463.7" stroke-width="1.8"/>
<line x1="480.2" y1="74.40" x2="465.5" y2="74.40" stroke-width="1.8"/>
<line x1="854.9" y1="74.40" x2="869.6" y2="74.40" stroke-width="1.8"/>
<line x1="491.91" y1="74.4" x2="491.91" y2="67.4" stroke-width="1.2"/>
<line x1="491.91" y1="449.0" x2="491.91" y2="456.0" stroke-width="1.2"/>
<line x1="480.2" y1="86.11" x2="473.2" y2="86.11" stroke-width="1.2"/>
<line x1="854.9" y1="86.11" x2="861.9" y2="86.11" stroke-width="1.2"/>
<line x1="503.62" y1="74.4" x2="503.62" y2="67.4" stroke-width="1.2"/>
<line x1="503.62" y1="449.0" x2="503.62" y2="456.0" stroke-width="1.2"/>
<line x1="480.2" y1="97.81" x2="473.2" y2="97.81" stroke-width="1.2"/>
<line x1="854.9" y1="97.81" x2="861.9" y2="97.81" stroke-width="1.2"/>
<line x1="515.33" y1="74.4" x2="515.33" y2="67.4" stroke-width="1.2"/>
<line x1="515.33" y1="449.0" x2="515.33" y2="456.0" stroke-width="1.2"/>
<line x1="480.2" y1="109.52" x2="473.2" y2="109.52" stroke-width="1.2"/>
<line x1="854.9" y1="109.52" x2="861.9" y2="109.52" stroke-width="1.2"/>
<line x1="527.04" y1="74.4" x2="527.04" y2="67.4" stroke-width="1.2"/>
<line x1="527.04" y1="449.0" x2="527.04" y2="456.0" stroke-width="1.2"/>
<line x1="480.2" y1="121.23" x2="473.2" y2="121.23" stroke-width="1.2"/>
<line x1="854.9" y1="121.23" x2="861.9" y2="121.23" stroke-width="1.2"/>
<line x1="538.75" y1="74.4" x2="538.75" y2="67.4" stroke-width="1.2"/>
<line x1="538.75" y1="449.0" x2="538.75" y2="456.0" stroke-width="1.2"/>
<line x1="480.2" y1="132.93" x2="473.2" y2="132.93" stroke-width="1.2"/>
<line x1="854.9" y1="132.93" x2="861.9" y2="132.93" stroke-width="1.2"/>
<line x1="550.46" y1="74.4" x2="550.46" y2="67.4" stroke-width="1.2"/>
<line x1="550.46" y1="449.0" x2="550.46" y2="456.0" stroke-width="1.2"/>
<line x1="480.2" y1="144.64" x2="473.2" y2="144.64" stroke-width="1.2"/>
<line x1="854.9" y1="144.64" x2="861.9" y2="144.64" stroke-width="1.2"/>
<line x1="562.17" y1="74.4" x2="562.17" y2="67.4" stroke-width="1.2"/>
<line x1="562.17" y1="449.0" x2="562.17" y2="456.0" stroke-width="1.2"/>
<line x1="480.2" y1="156.34" x2="473.2" y2="156.34" stroke-width="1.2"/>
<line x1="854.9" y1="156.34" x2="861.9" y2="156.34" stroke-width="1.2"/>
<line x1="573.88" y1="74.4" x2="573.88" y2="59.7" stroke-width="1.8"/>
<line x1="573.88" y1="449.0" x2="573.88" y2="463.7" stroke-width="1.8"/>
<line x1="480.2" y1="168.05" x2="465.5" y2="168.05" stroke-width="1.8"/>
<line x1="854.9" y1="168.05" x2="869.6" y2="168.05" stroke-width="1.8"/>
<line x1="585.58" y1="74.4" x2="585.58" y2="67.4" stroke-width="1.2"/>
<line x1="585.58" y1="449.0" x2="585.58" y2="456.0" stroke-width="1.2"/>
<line x1="480.2" y1="179.76" x2="473.2" y2="179.76" stroke-width="1.2"/>
<line x1="854.9" y1="179.76" x2="861.9" y2="179.76" stroke-width="1.2"/>
<line x1="597.29" y1="74.4" x2="597.29" y2="67.4" stroke-width="1.2"/>
<line x1="597.29" y1="449.0" x2="597.29" y2="456.0" stroke-width="1.2"/>
<line x1="480.2" y1="191.46" x2="473.2" y2="191.46" stroke-width="1.2"/>
<line x1="854.9" y1="191.46" x2="861.9" y2="191.46" stroke-width="1.2"/>
<line x1="609.00" y1="74.4" x2="609.00" y2="67.4" stroke-width="1.2"/>
<line x1="609.00" y1="449.0" x2="609.00" y2="456.0" stroke-width="1.2"/>
<line x1="480.2" y1="203.17" x2="473.2" y2="203.17" stroke-width="1.2"/>
<line x1="854.9" y1="203.17" x2="861.9" y2="203.17" stroke-width="1.2"/>
<line x1="620.71" y1="74.4" x2="620.71" y2="67.4" stroke-width="1.2"/>
<line x1="620.71" y1="449.0" x2="620.71" y2="456.0" stroke-width="1.2"/>
<line x1="480.2" y1="214.88" x2="473.2" y2="214.88" stroke-width="1.2"/>
<line x1="854.9" y1="214.88" x2="861.9" y2="214.88" stroke-width="1.2"/>
<line x1="632.42" y1="74.4" x2="632.42" y2="67.4" stroke-width="1.2"/>
<line x1="632.42" y1="449.0" x2="632.42" y2="456.0" stroke-width="1.2"/>
<line x1="480.2" y1="226.58" x2="473.2" y2="226.58" stroke-width="1.2"/>
<line x1="854.9" y1="226.58" x2="861.9" y2="226.58" stroke-width="1.2"/>
<line x1="644.13" y1="74.4" x2="644.13" y2="67.4" stroke-width="1.2"/>
<line x1="644.13" y1="449.0" x2="644.13" y2="456.0" stroke-width="1.2"/>
<line x1="480.2" y1="238.29" x2="473.2" y2="238.29" stroke-width="1.2"/>
<line x1="854.9" y1="238.29" x2="861.9" y2="238.29" stroke-width="1.2"/>
<line x1="655.84" y1="74.4" x2="655.84" y2="67.4" stroke-width="1.2"/>
<line x1="655.84" y1="449.0" x2="655.84" y2="456.0" stroke-width="1.2"/>
<line x1="480.2" y1="249.99" x2="473.2" y2="249.99" stroke-width="1.2"/>
<line x1="854.9" y1="249.99" x2="861.9" y2="249.99" stroke-width="1.2"/>
<line x1="667.55" y1="74.4" x2="667.55" y2="59.7" stroke-width="1.8"/>
<line x1="667.55" y1="449.0" x2="667.55" y2="463.7" stroke-width="1.8"/>
<line x1="480.2" y1="261.70" x2="465.5" y2="261.70" stroke-width="1.8"/>
<line x1="854.9" y1="261.70" x2="869.6" y2="261.70" stroke-width="1.8"/>
<line x1="679.26" y1="74.4" x2="679.26" y2="67.4" stroke-width="1.2"/>
<line x1="679.26" y1="449.0" x2="679.26" y2="456.0" stroke-width="1.2"/>
<line x1="480.2" y1="273.41" x2="473.2" y2="273.41" stroke-width="1.2"/>
<line x1="854.9" y1="273.41" x2="861.9" y2="273.41" stroke-width="1.2"/>
<line x1="690.97" y1="74.4" x2="690.97" y2="67.4" stroke-width="1.2"/>
<line x1="690.97" y1="449.0" x2="690.97" y2="456.0" stroke-width="1.2"/>
<line x1="480.2" y1="285.11" x2="473.2" y2="285.11" stroke-width="1.2"/>
<line x1="854.9" y1="285.11" x2="861.9" y2="285.11" stroke-width="1.2"/>
<line x1="702.68" y1="74.4" x2="702.68" y2="67.4" stroke-width="1.2"/>
<line x1="702.68" y1="449.0" x2="702.68" y2="456.0" stroke-width="1.2"/>
<line x1="480.2" y1="296.82" x2="473.2" y2="296.82" stroke-width="1.2"/>
<line x1="854.9" y1="296.82" x2="861.9" y2="296.82" stroke-width="1.2"/>
<line x1="714.39" y1="74.4" x2="714.39" y2="67.4" stroke-width="1.2"/>
<line x1="714.39" y1="449.0" x2="714.39" y2="456.0" stroke-width="1.2"/>
<line x1="480.2" y1="308.52" x2="473.2" y2="308.52" stroke-width="1.2"/>
<line x1="854.9" y1="308.52" x2="861.9" y2="308.52" stroke-width="1.2"/>
<line x1="726.10" y1="74.4" x2="726.10" y2="67.4" stroke-width="1.2"/>
<line x1="726.10" y1="449.0" x2="726.10" y2="456.0" stroke-width="1.2"/>
<line x1="480.2" y1="320.23" x2="473.2" y2="320.23" stroke-width="1.2"/>
<line x1="854.9" y1="320.23" x2="861.9" y2="320.23" stroke-width="1.2"/>
<line x1="737.81" y1="74.4" x2="737.81" y2="67.4" stroke-width="1.2"/>
<line x1="737.81" y1="449.0" x2="737.81" y2="456.0" stroke-width="1.2"/>
<line x1="480.2" y1="331.94" x2="473.2" y2="331.94" stroke-width="1.2"/>
<line x1="854.9" y1="331.94" x2="861.9" y2="331.94" stroke-width="1.2"/>
<line x1="749.52" y1="74.4" x2="749.52" y2="67.4" stroke-width="1.2"/>
<line x1="749.52" y1="449.0" x2="749.52" y2="456.0" stroke-width="1.2"/>
<line x1="480.2" y1="343.64" x2="473.2" y2="343.64" stroke-width="1.2"/>
<line x1="854.9" y1="343.64" x2="861.9" y2="343.64" stroke-width="1.2"/>
<line x1="761.22" y1="74.4" x2="761.22" y2="59.7" stroke-width="1.8"/>
<line x1="761.22" y1="449.0" x2="761.22" y2="463.7" stroke-width="1.8"/>
<line x1="480.2" y1="355.35" x2="465.5" y2="355.35" stroke-width="1.8"/>
<line x1="854.9" y1="355.35" x2="869.6" y2="355.35" stroke-width="1.8"/>
<line x1="772.93" y1="74.4" x2="772.93" y2="67.4" stroke-width="1.2"/>
<line x1="772.93" y1="449.0" x2="772.93" y2="456.0" stroke-width="1.2"/>
<line x1="480.2" y1="367.06" x2="473.2" y2="367.06" stroke-width="1.2"/>
<line x1="854.9" y1="367.06" x2="861.9" y2="367.06" stroke-width="1.2"/>
<line x1="784.64" y1="74.4" x2="784.64" y2="67.4" stroke-width="1.2"/>
<line x1="784.64" y1="449.0" x2="784.64" y2="456.0" stroke-width="1.2"/>
<line x1="480.2" y1="378.76" x2="473.2" y2="378.76" stroke-width="1.2"/>
<line x1="854.9" y1="378.76" x2="861.9" y2="378.76" stroke-width="1.2"/>
<line x1="796.35" y1="74.4" x2="796.35" y2="67.4" stroke-width="1.2"/>
<line x1="796.35" y1="449.0" x2="796.35" y2="456.0" stroke-width="1.2"/>
<line x1="480.2" y1="390.47" x2="473.2" y2="390.47" stroke-width="1.2"/>
<line x1="854.9" y1="390.47" x2="861.9" y2="390.47" stroke-width="1.2"/>
<line x1="808.06" y1="74.4" x2="808.06" y2="67.4" stroke-width="1.2"/>
<line x1="808.06" y1="449.0" x2="808.06" y2="456.0" stroke-width="1.2"/>
<line x1="480.2" y1="402.18" x2="473.2" y2="402.18" stroke-width="1.2"/>
<line x1="854.9" y1="402.18" x2="861.9" y2="402.18" stroke-width="1.2"/>
<line x1="819.77" y1="74.4" x2="819.77" y2="67.4" stroke-width="1.2"/>
<line x1="819.77" y1="449.0" x2="819.77" y2="456.0" stroke-width="1.2"/>
<line x1="480.2" y1="413.88" x2="473.2" y2="413.88" stroke-width="1.2"/>
<line x1="854.9" y1="413.88" x2="861.9" y2="413.88" stroke-width="1.2"/>
<line x1="831.48" y1="74.4" x2="831.48" y2="67.4" stroke-width="1.2"/>
<line x1="831.48" y1="449.0" x2="831.48" y2="456.0" stroke-width="1.2"/>
<line x1="480.2" y1="425.59" x2="473.2" y2="425.59" stroke-width="1.2"/>
<line x1="854.9" y1="425.59" x2="861.9" y2="425.59" stroke-width="1.2"/>
<line x1="843.19" y1="74.4" x2="843.19" y2="67.4" stroke-width="1.2"/>
<line x1="843.19" y1="449.0" x2="843.19" y2="456.0" stroke-width="1.2"/>
<line x1="480.2" y1="437.29" x2="473.2" y2="437.29" stroke-width="1.2"/>
<line x1="854.9" y1="437.29" x2="861.9" y2="437.29" stroke-width="1.2"/>
<line x1="854.90" y1="74.4" x2="854.90" y2="59.7" stroke-width="1.8"/>
<line x1="854.90" y1="449.0" x2="854.90" y2="463.7" stroke-width="1.8"/>
<line x1="480.2" y1="449.00" x2="465.5" y2="449.00" stroke-width="1.8"/>
<line x1="854.9" y1="449.00" x2="869.6" y2="449.00" stroke-width="1.8"/>
</g>
<text x="480.2" y="499.7" text-anchor="middle" class="d">−8</text>
<text x="573.9" y="499.7" text-anchor="middle" class="d">−4</text>
<text x="667.5" y="499.7" text-anchor="middle" class="d">0</text>
<text x="761.2" y="499.7" text-anchor="middle" class="d">4</text>
<text x="854.9" y="499.7" text-anchor="middle" class="d">8</text>
<text x="58.8" y="25.3" class="ti" textLength="146.0" lengthAdjust="spacingAndGlyphs">Fukuoka,</text>
<text x="212.9" y="25.3" class="ti" textLength="147.0" lengthAdjust="spacingAndGlyphs">20181119</text>
<text x="366.8" y="25.3" class="ti" textLength="102.8" lengthAdjust="spacingAndGlyphs">[08:53,</text>
<text x="480.0" y="25.3" class="ti" textLength="104.4" lengthAdjust="spacingAndGlyphs">el=0.0]</text>
<text x="58.2" y="59.2" class="t" style="font-size:28px" textLength="57.6" lengthAdjust="spacingAndGlyphs">SNR</text>
<text x="122.3" y="59.2" class="t" style="font-size:28px" textLength="57.0" lengthAdjust="spacingAndGlyphs">[dB]</text>
<text x="479.8" y="59.1" class="t" style="font-size:28px" textLength="110.8" lengthAdjust="spacingAndGlyphs">Doppler</text>
<text x="598.8" y="59.1" class="t" style="font-size:28px" textLength="111.4" lengthAdjust="spacingAndGlyphs">Velocity</text>
<text x="716.3" y="59.1" class="t" style="font-size:28px" textLength="73.8" lengthAdjust="spacingAndGlyphs">[m/s]</text>
<rect x="58.70" y="509.5" width="9.11" height="9.7" fill="rgb(0,0,0)" stroke="#000" stroke-width="2"/>
<rect x="67.81" y="509.5" width="9.11" height="9.7" fill="rgb(0,0,0)" stroke="#000" stroke-width="2"/>
<rect x="76.92" y="509.5" width="9.11" height="9.7" fill="rgb(0,0,0)" stroke="#000" stroke-width="2"/>
<rect x="86.03" y="509.5" width="9.11" height="9.7" fill="rgb(0,0,0)" stroke="#000" stroke-width="2"/>
<rect x="95.13" y="509.5" width="9.11" height="9.7" fill="rgb(0,0,0)" stroke="#000" stroke-width="2"/>
<rect x="104.24" y="509.5" width="9.11" height="9.7" fill="rgb(0,0,0)" stroke="#000" stroke-width="2"/>
<rect x="113.35" y="509.5" width="9.11" height="9.7" fill="rgb(0,0,0)" stroke="#000" stroke-width="2"/>
<rect x="122.46" y="509.5" width="9.11" height="9.7" fill="rgb(0,0,0)" stroke="#000" stroke-width="2"/>
<rect x="131.57" y="509.5" width="9.11" height="9.7" fill="rgb(0,0,0)" stroke="#000" stroke-width="2"/>
<rect x="140.68" y="509.5" width="9.11" height="9.7" fill="rgb(0,0,0)" stroke="#000" stroke-width="2"/>
<rect x="149.78" y="509.5" width="9.11" height="9.7" fill="rgb(10,10,10)" stroke="#000" stroke-width="2"/>
<rect x="158.89" y="509.5" width="9.11" height="9.7" fill="rgb(19,19,19)" stroke="#000" stroke-width="2"/>
<rect x="168.00" y="509.5" width="9.11" height="9.7" fill="rgb(29,29,29)" stroke="#000" stroke-width="2"/>
<rect x="177.11" y="509.5" width="9.11" height="9.7" fill="rgb(38,38,38)" stroke="#000" stroke-width="2"/>
<rect x="186.22" y="509.5" width="9.11" height="9.7" fill="rgb(48,48,48)" stroke="#000" stroke-width="2"/>
<rect x="195.32" y="509.5" width="9.11" height="9.7" fill="rgb(58,58,58)" stroke="#000" stroke-width="2"/>
<rect x="204.43" y="509.5" width="9.11" height="9.7" fill="rgb(67,67,67)" stroke="#000" stroke-width="2"/>
<rect x="213.54" y="509.5" width="9.11" height="9.7" fill="rgb(77,77,77)" stroke="#000" stroke-width="2"/>
<rect x="222.65" y="509.5" width="9.11" height="9.7" fill="rgb(86,86,86)" stroke="#000" stroke-width="2"/>
<rect x="231.76" y="509.5" width="9.11" height="9.7" fill="rgb(96,96,96)" stroke="#000" stroke-width="2"/>
<rect x="240.87" y="509.5" width="9.11" height="9.7" fill="rgb(106,106,106)" stroke="#000" stroke-width="2"/>
<rect x="249.98" y="509.5" width="9.11" height="9.7" fill="rgb(115,115,115)" stroke="#000" stroke-width="2"/>
<rect x="259.08" y="509.5" width="9.11" height="9.7" fill="rgb(125,125,125)" stroke="#000" stroke-width="2"/>
<rect x="268.19" y="509.5" width="9.11" height="9.7" fill="rgb(134,134,134)" stroke="#000" stroke-width="2"/>
<rect x="277.30" y="509.5" width="9.11" height="9.7" fill="rgb(144,144,144)" stroke="#000" stroke-width="2"/>
<rect x="286.41" y="509.5" width="9.11" height="9.7" fill="rgb(154,154,154)" stroke="#000" stroke-width="2"/>
<rect x="295.52" y="509.5" width="9.11" height="9.7" fill="rgb(163,163,163)" stroke="#000" stroke-width="2"/>
<rect x="304.62" y="509.5" width="9.11" height="9.7" fill="rgb(173,173,173)" stroke="#000" stroke-width="2"/>
<rect x="313.73" y="509.5" width="9.11" height="9.7" fill="rgb(182,182,182)" stroke="#000" stroke-width="2"/>
<rect x="322.84" y="509.5" width="9.11" height="9.7" fill="rgb(192,192,192)" stroke="#000" stroke-width="2"/>
<rect x="331.95" y="509.5" width="9.11" height="9.7" fill="rgb(202,202,202)" stroke="#000" stroke-width="2"/>
<rect x="341.06" y="509.5" width="9.11" height="9.7" fill="rgb(211,211,211)" stroke="#000" stroke-width="2"/>
<rect x="350.17" y="509.5" width="9.11" height="9.7" fill="rgb(221,221,221)" stroke="#000" stroke-width="2"/>
<rect x="359.28" y="509.5" width="9.11" height="9.7" fill="rgb(230,230,230)" stroke="#000" stroke-width="2"/>
<rect x="368.38" y="509.5" width="9.11" height="9.7" fill="rgb(240,240,240)" stroke="#000" stroke-width="2"/>
<rect x="377.49" y="509.5" width="9.11" height="9.7" fill="rgb(250,250,250)" stroke="#000" stroke-width="2"/>
<polygon points="386.6,509.5 395.1,514.4 386.6,519.2" fill="#ffff00" stroke="#000" stroke-width="2" stroke-linejoin="miter"/>
<g stroke="#000">
<line x1="58.70" y1="519.2" x2="58.70" y2="526" stroke-width="1.5"/>
<line x1="67.81" y1="519.2" x2="67.81" y2="526" stroke-width="1.5"/>
<line x1="76.92" y1="519.2" x2="76.92" y2="526" stroke-width="1.5"/>
<line x1="86.03" y1="519.2" x2="86.03" y2="526" stroke-width="1.5"/>
<line x1="95.13" y1="519.2" x2="95.13" y2="526" stroke-width="1.5"/>
<line x1="104.24" y1="519.2" x2="104.24" y2="526" stroke-width="1.5"/>
<line x1="113.35" y1="519.2" x2="113.35" y2="526" stroke-width="1.5"/>
<line x1="122.46" y1="519.2" x2="122.46" y2="526" stroke-width="1.5"/>
<line x1="131.57" y1="519.2" x2="131.57" y2="526" stroke-width="1.5"/>
<line x1="140.68" y1="519.2" x2="140.68" y2="526" stroke-width="1.5"/>
<line x1="149.78" y1="519.2" x2="149.78" y2="526" stroke-width="1.5"/>
<line x1="158.89" y1="519.2" x2="158.89" y2="526" stroke-width="1.5"/>
<line x1="168.00" y1="519.2" x2="168.00" y2="526" stroke-width="1.5"/>
<line x1="177.11" y1="519.2" x2="177.11" y2="526" stroke-width="1.5"/>
<line x1="186.22" y1="519.2" x2="186.22" y2="526" stroke-width="1.5"/>
<line x1="195.33" y1="519.2" x2="195.33" y2="526" stroke-width="1.5"/>
<line x1="204.43" y1="519.2" x2="204.43" y2="526" stroke-width="1.5"/>
<line x1="213.54" y1="519.2" x2="213.54" y2="526" stroke-width="1.5"/>
<line x1="222.65" y1="519.2" x2="222.65" y2="526" stroke-width="1.5"/>
<line x1="231.76" y1="519.2" x2="231.76" y2="526" stroke-width="1.5"/>
<line x1="240.87" y1="519.2" x2="240.87" y2="526" stroke-width="1.5"/>
<line x1="249.98" y1="519.2" x2="249.98" y2="526" stroke-width="1.5"/>
<line x1="259.08" y1="519.2" x2="259.08" y2="526" stroke-width="1.5"/>
<line x1="268.19" y1="519.2" x2="268.19" y2="526" stroke-width="1.5"/>
<line x1="277.30" y1="519.2" x2="277.30" y2="526" stroke-width="1.5"/>
<line x1="286.41" y1="519.2" x2="286.41" y2="526" stroke-width="1.5"/>
<line x1="295.52" y1="519.2" x2="295.52" y2="526" stroke-width="1.5"/>
<line x1="304.63" y1="519.2" x2="304.63" y2="526" stroke-width="1.5"/>
<line x1="313.73" y1="519.2" x2="313.73" y2="526" stroke-width="1.5"/>
<line x1="322.84" y1="519.2" x2="322.84" y2="526" stroke-width="1.5"/>
<line x1="331.95" y1="519.2" x2="331.95" y2="526" stroke-width="1.5"/>
<line x1="341.06" y1="519.2" x2="341.06" y2="526" stroke-width="1.5"/>
<line x1="350.17" y1="519.2" x2="350.17" y2="526" stroke-width="1.5"/>
<line x1="359.28" y1="519.2" x2="359.28" y2="526" stroke-width="1.5"/>
<line x1="368.38" y1="519.2" x2="368.38" y2="526" stroke-width="1.5"/>
<line x1="377.49" y1="519.2" x2="377.49" y2="526" stroke-width="1.5"/>
<line x1="386.60" y1="519.2" x2="386.60" y2="526" stroke-width="1.5"/>
<line x1="58.70" y1="519.2" x2="58.70" y2="533.6" stroke-width="1.8"/>
<line x1="104.24" y1="519.2" x2="104.24" y2="533.6" stroke-width="1.8"/>
<line x1="149.78" y1="519.2" x2="149.78" y2="533.6" stroke-width="1.8"/>
<line x1="195.32" y1="519.2" x2="195.32" y2="533.6" stroke-width="1.8"/>
<line x1="240.87" y1="519.2" x2="240.87" y2="533.6" stroke-width="1.8"/>
<line x1="286.41" y1="519.2" x2="286.41" y2="533.6" stroke-width="1.8"/>
<line x1="331.95" y1="519.2" x2="331.95" y2="533.6" stroke-width="1.8"/>
<line x1="377.49" y1="519.2" x2="377.49" y2="533.6" stroke-width="1.8"/>
</g>
<text x="58.7" y="569.3" text-anchor="middle" class="d">0</text>
<text x="104.2" y="569.3" text-anchor="middle" class="d">2.5</text>
<text x="149.8" y="569.3" text-anchor="middle" class="d">5</text>
<text x="195.3" y="569.3" text-anchor="middle" class="d">7.5</text>
<text x="240.9" y="569.3" text-anchor="middle" class="d">10</text>
<text x="286.4" y="569.3" text-anchor="middle" class="d">12.5</text>
<text x="331.9" y="569.3" text-anchor="middle" class="d">15</text>
<text x="377.5" y="569.3" text-anchor="middle" class="d">17.5</text>
<rect x="480.20" y="509.5" width="8.63" height="9.7" fill="#ccffff" stroke="#000" stroke-width="2"/>
<rect x="488.83" y="509.5" width="8.63" height="9.7" fill="#b0ffff" stroke="#000" stroke-width="2"/>
<rect x="497.46" y="509.5" width="8.63" height="9.7" fill="#98fcfc" stroke="#000" stroke-width="2"/>
<rect x="506.09" y="509.5" width="8.63" height="9.7" fill="#80fafa" stroke="#000" stroke-width="2"/>
<rect x="514.72" y="509.5" width="8.63" height="9.7" fill="#70f8f8" stroke="#000" stroke-width="2"/>
<rect x="523.34" y="509.5" width="8.63" height="9.7" fill="#48e8f8" stroke="#000" stroke-width="2"/>
<rect x="531.97" y="509.5" width="8.63" height="9.7" fill="#30c8f8" stroke="#000" stroke-width="2"/>
<rect x="540.60" y="509.5" width="8.63" height="9.7" fill="#20b0f0" stroke="#000" stroke-width="2"/>
<rect x="549.23" y="509.5" width="8.63" height="9.7" fill="#1898f0" stroke="#000" stroke-width="2"/>
<rect x="557.86" y="509.5" width="8.63" height="9.7" fill="#1080f0" stroke="#000" stroke-width="2"/>
<rect x="566.49" y="509.5" width="8.63" height="9.7" fill="#0868f0" stroke="#000" stroke-width="2"/>
<rect x="575.12" y="509.5" width="8.63" height="9.7" fill="#0850f0" stroke="#000" stroke-width="2"/>
<rect x="583.75" y="509.5" width="8.63" height="9.7" fill="#0020f8" stroke="#000" stroke-width="2"/>
<rect x="592.38" y="509.5" width="8.63" height="9.7" fill="#0000f8" stroke="#000" stroke-width="2"/>
<rect x="601.01" y="509.5" width="8.63" height="9.7" fill="#0000d8" stroke="#000" stroke-width="2"/>
<rect x="609.63" y="509.5" width="8.63" height="9.7" fill="#0000b0" stroke="#000" stroke-width="2"/>
<rect x="618.26" y="509.5" width="8.63" height="9.7" fill="#000090" stroke="#000" stroke-width="2"/>
<rect x="626.89" y="509.5" width="8.63" height="9.7" fill="#000070" stroke="#000" stroke-width="2"/>
<rect x="635.52" y="509.5" width="8.63" height="9.7" fill="#000048" stroke="#000" stroke-width="2"/>
<rect x="644.15" y="509.5" width="8.63" height="9.7" fill="#e80000" stroke="#000" stroke-width="2"/>
<rect x="652.78" y="509.5" width="8.63" height="9.7" fill="#f81000" stroke="#000" stroke-width="2"/>
<rect x="661.41" y="509.5" width="8.63" height="9.7" fill="#ff2800" stroke="#000" stroke-width="2"/>
<rect x="670.04" y="509.5" width="8.63" height="9.7" fill="#ff3800" stroke="#000" stroke-width="2"/>
<rect x="678.67" y="509.5" width="8.63" height="9.7" fill="#ff5000" stroke="#000" stroke-width="2"/>
<rect x="687.29" y="509.5" width="8.63" height="9.7" fill="#ff7000" stroke="#000" stroke-width="2"/>
<rect x="695.92" y="509.5" width="8.63" height="9.7" fill="#ff8000" stroke="#000" stroke-width="2"/>
<rect x="704.55" y="509.5" width="8.63" height="9.7" fill="#ff9818" stroke="#000" stroke-width="2"/>
<rect x="713.18" y="509.5" width="8.63" height="9.7" fill="#ffb028" stroke="#000" stroke-width="2"/>
<rect x="721.81" y="509.5" width="8.63" height="9.7" fill="#ffc030" stroke="#000" stroke-width="2"/>
<rect x="730.44" y="509.5" width="8.63" height="9.7" fill="#ffd840" stroke="#000" stroke-width="2"/>
<rect x="739.07" y="509.5" width="8.63" height="9.7" fill="#f8f850" stroke="#000" stroke-width="2"/>
<rect x="747.70" y="509.5" width="8.63" height="9.7" fill="#f8f860" stroke="#000" stroke-width="2"/>
<rect x="756.33" y="509.5" width="8.63" height="9.7" fill="#f8f870" stroke="#000" stroke-width="2"/>
<rect x="764.96" y="509.5" width="8.63" height="9.7" fill="#f8f880" stroke="#000" stroke-width="2"/>
<rect x="773.58" y="509.5" width="8.63" height="9.7" fill="#f8f898" stroke="#000" stroke-width="2"/>
<rect x="782.21" y="509.5" width="8.63" height="9.7" fill="#f8f8a8" stroke="#000" stroke-width="2"/>
<rect x="790.84" y="509.5" width="8.63" height="9.7" fill="#fcfcc0" stroke="#000" stroke-width="2"/>
<rect x="799.47" y="509.5" width="8.63" height="9.7" fill="#fcfcd8" stroke="#000" stroke-width="2"/>
<polygon points="808.1,509.5 816.6,514.4 808.1,519.2" fill="#fcfcf0" stroke="#000" stroke-width="2" stroke-linejoin="miter"/>
<polygon points="480.2,509.5 471.4,514.4 480.2,519.2" fill="#e8ffff" stroke="#000" stroke-width="2" stroke-linejoin="miter"/>
<g stroke="#000">
<line x1="480.20" y1="519.2" x2="480.20" y2="526" stroke-width="1.5"/>
<line x1="488.83" y1="519.2" x2="488.83" y2="526" stroke-width="1.5"/>
<line x1="497.46" y1="519.2" x2="497.46" y2="526" stroke-width="1.5"/>
<line x1="506.09" y1="519.2" x2="506.09" y2="526" stroke-width="1.5"/>
<line x1="514.72" y1="519.2" x2="514.72" y2="526" stroke-width="1.5"/>
<line x1="523.34" y1="519.2" x2="523.34" y2="526" stroke-width="1.5"/>
<line x1="531.97" y1="519.2" x2="531.97" y2="526" stroke-width="1.5"/>
<line x1="540.60" y1="519.2" x2="540.60" y2="526" stroke-width="1.5"/>
<line x1="549.23" y1="519.2" x2="549.23" y2="526" stroke-width="1.5"/>
<line x1="557.86" y1="519.2" x2="557.86" y2="526" stroke-width="1.5"/>
<line x1="566.49" y1="519.2" x2="566.49" y2="526" stroke-width="1.5"/>
<line x1="575.12" y1="519.2" x2="575.12" y2="526" stroke-width="1.5"/>
<line x1="583.75" y1="519.2" x2="583.75" y2="526" stroke-width="1.5"/>
<line x1="592.38" y1="519.2" x2="592.38" y2="526" stroke-width="1.5"/>
<line x1="601.01" y1="519.2" x2="601.01" y2="526" stroke-width="1.5"/>
<line x1="609.63" y1="519.2" x2="609.63" y2="526" stroke-width="1.5"/>
<line x1="618.26" y1="519.2" x2="618.26" y2="526" stroke-width="1.5"/>
<line x1="626.89" y1="519.2" x2="626.89" y2="526" stroke-width="1.5"/>
<line x1="635.52" y1="519.2" x2="635.52" y2="526" stroke-width="1.5"/>
<line x1="644.15" y1="519.2" x2="644.15" y2="526" stroke-width="1.5"/>
<line x1="652.78" y1="519.2" x2="652.78" y2="526" stroke-width="1.5"/>
<line x1="661.41" y1="519.2" x2="661.41" y2="526" stroke-width="1.5"/>
<line x1="670.04" y1="519.2" x2="670.04" y2="526" stroke-width="1.5"/>
<line x1="678.67" y1="519.2" x2="678.67" y2="526" stroke-width="1.5"/>
<line x1="687.29" y1="519.2" x2="687.29" y2="526" stroke-width="1.5"/>
<line x1="695.92" y1="519.2" x2="695.92" y2="526" stroke-width="1.5"/>
<line x1="704.55" y1="519.2" x2="704.55" y2="526" stroke-width="1.5"/>
<line x1="713.18" y1="519.2" x2="713.18" y2="526" stroke-width="1.5"/>
<line x1="721.81" y1="519.2" x2="721.81" y2="526" stroke-width="1.5"/>
<line x1="730.44" y1="519.2" x2="730.44" y2="526" stroke-width="1.5"/>
<line x1="739.07" y1="519.2" x2="739.07" y2="526" stroke-width="1.5"/>
<line x1="747.70" y1="519.2" x2="747.70" y2="526" stroke-width="1.5"/>
<line x1="756.33" y1="519.2" x2="756.33" y2="526" stroke-width="1.5"/>
<line x1="764.96" y1="519.2" x2="764.96" y2="526" stroke-width="1.5"/>
<line x1="773.58" y1="519.2" x2="773.58" y2="526" stroke-width="1.5"/>
<line x1="782.21" y1="519.2" x2="782.21" y2="526" stroke-width="1.5"/>
<line x1="790.84" y1="519.2" x2="790.84" y2="526" stroke-width="1.5"/>
<line x1="799.47" y1="519.2" x2="799.47" y2="526" stroke-width="1.5"/>
<line x1="808.10" y1="519.2" x2="808.10" y2="526" stroke-width="1.5"/>
<line x1="506.09" y1="519.2" x2="506.09" y2="533.6" stroke-width="1.8"/>
<line x1="575.12" y1="519.2" x2="575.12" y2="533.6" stroke-width="1.8"/>
<line x1="644.15" y1="519.2" x2="644.15" y2="533.6" stroke-width="1.8"/>
<line x1="713.18" y1="519.2" x2="713.18" y2="533.6" stroke-width="1.8"/>
<line x1="782.21" y1="519.2" x2="782.21" y2="533.6" stroke-width="1.8"/>
</g>
<text x="506.1" y="569.3" text-anchor="middle" class="d">−8</text>
<text x="575.1" y="569.3" text-anchor="middle" class="d">−4</text>
<text x="644.1" y="569.3" text-anchor="middle" class="d">0</text>
<text x="713.2" y="569.3" text-anchor="middle" class="d">4</text>
<text x="782.2" y="569.3" text-anchor="middle" class="d">8</text>
</svg></body></html>
